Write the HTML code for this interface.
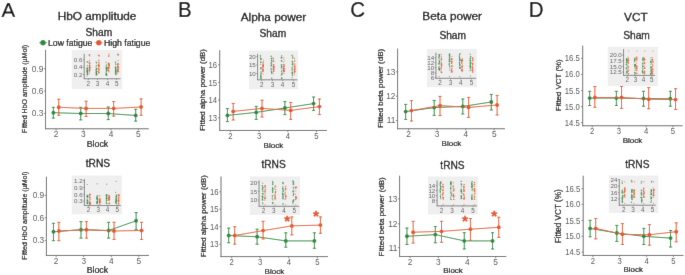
<!DOCTYPE html>
<html><head><meta charset="utf-8"><style>
html,body{margin:0;padding:0;background:#fff;}
svg{display:block;font-family:"Liberation Sans", sans-serif;will-change:transform;}
</style></head><body>
<svg width="685" height="275" viewBox="0 0 685 275">
<defs><filter id="bl" x="0" y="0" width="100%" height="100%" filterUnits="userSpaceOnUse"><feConvolveMatrix order="3" kernelMatrix="0.00524 0.06192 0.00524 0.06192 0.73137 0.06192 0.00524 0.06192 0.00524" edgeMode="duplicate"/></filter></defs>
<g filter="url(#bl)">
<rect width="685" height="275" fill="#fff"/>
<text x="1.50" y="17.20" font-size="20.5" text-anchor="start" fill="#000" stroke="#000" stroke-width="0.164" >A</text>
<text transform="translate(177.90,17.00) scale(1,1.08)" font-size="20.5" text-anchor="start" fill="#000" stroke="#000" stroke-width="0.164" >B</text>
<text transform="translate(350.20,17.10) scale(1,1.08)" font-size="20.5" text-anchor="start" fill="#000" stroke="#000" stroke-width="0.164" >C</text>
<text transform="translate(528.80,16.50) scale(1,1.08)" font-size="20.5" text-anchor="start" fill="#000" stroke="#000" stroke-width="0.164" >D</text>
<text x="97.00" y="20.30" font-size="11.8" text-anchor="middle" fill="#000" stroke="#000" stroke-width="0.295" >HbO amplitude</text>
<text x="273.50" y="21.00" font-size="11.8" text-anchor="middle" fill="#000" stroke="#000" stroke-width="0.295" >Alpha power</text>
<text x="452.20" y="19.80" font-size="11.8" text-anchor="middle" fill="#000" stroke="#000" stroke-width="0.295" >Beta power</text>
<text x="635.90" y="20.60" font-size="11.8" text-anchor="middle" fill="#000" stroke="#000" stroke-width="0.295" >VCT</text>
<text x="98.90" y="35.50" font-size="10.2" text-anchor="middle" fill="#000" stroke="#000" stroke-width="0.255" >Sham</text>
<text x="272.90" y="37.30" font-size="10.2" text-anchor="middle" fill="#000" stroke="#000" stroke-width="0.255" >Sham</text>
<text x="452.70" y="39.10" font-size="10.2" text-anchor="middle" fill="#000" stroke="#000" stroke-width="0.255" >Sham</text>
<text x="636.50" y="39.00" font-size="10.2" text-anchor="middle" fill="#000" stroke="#000" stroke-width="0.255" >Sham</text>
<text x="97.90" y="167.40" font-size="10.2" text-anchor="middle" fill="#000" stroke="#000" stroke-width="0.255" >tRNS</text>
<text x="273.60" y="168.10" font-size="10.2" text-anchor="middle" fill="#000" stroke="#000" stroke-width="0.255" >tRNS</text>
<text x="452.50" y="169.00" font-size="10.2" text-anchor="middle" fill="#000" stroke="#000" stroke-width="0.255" >tRNS</text>
<text x="637.30" y="168.20" font-size="10.2" text-anchor="middle" fill="#000" stroke="#000" stroke-width="0.255" >tRNS</text>
<line x1="39.10" y1="42.70" x2="46.90" y2="42.70" stroke="#2b8a3e" stroke-width="0.7" />
<circle cx="43.00" cy="42.70" r="2.7" fill="#2b8a3e" />
<text x="48.00" y="45.80" font-size="8.7" text-anchor="start" fill="#000" stroke="#000" stroke-width="0.217" >Low fatigue</text>
<line x1="94.90" y1="42.70" x2="102.70" y2="42.70" stroke="#e5592a" stroke-width="0.7" />
<circle cx="98.80" cy="42.70" r="2.7" fill="#e5592a" />
<text x="104.00" y="45.80" font-size="8.7" text-anchor="start" fill="#000" stroke="#000" stroke-width="0.217" >High fatigue</text>
<line x1="45.55" y1="49.80" x2="45.55" y2="129.27" stroke="#6a6a6a" stroke-width="1.0" />
<line x1="45.05" y1="128.77" x2="148.80" y2="128.77" stroke="#6a6a6a" stroke-width="1.0" />
<line x1="43.85" y1="68.60" x2="45.55" y2="68.60" stroke="#6a6a6a" stroke-width="0.8" />
<text x="43.35" y="71.55" font-size="8.3" text-anchor="end" fill="#4d4d4d"  >0.9</text>
<line x1="43.85" y1="91.00" x2="45.55" y2="91.00" stroke="#6a6a6a" stroke-width="0.8" />
<text x="43.35" y="93.95" font-size="8.3" text-anchor="end" fill="#4d4d4d"  >0.6</text>
<line x1="43.85" y1="113.40" x2="45.55" y2="113.40" stroke="#6a6a6a" stroke-width="0.8" />
<text x="43.35" y="116.35" font-size="8.3" text-anchor="end" fill="#4d4d4d"  >0.3</text>
<line x1="56.05" y1="128.77" x2="56.05" y2="130.47" stroke="#6a6a6a" stroke-width="0.8" />
<text x="56.05" y="137.32" font-size="8.3" text-anchor="middle" fill="#4d4d4d"  >2</text>
<line x1="83.40" y1="128.77" x2="83.40" y2="130.47" stroke="#6a6a6a" stroke-width="0.8" />
<text x="83.40" y="137.32" font-size="8.3" text-anchor="middle" fill="#4d4d4d"  >3</text>
<line x1="110.95" y1="128.77" x2="110.95" y2="130.47" stroke="#6a6a6a" stroke-width="0.8" />
<text x="110.95" y="137.32" font-size="8.3" text-anchor="middle" fill="#4d4d4d"  >4</text>
<line x1="138.40" y1="128.77" x2="138.40" y2="130.47" stroke="#6a6a6a" stroke-width="0.8" />
<text x="138.40" y="137.32" font-size="8.3" text-anchor="middle" fill="#4d4d4d"  >5</text>
<text x="97.50" y="147.00" font-size="8.8" text-anchor="middle" fill="#000" stroke="#000" stroke-width="0.220" >Block</text>
<text x="0.00" y="0.00" font-size="7.0" text-anchor="middle" fill="#000" stroke="#000" stroke-width="0.175" transform="translate(27.30,88.85) rotate(-90)">Fitted HbO amplitude (µMol)</text>
<polyline points="53.35,112.70 80.70,113.50 108.25,113.50 135.70,115.50" fill="none" stroke="#2b8a3e" stroke-width="0.95"/>
<line x1="53.35" y1="107.30" x2="53.35" y2="118.10" stroke="#2b8a3e" stroke-width="1.0" />
<line x1="51.80" y1="107.30" x2="54.90" y2="107.30" stroke="#2b8a3e" stroke-width="1.0" />
<line x1="51.80" y1="118.10" x2="54.90" y2="118.10" stroke="#2b8a3e" stroke-width="1.0" />
<circle cx="53.35" cy="112.70" r="1.95" fill="#2b8a3e" />
<line x1="80.70" y1="107.30" x2="80.70" y2="119.90" stroke="#2b8a3e" stroke-width="1.0" />
<line x1="79.15" y1="107.30" x2="82.25" y2="107.30" stroke="#2b8a3e" stroke-width="1.0" />
<line x1="79.15" y1="119.90" x2="82.25" y2="119.90" stroke="#2b8a3e" stroke-width="1.0" />
<circle cx="80.70" cy="113.50" r="1.95" fill="#2b8a3e" />
<line x1="108.25" y1="107.00" x2="108.25" y2="119.60" stroke="#2b8a3e" stroke-width="1.0" />
<line x1="106.70" y1="107.00" x2="109.80" y2="107.00" stroke="#2b8a3e" stroke-width="1.0" />
<line x1="106.70" y1="119.60" x2="109.80" y2="119.60" stroke="#2b8a3e" stroke-width="1.0" />
<circle cx="108.25" cy="113.50" r="1.95" fill="#2b8a3e" />
<line x1="135.70" y1="109.30" x2="135.70" y2="121.10" stroke="#2b8a3e" stroke-width="1.0" />
<line x1="134.15" y1="109.30" x2="137.25" y2="109.30" stroke="#2b8a3e" stroke-width="1.0" />
<line x1="134.15" y1="121.10" x2="137.25" y2="121.10" stroke="#2b8a3e" stroke-width="1.0" />
<circle cx="135.70" cy="115.50" r="1.95" fill="#2b8a3e" />
<polyline points="58.75,107.30 86.10,108.40 113.65,108.40 141.10,107.00" fill="none" stroke="#e5592a" stroke-width="0.95"/>
<line x1="58.75" y1="99.20" x2="58.75" y2="115.30" stroke="#e5592a" stroke-width="1.0" />
<line x1="57.20" y1="99.20" x2="60.30" y2="99.20" stroke="#e5592a" stroke-width="1.0" />
<line x1="57.20" y1="115.30" x2="60.30" y2="115.30" stroke="#e5592a" stroke-width="1.0" />
<circle cx="58.75" cy="107.30" r="1.95" fill="#e5592a" />
<line x1="86.10" y1="101.20" x2="86.10" y2="116.50" stroke="#e5592a" stroke-width="1.0" />
<line x1="84.55" y1="101.20" x2="87.65" y2="101.20" stroke="#e5592a" stroke-width="1.0" />
<line x1="84.55" y1="116.50" x2="87.65" y2="116.50" stroke="#e5592a" stroke-width="1.0" />
<circle cx="86.10" cy="108.40" r="1.95" fill="#e5592a" />
<line x1="113.65" y1="101.50" x2="113.65" y2="116.10" stroke="#e5592a" stroke-width="1.0" />
<line x1="112.10" y1="101.50" x2="115.20" y2="101.50" stroke="#e5592a" stroke-width="1.0" />
<line x1="112.10" y1="116.10" x2="115.20" y2="116.10" stroke="#e5592a" stroke-width="1.0" />
<circle cx="113.65" cy="108.40" r="1.95" fill="#e5592a" />
<line x1="141.10" y1="98.90" x2="141.10" y2="115.30" stroke="#e5592a" stroke-width="1.0" />
<line x1="139.55" y1="98.90" x2="142.65" y2="98.90" stroke="#e5592a" stroke-width="1.0" />
<line x1="139.55" y1="115.30" x2="142.65" y2="115.30" stroke="#e5592a" stroke-width="1.0" />
<circle cx="141.10" cy="107.00" r="1.95" fill="#e5592a" />
<line x1="219.70" y1="50.10" x2="219.70" y2="130.96" stroke="#6a6a6a" stroke-width="1.0" />
<line x1="219.20" y1="130.46" x2="327.00" y2="130.46" stroke="#6a6a6a" stroke-width="1.0" />
<line x1="218.00" y1="64.70" x2="219.70" y2="64.70" stroke="#6a6a6a" stroke-width="0.8" />
<text transform="translate(217.00,67.71) scale(1,1.1)" font-size="7.7" text-anchor="end" fill="#4d4d4d"  >16</text>
<line x1="218.00" y1="82.50" x2="219.70" y2="82.50" stroke="#6a6a6a" stroke-width="0.8" />
<text transform="translate(217.00,85.51) scale(1,1.1)" font-size="7.7" text-anchor="end" fill="#4d4d4d"  >15</text>
<line x1="218.00" y1="100.10" x2="219.70" y2="100.10" stroke="#6a6a6a" stroke-width="0.8" />
<text transform="translate(217.00,103.11) scale(1,1.1)" font-size="7.7" text-anchor="end" fill="#4d4d4d"  >14</text>
<line x1="218.00" y1="117.80" x2="219.70" y2="117.80" stroke="#6a6a6a" stroke-width="0.8" />
<text transform="translate(217.00,120.81) scale(1,1.1)" font-size="7.7" text-anchor="end" fill="#4d4d4d"  >13</text>
<line x1="230.30" y1="130.46" x2="230.30" y2="132.16" stroke="#6a6a6a" stroke-width="0.8" />
<text transform="translate(230.30,139.07) scale(1,1.1)" font-size="7.7" text-anchor="middle" fill="#4d4d4d"  >2</text>
<line x1="259.10" y1="130.46" x2="259.10" y2="132.16" stroke="#6a6a6a" stroke-width="0.8" />
<text transform="translate(259.10,139.07) scale(1,1.1)" font-size="7.7" text-anchor="middle" fill="#4d4d4d"  >3</text>
<line x1="287.80" y1="130.46" x2="287.80" y2="132.16" stroke="#6a6a6a" stroke-width="0.8" />
<text transform="translate(287.80,139.07) scale(1,1.1)" font-size="7.7" text-anchor="middle" fill="#4d4d4d"  >4</text>
<line x1="316.50" y1="130.46" x2="316.50" y2="132.16" stroke="#6a6a6a" stroke-width="0.8" />
<text transform="translate(316.50,139.07) scale(1,1.1)" font-size="7.7" text-anchor="middle" fill="#4d4d4d"  >5</text>
<text x="273.35" y="147.80" font-size="8.0" text-anchor="middle" fill="#000" stroke="#000" stroke-width="0.200" >Block</text>
<text x="0.00" y="0.00" font-size="7.9" text-anchor="middle" fill="#000" stroke="#000" stroke-width="0.198" transform="translate(205.30,90.00) rotate(-90)">Fitted alpha power (dB)</text>
<polyline points="227.40,115.40 256.20,112.40 284.90,108.00 313.60,103.60" fill="none" stroke="#2b8a3e" stroke-width="0.95"/>
<line x1="227.40" y1="108.60" x2="227.40" y2="121.60" stroke="#2b8a3e" stroke-width="1.0" />
<line x1="225.85" y1="108.60" x2="228.95" y2="108.60" stroke="#2b8a3e" stroke-width="1.0" />
<line x1="225.85" y1="121.60" x2="228.95" y2="121.60" stroke="#2b8a3e" stroke-width="1.0" />
<circle cx="227.40" cy="115.40" r="1.95" fill="#2b8a3e" />
<line x1="256.20" y1="106.40" x2="256.20" y2="119.40" stroke="#2b8a3e" stroke-width="1.0" />
<line x1="254.65" y1="106.40" x2="257.75" y2="106.40" stroke="#2b8a3e" stroke-width="1.0" />
<line x1="254.65" y1="119.40" x2="257.75" y2="119.40" stroke="#2b8a3e" stroke-width="1.0" />
<circle cx="256.20" cy="112.40" r="1.95" fill="#2b8a3e" />
<line x1="284.90" y1="101.60" x2="284.90" y2="114.60" stroke="#2b8a3e" stroke-width="1.0" />
<line x1="283.35" y1="101.60" x2="286.45" y2="101.60" stroke="#2b8a3e" stroke-width="1.0" />
<line x1="283.35" y1="114.60" x2="286.45" y2="114.60" stroke="#2b8a3e" stroke-width="1.0" />
<circle cx="284.90" cy="108.00" r="1.95" fill="#2b8a3e" />
<line x1="313.60" y1="97.00" x2="313.60" y2="110.40" stroke="#2b8a3e" stroke-width="1.0" />
<line x1="312.05" y1="97.00" x2="315.15" y2="97.00" stroke="#2b8a3e" stroke-width="1.0" />
<line x1="312.05" y1="110.40" x2="315.15" y2="110.40" stroke="#2b8a3e" stroke-width="1.0" />
<circle cx="313.60" cy="103.60" r="1.95" fill="#2b8a3e" />
<polyline points="233.20,111.40 262.00,108.40 290.70,110.40 319.40,106.60" fill="none" stroke="#e5592a" stroke-width="0.95"/>
<line x1="233.20" y1="103.40" x2="233.20" y2="120.00" stroke="#e5592a" stroke-width="1.0" />
<line x1="231.65" y1="103.40" x2="234.75" y2="103.40" stroke="#e5592a" stroke-width="1.0" />
<line x1="231.65" y1="120.00" x2="234.75" y2="120.00" stroke="#e5592a" stroke-width="1.0" />
<circle cx="233.20" cy="111.40" r="1.95" fill="#e5592a" />
<line x1="262.00" y1="100.20" x2="262.00" y2="117.00" stroke="#e5592a" stroke-width="1.0" />
<line x1="260.45" y1="100.20" x2="263.55" y2="100.20" stroke="#e5592a" stroke-width="1.0" />
<line x1="260.45" y1="117.00" x2="263.55" y2="117.00" stroke="#e5592a" stroke-width="1.0" />
<circle cx="262.00" cy="108.40" r="1.95" fill="#e5592a" />
<line x1="290.70" y1="102.40" x2="290.70" y2="119.40" stroke="#e5592a" stroke-width="1.0" />
<line x1="289.15" y1="102.40" x2="292.25" y2="102.40" stroke="#e5592a" stroke-width="1.0" />
<line x1="289.15" y1="119.40" x2="292.25" y2="119.40" stroke="#e5592a" stroke-width="1.0" />
<circle cx="290.70" cy="110.40" r="1.95" fill="#e5592a" />
<line x1="319.40" y1="99.00" x2="319.40" y2="114.60" stroke="#e5592a" stroke-width="1.0" />
<line x1="317.85" y1="99.00" x2="320.95" y2="99.00" stroke="#e5592a" stroke-width="1.0" />
<line x1="317.85" y1="114.60" x2="320.95" y2="114.60" stroke="#e5592a" stroke-width="1.0" />
<circle cx="319.40" cy="106.60" r="1.95" fill="#e5592a" />
<line x1="397.60" y1="48.50" x2="397.60" y2="129.25" stroke="#6a6a6a" stroke-width="1.0" />
<line x1="397.10" y1="128.75" x2="505.00" y2="128.75" stroke="#6a6a6a" stroke-width="1.0" />
<line x1="395.90" y1="71.80" x2="397.60" y2="71.80" stroke="#6a6a6a" stroke-width="0.8" />
<text x="395.40" y="74.75" font-size="8.3" text-anchor="end" fill="#4d4d4d"  >13</text>
<line x1="395.90" y1="96.20" x2="397.60" y2="96.20" stroke="#6a6a6a" stroke-width="0.8" />
<text x="395.40" y="99.15" font-size="8.3" text-anchor="end" fill="#4d4d4d"  >12</text>
<line x1="395.90" y1="120.50" x2="397.60" y2="120.50" stroke="#6a6a6a" stroke-width="0.8" />
<text x="395.40" y="123.45" font-size="8.3" text-anchor="end" fill="#4d4d4d"  >11</text>
<line x1="408.55" y1="128.75" x2="408.55" y2="130.45" stroke="#6a6a6a" stroke-width="0.8" />
<text x="408.55" y="137.30" font-size="8.3" text-anchor="middle" fill="#4d4d4d"  >2</text>
<line x1="437.10" y1="128.75" x2="437.10" y2="130.45" stroke="#6a6a6a" stroke-width="0.8" />
<text x="437.10" y="137.30" font-size="8.3" text-anchor="middle" fill="#4d4d4d"  >3</text>
<line x1="465.70" y1="128.75" x2="465.70" y2="130.45" stroke="#6a6a6a" stroke-width="0.8" />
<text x="465.70" y="137.30" font-size="8.3" text-anchor="middle" fill="#4d4d4d"  >4</text>
<line x1="494.20" y1="128.75" x2="494.20" y2="130.45" stroke="#6a6a6a" stroke-width="0.8" />
<text x="494.20" y="137.30" font-size="8.3" text-anchor="middle" fill="#4d4d4d"  >5</text>
<text x="451.40" y="146.00" font-size="8.0" text-anchor="middle" fill="#000" stroke="#000" stroke-width="0.200" >Block</text>
<text x="0.00" y="0.00" font-size="8.0" text-anchor="middle" fill="#000" stroke="#000" stroke-width="0.200" transform="translate(382.60,88.40) rotate(-90)">Fitted beta power (dB)</text>
<polyline points="405.65,111.60 434.20,107.60 462.80,106.40 491.30,102.00" fill="none" stroke="#2b8a3e" stroke-width="0.95"/>
<line x1="405.65" y1="104.40" x2="405.65" y2="119.40" stroke="#2b8a3e" stroke-width="1.0" />
<line x1="404.10" y1="104.40" x2="407.20" y2="104.40" stroke="#2b8a3e" stroke-width="1.0" />
<line x1="404.10" y1="119.40" x2="407.20" y2="119.40" stroke="#2b8a3e" stroke-width="1.0" />
<circle cx="405.65" cy="111.60" r="1.95" fill="#2b8a3e" />
<line x1="434.20" y1="100.40" x2="434.20" y2="115.40" stroke="#2b8a3e" stroke-width="1.0" />
<line x1="432.65" y1="100.40" x2="435.75" y2="100.40" stroke="#2b8a3e" stroke-width="1.0" />
<line x1="432.65" y1="115.40" x2="435.75" y2="115.40" stroke="#2b8a3e" stroke-width="1.0" />
<circle cx="434.20" cy="107.60" r="1.95" fill="#2b8a3e" />
<line x1="462.80" y1="99.00" x2="462.80" y2="114.00" stroke="#2b8a3e" stroke-width="1.0" />
<line x1="461.25" y1="99.00" x2="464.35" y2="99.00" stroke="#2b8a3e" stroke-width="1.0" />
<line x1="461.25" y1="114.00" x2="464.35" y2="114.00" stroke="#2b8a3e" stroke-width="1.0" />
<circle cx="462.80" cy="106.40" r="1.95" fill="#2b8a3e" />
<line x1="491.30" y1="94.40" x2="491.30" y2="110.00" stroke="#2b8a3e" stroke-width="1.0" />
<line x1="489.75" y1="94.40" x2="492.85" y2="94.40" stroke="#2b8a3e" stroke-width="1.0" />
<line x1="489.75" y1="110.00" x2="492.85" y2="110.00" stroke="#2b8a3e" stroke-width="1.0" />
<circle cx="491.30" cy="102.00" r="1.95" fill="#2b8a3e" />
<polyline points="411.45,110.60 440.00,105.60 468.60,107.40 497.10,105.00" fill="none" stroke="#e5592a" stroke-width="0.95"/>
<line x1="411.45" y1="100.60" x2="411.45" y2="121.00" stroke="#e5592a" stroke-width="1.0" />
<line x1="409.90" y1="100.60" x2="413.00" y2="100.60" stroke="#e5592a" stroke-width="1.0" />
<line x1="409.90" y1="121.00" x2="413.00" y2="121.00" stroke="#e5592a" stroke-width="1.0" />
<circle cx="411.45" cy="110.60" r="1.95" fill="#e5592a" />
<line x1="440.00" y1="96.40" x2="440.00" y2="115.60" stroke="#e5592a" stroke-width="1.0" />
<line x1="438.45" y1="96.40" x2="441.55" y2="96.40" stroke="#e5592a" stroke-width="1.0" />
<line x1="438.45" y1="115.60" x2="441.55" y2="115.60" stroke="#e5592a" stroke-width="1.0" />
<circle cx="440.00" cy="105.60" r="1.95" fill="#e5592a" />
<line x1="468.60" y1="97.40" x2="468.60" y2="117.40" stroke="#e5592a" stroke-width="1.0" />
<line x1="467.05" y1="97.40" x2="470.15" y2="97.40" stroke="#e5592a" stroke-width="1.0" />
<line x1="467.05" y1="117.40" x2="470.15" y2="117.40" stroke="#e5592a" stroke-width="1.0" />
<circle cx="468.60" cy="107.40" r="1.95" fill="#e5592a" />
<line x1="497.10" y1="95.40" x2="497.10" y2="115.00" stroke="#e5592a" stroke-width="1.0" />
<line x1="495.55" y1="95.40" x2="498.65" y2="95.40" stroke="#e5592a" stroke-width="1.0" />
<line x1="495.55" y1="115.00" x2="498.65" y2="115.00" stroke="#e5592a" stroke-width="1.0" />
<circle cx="497.10" cy="105.00" r="1.95" fill="#e5592a" />
<line x1="582.70" y1="45.60" x2="582.70" y2="126.25" stroke="#6a6a6a" stroke-width="1.0" />
<line x1="582.20" y1="125.75" x2="682.60" y2="125.75" stroke="#6a6a6a" stroke-width="1.0" />
<line x1="581.00" y1="58.30" x2="582.70" y2="58.30" stroke="#6a6a6a" stroke-width="0.8" />
<text transform="translate(579.70,61.31) scale(1,1.1)" font-size="7.7" text-anchor="end" fill="#4d4d4d"  >16.5</text>
<line x1="581.00" y1="74.40" x2="582.70" y2="74.40" stroke="#6a6a6a" stroke-width="0.8" />
<text transform="translate(579.70,77.41) scale(1,1.1)" font-size="7.7" text-anchor="end" fill="#4d4d4d"  >16.0</text>
<line x1="581.00" y1="90.50" x2="582.70" y2="90.50" stroke="#6a6a6a" stroke-width="0.8" />
<text transform="translate(579.70,93.51) scale(1,1.1)" font-size="7.7" text-anchor="end" fill="#4d4d4d"  >15.5</text>
<line x1="581.00" y1="106.60" x2="582.70" y2="106.60" stroke="#6a6a6a" stroke-width="0.8" />
<text transform="translate(579.70,109.61) scale(1,1.1)" font-size="7.7" text-anchor="end" fill="#4d4d4d"  >15.0</text>
<line x1="581.00" y1="122.50" x2="582.70" y2="122.50" stroke="#6a6a6a" stroke-width="0.8" />
<text transform="translate(579.70,125.51) scale(1,1.1)" font-size="7.7" text-anchor="end" fill="#4d4d4d"  >14.5</text>
<line x1="592.25" y1="125.75" x2="592.25" y2="127.45" stroke="#6a6a6a" stroke-width="0.8" />
<text transform="translate(592.25,134.36) scale(1,1.1)" font-size="7.7" text-anchor="middle" fill="#4d4d4d"  >2</text>
<line x1="618.95" y1="125.75" x2="618.95" y2="127.45" stroke="#6a6a6a" stroke-width="0.8" />
<text transform="translate(618.95,134.36) scale(1,1.1)" font-size="7.7" text-anchor="middle" fill="#4d4d4d"  >3</text>
<line x1="646.10" y1="125.75" x2="646.10" y2="127.45" stroke="#6a6a6a" stroke-width="0.8" />
<text transform="translate(646.10,134.36) scale(1,1.1)" font-size="7.7" text-anchor="middle" fill="#4d4d4d"  >4</text>
<line x1="672.95" y1="125.75" x2="672.95" y2="127.45" stroke="#6a6a6a" stroke-width="0.8" />
<text transform="translate(672.95,134.36) scale(1,1.1)" font-size="7.7" text-anchor="middle" fill="#4d4d4d"  >5</text>
<text x="632.50" y="142.90" font-size="8.0" text-anchor="middle" fill="#000" stroke="#000" stroke-width="0.200" >Block</text>
<text x="0.00" y="0.00" font-size="7.9" text-anchor="middle" fill="#000" stroke="#000" stroke-width="0.198" transform="translate(560.90,85.35) rotate(-90)">Fitted VCT (%)</text>
<polyline points="589.65,98.10 616.35,98.10 643.50,98.50 670.35,98.80" fill="none" stroke="#2b8a3e" stroke-width="0.95"/>
<line x1="589.65" y1="91.30" x2="589.65" y2="105.50" stroke="#2b8a3e" stroke-width="1.0" />
<line x1="588.10" y1="91.30" x2="591.20" y2="91.30" stroke="#2b8a3e" stroke-width="1.0" />
<line x1="588.10" y1="105.50" x2="591.20" y2="105.50" stroke="#2b8a3e" stroke-width="1.0" />
<circle cx="589.65" cy="98.10" r="1.95" fill="#2b8a3e" />
<line x1="616.35" y1="91.30" x2="616.35" y2="105.50" stroke="#2b8a3e" stroke-width="1.0" />
<line x1="614.80" y1="91.30" x2="617.90" y2="91.30" stroke="#2b8a3e" stroke-width="1.0" />
<line x1="614.80" y1="105.50" x2="617.90" y2="105.50" stroke="#2b8a3e" stroke-width="1.0" />
<circle cx="616.35" cy="98.10" r="1.95" fill="#2b8a3e" />
<line x1="643.50" y1="91.30" x2="643.50" y2="106.20" stroke="#2b8a3e" stroke-width="1.0" />
<line x1="641.95" y1="91.30" x2="645.05" y2="91.30" stroke="#2b8a3e" stroke-width="1.0" />
<line x1="641.95" y1="106.20" x2="645.05" y2="106.20" stroke="#2b8a3e" stroke-width="1.0" />
<circle cx="643.50" cy="98.50" r="1.95" fill="#2b8a3e" />
<line x1="670.35" y1="91.30" x2="670.35" y2="106.20" stroke="#2b8a3e" stroke-width="1.0" />
<line x1="668.80" y1="91.30" x2="671.90" y2="91.30" stroke="#2b8a3e" stroke-width="1.0" />
<line x1="668.80" y1="106.20" x2="671.90" y2="106.20" stroke="#2b8a3e" stroke-width="1.0" />
<circle cx="670.35" cy="98.80" r="1.95" fill="#2b8a3e" />
<polyline points="594.85,97.50 621.55,97.50 648.70,99.20 675.55,99.60" fill="none" stroke="#e5592a" stroke-width="0.95"/>
<line x1="594.85" y1="86.50" x2="594.85" y2="107.30" stroke="#e5592a" stroke-width="1.0" />
<line x1="593.30" y1="86.50" x2="596.40" y2="86.50" stroke="#e5592a" stroke-width="1.0" />
<line x1="593.30" y1="107.30" x2="596.40" y2="107.30" stroke="#e5592a" stroke-width="1.0" />
<circle cx="594.85" cy="97.50" r="1.95" fill="#e5592a" />
<line x1="621.55" y1="86.50" x2="621.55" y2="108.40" stroke="#e5592a" stroke-width="1.0" />
<line x1="620.00" y1="86.50" x2="623.10" y2="86.50" stroke="#e5592a" stroke-width="1.0" />
<line x1="620.00" y1="108.40" x2="623.10" y2="108.40" stroke="#e5592a" stroke-width="1.0" />
<circle cx="621.55" cy="97.50" r="1.95" fill="#e5592a" />
<line x1="648.70" y1="87.60" x2="648.70" y2="108.80" stroke="#e5592a" stroke-width="1.0" />
<line x1="647.15" y1="87.60" x2="650.25" y2="87.60" stroke="#e5592a" stroke-width="1.0" />
<line x1="647.15" y1="108.80" x2="650.25" y2="108.80" stroke="#e5592a" stroke-width="1.0" />
<circle cx="648.70" cy="99.20" r="1.95" fill="#e5592a" />
<line x1="675.55" y1="88.70" x2="675.55" y2="109.50" stroke="#e5592a" stroke-width="1.0" />
<line x1="674.00" y1="88.70" x2="677.10" y2="88.70" stroke="#e5592a" stroke-width="1.0" />
<line x1="674.00" y1="109.50" x2="677.10" y2="109.50" stroke="#e5592a" stroke-width="1.0" />
<circle cx="675.55" cy="99.60" r="1.95" fill="#e5592a" />
<line x1="46.40" y1="176.60" x2="46.40" y2="255.95" stroke="#6a6a6a" stroke-width="1.0" />
<line x1="45.90" y1="255.45" x2="149.00" y2="255.45" stroke="#6a6a6a" stroke-width="1.0" />
<line x1="44.70" y1="195.40" x2="46.40" y2="195.40" stroke="#6a6a6a" stroke-width="0.8" />
<text x="44.20" y="198.35" font-size="8.3" text-anchor="end" fill="#4d4d4d"  >0.9</text>
<line x1="44.70" y1="217.80" x2="46.40" y2="217.80" stroke="#6a6a6a" stroke-width="0.8" />
<text x="44.20" y="220.75" font-size="8.3" text-anchor="end" fill="#4d4d4d"  >0.6</text>
<line x1="44.70" y1="240.50" x2="46.40" y2="240.50" stroke="#6a6a6a" stroke-width="0.8" />
<text x="44.20" y="243.45" font-size="8.3" text-anchor="end" fill="#4d4d4d"  >0.3</text>
<line x1="56.15" y1="255.45" x2="56.15" y2="257.15" stroke="#6a6a6a" stroke-width="0.8" />
<text x="56.15" y="264.00" font-size="8.3" text-anchor="middle" fill="#4d4d4d"  >2</text>
<line x1="83.70" y1="255.45" x2="83.70" y2="257.15" stroke="#6a6a6a" stroke-width="0.8" />
<text x="83.70" y="264.00" font-size="8.3" text-anchor="middle" fill="#4d4d4d"  >3</text>
<line x1="111.30" y1="255.45" x2="111.30" y2="257.15" stroke="#6a6a6a" stroke-width="0.8" />
<text x="111.30" y="264.00" font-size="8.3" text-anchor="middle" fill="#4d4d4d"  >4</text>
<line x1="138.80" y1="255.45" x2="138.80" y2="257.15" stroke="#6a6a6a" stroke-width="0.8" />
<text x="138.80" y="264.00" font-size="8.3" text-anchor="middle" fill="#4d4d4d"  >5</text>
<text x="97.40" y="272.80" font-size="8.8" text-anchor="middle" fill="#000" stroke="#000" stroke-width="0.220" >Block</text>
<text x="0.00" y="0.00" font-size="7.0" text-anchor="middle" fill="#000" stroke="#000" stroke-width="0.175" transform="translate(27.20,215.70) rotate(-90)">Fitted HbO amplitude (µMol)</text>
<polyline points="53.45,231.80 81.00,229.70 108.60,230.50 136.10,220.80" fill="none" stroke="#2b8a3e" stroke-width="0.95"/>
<line x1="53.45" y1="223.30" x2="53.45" y2="240.70" stroke="#2b8a3e" stroke-width="1.0" />
<line x1="51.90" y1="223.30" x2="55.00" y2="223.30" stroke="#2b8a3e" stroke-width="1.0" />
<line x1="51.90" y1="240.70" x2="55.00" y2="240.70" stroke="#2b8a3e" stroke-width="1.0" />
<circle cx="53.45" cy="231.80" r="1.95" fill="#2b8a3e" />
<line x1="81.00" y1="221.60" x2="81.00" y2="238.10" stroke="#2b8a3e" stroke-width="1.0" />
<line x1="79.45" y1="221.60" x2="82.55" y2="221.60" stroke="#2b8a3e" stroke-width="1.0" />
<line x1="79.45" y1="238.10" x2="82.55" y2="238.10" stroke="#2b8a3e" stroke-width="1.0" />
<circle cx="81.00" cy="229.70" r="1.95" fill="#2b8a3e" />
<line x1="108.60" y1="222.30" x2="108.60" y2="238.10" stroke="#2b8a3e" stroke-width="1.0" />
<line x1="107.05" y1="222.30" x2="110.15" y2="222.30" stroke="#2b8a3e" stroke-width="1.0" />
<line x1="107.05" y1="238.10" x2="110.15" y2="238.10" stroke="#2b8a3e" stroke-width="1.0" />
<circle cx="108.60" cy="230.50" r="1.95" fill="#2b8a3e" />
<line x1="136.10" y1="212.60" x2="136.10" y2="229.70" stroke="#2b8a3e" stroke-width="1.0" />
<line x1="134.55" y1="212.60" x2="137.65" y2="212.60" stroke="#2b8a3e" stroke-width="1.0" />
<line x1="134.55" y1="229.70" x2="137.65" y2="229.70" stroke="#2b8a3e" stroke-width="1.0" />
<circle cx="136.10" cy="220.80" r="1.95" fill="#2b8a3e" />
<polyline points="58.85,231.00 86.40,229.70 114.00,231.00 141.50,230.50" fill="none" stroke="#e5592a" stroke-width="0.95"/>
<line x1="58.85" y1="222.30" x2="58.85" y2="240.70" stroke="#e5592a" stroke-width="1.0" />
<line x1="57.30" y1="222.30" x2="60.40" y2="222.30" stroke="#e5592a" stroke-width="1.0" />
<line x1="57.30" y1="240.70" x2="60.40" y2="240.70" stroke="#e5592a" stroke-width="1.0" />
<circle cx="58.85" cy="231.00" r="1.95" fill="#e5592a" />
<line x1="86.40" y1="221.60" x2="86.40" y2="238.10" stroke="#e5592a" stroke-width="1.0" />
<line x1="84.85" y1="221.60" x2="87.95" y2="221.60" stroke="#e5592a" stroke-width="1.0" />
<line x1="84.85" y1="238.10" x2="87.95" y2="238.10" stroke="#e5592a" stroke-width="1.0" />
<circle cx="86.40" cy="229.70" r="1.95" fill="#e5592a" />
<line x1="114.00" y1="222.30" x2="114.00" y2="239.40" stroke="#e5592a" stroke-width="1.0" />
<line x1="112.45" y1="222.30" x2="115.55" y2="222.30" stroke="#e5592a" stroke-width="1.0" />
<line x1="112.45" y1="239.40" x2="115.55" y2="239.40" stroke="#e5592a" stroke-width="1.0" />
<circle cx="114.00" cy="231.00" r="1.95" fill="#e5592a" />
<line x1="141.50" y1="222.30" x2="141.50" y2="239.40" stroke="#e5592a" stroke-width="1.0" />
<line x1="139.95" y1="222.30" x2="143.05" y2="222.30" stroke="#e5592a" stroke-width="1.0" />
<line x1="139.95" y1="239.40" x2="143.05" y2="239.40" stroke="#e5592a" stroke-width="1.0" />
<circle cx="141.50" cy="230.50" r="1.95" fill="#e5592a" />
<line x1="221.00" y1="176.50" x2="221.00" y2="257.10" stroke="#6a6a6a" stroke-width="1.0" />
<line x1="220.50" y1="256.60" x2="328.00" y2="256.60" stroke="#6a6a6a" stroke-width="1.0" />
<line x1="219.30" y1="191.80" x2="221.00" y2="191.80" stroke="#6a6a6a" stroke-width="0.8" />
<text transform="translate(218.50,194.81) scale(1,1.1)" font-size="7.7" text-anchor="end" fill="#4d4d4d"  >16</text>
<line x1="219.30" y1="209.20" x2="221.00" y2="209.20" stroke="#6a6a6a" stroke-width="0.8" />
<text transform="translate(218.50,212.21) scale(1,1.1)" font-size="7.7" text-anchor="end" fill="#4d4d4d"  >15</text>
<line x1="219.30" y1="226.60" x2="221.00" y2="226.60" stroke="#6a6a6a" stroke-width="0.8" />
<text transform="translate(218.50,229.61) scale(1,1.1)" font-size="7.7" text-anchor="end" fill="#4d4d4d"  >14</text>
<line x1="219.30" y1="244.20" x2="221.00" y2="244.20" stroke="#6a6a6a" stroke-width="0.8" />
<text transform="translate(218.50,247.21) scale(1,1.1)" font-size="7.7" text-anchor="end" fill="#4d4d4d"  >13</text>
<line x1="231.70" y1="256.60" x2="231.70" y2="258.30" stroke="#6a6a6a" stroke-width="0.8" />
<text transform="translate(231.70,265.21) scale(1,1.1)" font-size="7.7" text-anchor="middle" fill="#4d4d4d"  >2</text>
<line x1="260.10" y1="256.60" x2="260.10" y2="258.30" stroke="#6a6a6a" stroke-width="0.8" />
<text transform="translate(260.10,265.21) scale(1,1.1)" font-size="7.7" text-anchor="middle" fill="#4d4d4d"  >3</text>
<line x1="288.80" y1="256.60" x2="288.80" y2="258.30" stroke="#6a6a6a" stroke-width="0.8" />
<text transform="translate(288.80,265.21) scale(1,1.1)" font-size="7.7" text-anchor="middle" fill="#4d4d4d"  >4</text>
<line x1="317.40" y1="256.60" x2="317.40" y2="258.30" stroke="#6a6a6a" stroke-width="0.8" />
<text transform="translate(317.40,265.21) scale(1,1.1)" font-size="7.7" text-anchor="middle" fill="#4d4d4d"  >5</text>
<text x="274.40" y="273.60" font-size="8.0" text-anchor="middle" fill="#000" stroke="#000" stroke-width="0.200" >Block</text>
<text x="0.00" y="0.00" font-size="7.9" text-anchor="middle" fill="#000" stroke="#000" stroke-width="0.198" transform="translate(205.60,216.20) rotate(-90)">Fitted alpha power (dB)</text>
<polyline points="228.70,235.50 257.10,236.80 285.80,240.90 314.40,240.90" fill="none" stroke="#2b8a3e" stroke-width="0.95"/>
<line x1="228.70" y1="228.10" x2="228.70" y2="242.80" stroke="#2b8a3e" stroke-width="1.0" />
<line x1="227.15" y1="228.10" x2="230.25" y2="228.10" stroke="#2b8a3e" stroke-width="1.0" />
<line x1="227.15" y1="242.80" x2="230.25" y2="242.80" stroke="#2b8a3e" stroke-width="1.0" />
<circle cx="228.70" cy="235.50" r="1.95" fill="#2b8a3e" />
<line x1="257.10" y1="229.20" x2="257.10" y2="244.20" stroke="#2b8a3e" stroke-width="1.0" />
<line x1="255.55" y1="229.20" x2="258.65" y2="229.20" stroke="#2b8a3e" stroke-width="1.0" />
<line x1="255.55" y1="244.20" x2="258.65" y2="244.20" stroke="#2b8a3e" stroke-width="1.0" />
<circle cx="257.10" cy="236.80" r="1.95" fill="#2b8a3e" />
<line x1="285.80" y1="232.80" x2="285.80" y2="247.20" stroke="#2b8a3e" stroke-width="1.0" />
<line x1="284.25" y1="232.80" x2="287.35" y2="232.80" stroke="#2b8a3e" stroke-width="1.0" />
<line x1="284.25" y1="247.20" x2="287.35" y2="247.20" stroke="#2b8a3e" stroke-width="1.0" />
<circle cx="285.80" cy="240.90" r="1.95" fill="#2b8a3e" />
<line x1="314.40" y1="232.80" x2="314.40" y2="248.30" stroke="#2b8a3e" stroke-width="1.0" />
<line x1="312.85" y1="232.80" x2="315.95" y2="232.80" stroke="#2b8a3e" stroke-width="1.0" />
<line x1="312.85" y1="248.30" x2="315.95" y2="248.30" stroke="#2b8a3e" stroke-width="1.0" />
<circle cx="314.40" cy="240.90" r="1.95" fill="#2b8a3e" />
<polyline points="234.70,235.50 263.10,230.60 291.80,225.90 320.40,225.10" fill="none" stroke="#e5592a" stroke-width="0.95"/>
<line x1="234.70" y1="226.70" x2="234.70" y2="244.20" stroke="#e5592a" stroke-width="1.0" />
<line x1="233.15" y1="226.70" x2="236.25" y2="226.70" stroke="#e5592a" stroke-width="1.0" />
<line x1="233.15" y1="244.20" x2="236.25" y2="244.20" stroke="#e5592a" stroke-width="1.0" />
<circle cx="234.70" cy="235.50" r="1.95" fill="#e5592a" />
<line x1="263.10" y1="221.30" x2="263.10" y2="239.00" stroke="#e5592a" stroke-width="1.0" />
<line x1="261.55" y1="221.30" x2="264.65" y2="221.30" stroke="#e5592a" stroke-width="1.0" />
<line x1="261.55" y1="239.00" x2="264.65" y2="239.00" stroke="#e5592a" stroke-width="1.0" />
<circle cx="263.10" cy="230.60" r="1.95" fill="#e5592a" />
<line x1="291.80" y1="216.90" x2="291.80" y2="234.90" stroke="#e5592a" stroke-width="1.0" />
<line x1="290.25" y1="216.90" x2="293.35" y2="216.90" stroke="#e5592a" stroke-width="1.0" />
<line x1="290.25" y1="234.90" x2="293.35" y2="234.90" stroke="#e5592a" stroke-width="1.0" />
<circle cx="291.80" cy="225.90" r="1.95" fill="#e5592a" />
<line x1="320.40" y1="216.90" x2="320.40" y2="233.30" stroke="#e5592a" stroke-width="1.0" />
<line x1="318.85" y1="216.90" x2="321.95" y2="216.90" stroke="#e5592a" stroke-width="1.0" />
<line x1="318.85" y1="233.30" x2="321.95" y2="233.30" stroke="#e5592a" stroke-width="1.0" />
<circle cx="320.40" cy="225.10" r="1.95" fill="#e5592a" />
<text x="287.20" y="226.10" font-size="15.2" text-anchor="middle" fill="#e5592a" stroke="#e5592a" stroke-width="0.380" font-weight="bold">*</text>
<text x="315.90" y="221.40" font-size="15.2" text-anchor="middle" fill="#e5592a" stroke="#e5592a" stroke-width="0.380" font-weight="bold">*</text>
<line x1="399.60" y1="175.70" x2="399.60" y2="257.00" stroke="#6a6a6a" stroke-width="1.0" />
<line x1="399.10" y1="256.50" x2="506.30" y2="256.50" stroke="#6a6a6a" stroke-width="1.0" />
<line x1="397.90" y1="198.80" x2="399.60" y2="198.80" stroke="#6a6a6a" stroke-width="0.8" />
<text x="397.40" y="201.75" font-size="8.3" text-anchor="end" fill="#4d4d4d"  >13</text>
<line x1="397.90" y1="223.80" x2="399.60" y2="223.80" stroke="#6a6a6a" stroke-width="0.8" />
<text x="397.40" y="226.75" font-size="8.3" text-anchor="end" fill="#4d4d4d"  >12</text>
<line x1="397.90" y1="247.70" x2="399.60" y2="247.70" stroke="#6a6a6a" stroke-width="0.8" />
<text x="397.40" y="250.65" font-size="8.3" text-anchor="end" fill="#4d4d4d"  >11</text>
<line x1="410.05" y1="256.50" x2="410.05" y2="258.20" stroke="#6a6a6a" stroke-width="0.8" />
<text x="410.05" y="265.05" font-size="8.3" text-anchor="middle" fill="#4d4d4d"  >2</text>
<line x1="438.40" y1="256.50" x2="438.40" y2="258.20" stroke="#6a6a6a" stroke-width="0.8" />
<text x="438.40" y="265.05" font-size="8.3" text-anchor="middle" fill="#4d4d4d"  >3</text>
<line x1="467.35" y1="256.50" x2="467.35" y2="258.20" stroke="#6a6a6a" stroke-width="0.8" />
<text x="467.35" y="265.05" font-size="8.3" text-anchor="middle" fill="#4d4d4d"  >4</text>
<line x1="495.65" y1="256.50" x2="495.65" y2="258.20" stroke="#6a6a6a" stroke-width="0.8" />
<text x="495.65" y="265.05" font-size="8.3" text-anchor="middle" fill="#4d4d4d"  >5</text>
<text x="453.05" y="272.90" font-size="8.0" text-anchor="middle" fill="#000" stroke="#000" stroke-width="0.200" >Block</text>
<text x="0.00" y="0.00" font-size="8.0" text-anchor="middle" fill="#000" stroke="#000" stroke-width="0.200" transform="translate(384.00,216.80) rotate(-90)">Fitted beta power (dB)</text>
<polyline points="406.95,236.30 435.30,234.60 464.25,240.90 492.55,240.90" fill="none" stroke="#2b8a3e" stroke-width="0.95"/>
<line x1="406.95" y1="228.00" x2="406.95" y2="244.50" stroke="#2b8a3e" stroke-width="1.0" />
<line x1="405.40" y1="228.00" x2="408.50" y2="228.00" stroke="#2b8a3e" stroke-width="1.0" />
<line x1="405.40" y1="244.50" x2="408.50" y2="244.50" stroke="#2b8a3e" stroke-width="1.0" />
<circle cx="406.95" cy="236.30" r="1.95" fill="#2b8a3e" />
<line x1="435.30" y1="226.50" x2="435.30" y2="242.80" stroke="#2b8a3e" stroke-width="1.0" />
<line x1="433.75" y1="226.50" x2="436.85" y2="226.50" stroke="#2b8a3e" stroke-width="1.0" />
<line x1="433.75" y1="242.80" x2="436.85" y2="242.80" stroke="#2b8a3e" stroke-width="1.0" />
<circle cx="435.30" cy="234.60" r="1.95" fill="#2b8a3e" />
<line x1="464.25" y1="232.70" x2="464.25" y2="249.00" stroke="#2b8a3e" stroke-width="1.0" />
<line x1="462.70" y1="232.70" x2="465.80" y2="232.70" stroke="#2b8a3e" stroke-width="1.0" />
<line x1="462.70" y1="249.00" x2="465.80" y2="249.00" stroke="#2b8a3e" stroke-width="1.0" />
<circle cx="464.25" cy="240.90" r="1.95" fill="#2b8a3e" />
<line x1="492.55" y1="232.70" x2="492.55" y2="249.00" stroke="#2b8a3e" stroke-width="1.0" />
<line x1="491.00" y1="232.70" x2="494.10" y2="232.70" stroke="#2b8a3e" stroke-width="1.0" />
<line x1="491.00" y1="249.00" x2="494.10" y2="249.00" stroke="#2b8a3e" stroke-width="1.0" />
<circle cx="492.55" cy="240.90" r="1.95" fill="#2b8a3e" />
<polyline points="413.15,232.20 441.50,231.40 470.45,229.20 498.75,227.30" fill="none" stroke="#e5592a" stroke-width="0.95"/>
<line x1="413.15" y1="221.30" x2="413.15" y2="243.10" stroke="#e5592a" stroke-width="1.0" />
<line x1="411.60" y1="221.30" x2="414.70" y2="221.30" stroke="#e5592a" stroke-width="1.0" />
<line x1="411.60" y1="243.10" x2="414.70" y2="243.10" stroke="#e5592a" stroke-width="1.0" />
<circle cx="413.15" cy="232.20" r="1.95" fill="#e5592a" />
<line x1="441.50" y1="221.30" x2="441.50" y2="242.30" stroke="#e5592a" stroke-width="1.0" />
<line x1="439.95" y1="221.30" x2="443.05" y2="221.30" stroke="#e5592a" stroke-width="1.0" />
<line x1="439.95" y1="242.30" x2="443.05" y2="242.30" stroke="#e5592a" stroke-width="1.0" />
<circle cx="441.50" cy="231.40" r="1.95" fill="#e5592a" />
<line x1="470.45" y1="218.50" x2="470.45" y2="240.40" stroke="#e5592a" stroke-width="1.0" />
<line x1="468.90" y1="218.50" x2="472.00" y2="218.50" stroke="#e5592a" stroke-width="1.0" />
<line x1="468.90" y1="240.40" x2="472.00" y2="240.40" stroke="#e5592a" stroke-width="1.0" />
<circle cx="470.45" cy="229.20" r="1.95" fill="#e5592a" />
<line x1="498.75" y1="217.20" x2="498.75" y2="237.40" stroke="#e5592a" stroke-width="1.0" />
<line x1="497.20" y1="217.20" x2="500.30" y2="217.20" stroke="#e5592a" stroke-width="1.0" />
<line x1="497.20" y1="237.40" x2="500.30" y2="237.40" stroke="#e5592a" stroke-width="1.0" />
<circle cx="498.75" cy="227.30" r="1.95" fill="#e5592a" />
<text x="465.00" y="226.00" font-size="15.2" text-anchor="middle" fill="#e5592a" stroke="#e5592a" stroke-width="0.380" font-weight="bold">*</text>
<text x="494.20" y="221.40" font-size="15.2" text-anchor="middle" fill="#e5592a" stroke="#e5592a" stroke-width="0.380" font-weight="bold">*</text>
<line x1="583.20" y1="175.70" x2="583.20" y2="255.95" stroke="#6a6a6a" stroke-width="1.0" />
<line x1="582.70" y1="255.45" x2="683.50" y2="255.45" stroke="#6a6a6a" stroke-width="1.0" />
<line x1="581.50" y1="188.70" x2="583.20" y2="188.70" stroke="#6a6a6a" stroke-width="0.8" />
<text transform="translate(580.20,191.71) scale(1,1.1)" font-size="7.7" text-anchor="end" fill="#4d4d4d"  >16.5</text>
<line x1="581.50" y1="204.40" x2="583.20" y2="204.40" stroke="#6a6a6a" stroke-width="0.8" />
<text transform="translate(580.20,207.41) scale(1,1.1)" font-size="7.7" text-anchor="end" fill="#4d4d4d"  >16.0</text>
<line x1="581.50" y1="220.50" x2="583.20" y2="220.50" stroke="#6a6a6a" stroke-width="0.8" />
<text transform="translate(580.20,223.51) scale(1,1.1)" font-size="7.7" text-anchor="end" fill="#4d4d4d"  >15.5</text>
<line x1="581.50" y1="236.30" x2="583.20" y2="236.30" stroke="#6a6a6a" stroke-width="0.8" />
<text transform="translate(580.20,239.31) scale(1,1.1)" font-size="7.7" text-anchor="end" fill="#4d4d4d"  >15.0</text>
<line x1="581.50" y1="252.10" x2="583.20" y2="252.10" stroke="#6a6a6a" stroke-width="0.8" />
<text transform="translate(580.20,255.11) scale(1,1.1)" font-size="7.7" text-anchor="end" fill="#4d4d4d"  >14.5</text>
<line x1="592.90" y1="255.45" x2="592.90" y2="257.15" stroke="#6a6a6a" stroke-width="0.8" />
<text transform="translate(592.90,264.06) scale(1,1.1)" font-size="7.7" text-anchor="middle" fill="#4d4d4d"  >2</text>
<line x1="619.60" y1="255.45" x2="619.60" y2="257.15" stroke="#6a6a6a" stroke-width="0.8" />
<text transform="translate(619.60,264.06) scale(1,1.1)" font-size="7.7" text-anchor="middle" fill="#4d4d4d"  >3</text>
<line x1="646.60" y1="255.45" x2="646.60" y2="257.15" stroke="#6a6a6a" stroke-width="0.8" />
<text transform="translate(646.60,264.06) scale(1,1.1)" font-size="7.7" text-anchor="middle" fill="#4d4d4d"  >4</text>
<line x1="673.40" y1="255.45" x2="673.40" y2="257.15" stroke="#6a6a6a" stroke-width="0.8" />
<text transform="translate(673.40,264.06) scale(1,1.1)" font-size="7.7" text-anchor="middle" fill="#4d4d4d"  >5</text>
<text x="633.25" y="272.00" font-size="7.9" text-anchor="middle" fill="#000" stroke="#000" stroke-width="0.198" >Block</text>
<text x="0.00" y="0.00" font-size="8.2" text-anchor="middle" fill="#000" stroke="#000" stroke-width="0.205" transform="translate(561.30,216.20) rotate(-90)">Fitted VCT (%)</text>
<polyline points="590.10,228.40 616.80,233.00 643.80,236.30 670.60,238.10" fill="none" stroke="#2b8a3e" stroke-width="0.95"/>
<line x1="590.10" y1="220.30" x2="590.10" y2="236.80" stroke="#2b8a3e" stroke-width="1.0" />
<line x1="588.55" y1="220.30" x2="591.65" y2="220.30" stroke="#2b8a3e" stroke-width="1.0" />
<line x1="588.55" y1="236.80" x2="591.65" y2="236.80" stroke="#2b8a3e" stroke-width="1.0" />
<circle cx="590.10" cy="228.40" r="1.95" fill="#2b8a3e" />
<line x1="616.80" y1="225.40" x2="616.80" y2="241.40" stroke="#2b8a3e" stroke-width="1.0" />
<line x1="615.25" y1="225.40" x2="618.35" y2="225.40" stroke="#2b8a3e" stroke-width="1.0" />
<line x1="615.25" y1="241.40" x2="618.35" y2="241.40" stroke="#2b8a3e" stroke-width="1.0" />
<circle cx="616.80" cy="233.00" r="1.95" fill="#2b8a3e" />
<line x1="643.80" y1="228.40" x2="643.80" y2="244.50" stroke="#2b8a3e" stroke-width="1.0" />
<line x1="642.25" y1="228.40" x2="645.35" y2="228.40" stroke="#2b8a3e" stroke-width="1.0" />
<line x1="642.25" y1="244.50" x2="645.35" y2="244.50" stroke="#2b8a3e" stroke-width="1.0" />
<circle cx="643.80" cy="236.30" r="1.95" fill="#2b8a3e" />
<line x1="670.60" y1="230.50" x2="670.60" y2="247.00" stroke="#2b8a3e" stroke-width="1.0" />
<line x1="669.05" y1="230.50" x2="672.15" y2="230.50" stroke="#2b8a3e" stroke-width="1.0" />
<line x1="669.05" y1="247.00" x2="672.15" y2="247.00" stroke="#2b8a3e" stroke-width="1.0" />
<circle cx="670.60" cy="238.10" r="1.95" fill="#2b8a3e" />
<polyline points="595.70,228.40 622.40,234.30 649.40,234.80 676.20,231.70" fill="none" stroke="#e5592a" stroke-width="0.95"/>
<line x1="595.70" y1="218.50" x2="595.70" y2="238.90" stroke="#e5592a" stroke-width="1.0" />
<line x1="594.15" y1="218.50" x2="597.25" y2="218.50" stroke="#e5592a" stroke-width="1.0" />
<line x1="594.15" y1="238.90" x2="597.25" y2="238.90" stroke="#e5592a" stroke-width="1.0" />
<circle cx="595.70" cy="228.40" r="1.95" fill="#e5592a" />
<line x1="622.40" y1="223.60" x2="622.40" y2="244.50" stroke="#e5592a" stroke-width="1.0" />
<line x1="620.85" y1="223.60" x2="623.95" y2="223.60" stroke="#e5592a" stroke-width="1.0" />
<line x1="620.85" y1="244.50" x2="623.95" y2="244.50" stroke="#e5592a" stroke-width="1.0" />
<circle cx="622.40" cy="234.30" r="1.95" fill="#e5592a" />
<line x1="649.40" y1="224.60" x2="649.40" y2="245.20" stroke="#e5592a" stroke-width="1.0" />
<line x1="647.85" y1="224.60" x2="650.95" y2="224.60" stroke="#e5592a" stroke-width="1.0" />
<line x1="647.85" y1="245.20" x2="650.95" y2="245.20" stroke="#e5592a" stroke-width="1.0" />
<circle cx="649.40" cy="234.80" r="1.95" fill="#e5592a" />
<line x1="676.20" y1="222.80" x2="676.20" y2="241.90" stroke="#e5592a" stroke-width="1.0" />
<line x1="674.65" y1="222.80" x2="677.75" y2="222.80" stroke="#e5592a" stroke-width="1.0" />
<line x1="674.65" y1="241.90" x2="677.75" y2="241.90" stroke="#e5592a" stroke-width="1.0" />
<circle cx="676.20" cy="231.70" r="1.95" fill="#e5592a" />
<rect x="71.80" y="49.90" width="50.40" height="39.10" fill="#efefef"/>
<line x1="82.90" y1="59.80" x2="84.20" y2="59.80" stroke="#6a6a6a" stroke-width="0.6" />
<text x="82.40" y="62.00" font-size="6.2" text-anchor="end" fill="#5e5e5e"  >0.6</text>
<line x1="82.90" y1="67.20" x2="84.20" y2="67.20" stroke="#6a6a6a" stroke-width="0.6" />
<text x="82.40" y="69.40" font-size="6.2" text-anchor="end" fill="#5e5e5e"  >0.4</text>
<line x1="82.90" y1="74.60" x2="84.20" y2="74.60" stroke="#6a6a6a" stroke-width="0.6" />
<text x="82.40" y="76.80" font-size="6.2" text-anchor="end" fill="#5e5e5e"  >0.2</text>
<line x1="88.35" y1="78.75" x2="88.35" y2="80.05" stroke="#6a6a6a" stroke-width="0.6" />
<text x="88.35" y="85.89" font-size="6.3" text-anchor="middle" fill="#5e5e5e"  >2</text>
<line x1="97.55" y1="78.75" x2="97.55" y2="80.05" stroke="#6a6a6a" stroke-width="0.6" />
<text x="97.55" y="85.89" font-size="6.3" text-anchor="middle" fill="#5e5e5e"  >3</text>
<line x1="107.50" y1="78.75" x2="107.50" y2="80.05" stroke="#6a6a6a" stroke-width="0.6" />
<text x="107.50" y="85.89" font-size="6.3" text-anchor="middle" fill="#5e5e5e"  >4</text>
<line x1="116.70" y1="78.75" x2="116.70" y2="80.05" stroke="#6a6a6a" stroke-width="0.6" />
<text x="116.70" y="85.89" font-size="6.3" text-anchor="middle" fill="#5e5e5e"  >5</text>
<circle cx="87.02" cy="74.40" r="0.65" fill="#2b8a3e" fill-opacity="0.65"/>
<circle cx="87.59" cy="65.45" r="0.65" fill="#2b8a3e" fill-opacity="0.65"/>
<circle cx="87.35" cy="68.39" r="0.65" fill="#2b8a3e" fill-opacity="0.65"/>
<circle cx="87.49" cy="73.51" r="0.65" fill="#2b8a3e" fill-opacity="0.65"/>
<circle cx="86.98" cy="62.03" r="0.65" fill="#2b8a3e" fill-opacity="0.65"/>
<circle cx="87.65" cy="68.13" r="0.65" fill="#2b8a3e" fill-opacity="0.65"/>
<circle cx="87.59" cy="61.63" r="0.65" fill="#2b8a3e" fill-opacity="0.65"/>
<circle cx="87.30" cy="72.50" r="0.65" fill="#2b8a3e" fill-opacity="0.65"/>
<circle cx="87.11" cy="75.87" r="0.65" fill="#2b8a3e" fill-opacity="0.65"/>
<circle cx="87.71" cy="62.06" r="0.65" fill="#2b8a3e" fill-opacity="0.65"/>
<circle cx="86.92" cy="71.60" r="0.65" fill="#2b8a3e" fill-opacity="0.65"/>
<circle cx="87.75" cy="70.24" r="0.65" fill="#2b8a3e" fill-opacity="0.65"/>
<circle cx="87.09" cy="70.59" r="0.65" fill="#2b8a3e" fill-opacity="0.65"/>
<circle cx="86.93" cy="68.88" r="0.65" fill="#2b8a3e" fill-opacity="0.65"/>
<circle cx="87.29" cy="71.21" r="0.65" fill="#2b8a3e" fill-opacity="0.65"/>
<circle cx="87.11" cy="68.96" r="0.65" fill="#2b8a3e" fill-opacity="0.65"/>
<circle cx="87.10" cy="70.91" r="0.65" fill="#2b8a3e" fill-opacity="0.65"/>
<circle cx="87.16" cy="67.18" r="0.65" fill="#2b8a3e" fill-opacity="0.65"/>
<circle cx="87.65" cy="71.73" r="0.65" fill="#2b8a3e" fill-opacity="0.65"/>
<circle cx="87.48" cy="68.58" r="0.65" fill="#2b8a3e" fill-opacity="0.65"/>
<circle cx="87.79" cy="74.31" r="0.65" fill="#2b8a3e" fill-opacity="0.65"/>
<circle cx="87.01" cy="69.83" r="0.65" fill="#2b8a3e" fill-opacity="0.65"/>
<circle cx="87.55" cy="73.05" r="0.65" fill="#2b8a3e" fill-opacity="0.65"/>
<circle cx="87.74" cy="70.59" r="0.65" fill="#2b8a3e" fill-opacity="0.65"/>
<circle cx="87.65" cy="72.70" r="0.65" fill="#2b8a3e" fill-opacity="0.65"/>
<circle cx="87.17" cy="71.99" r="0.65" fill="#2b8a3e" fill-opacity="0.65"/>
<circle cx="87.69" cy="74.19" r="0.65" fill="#2b8a3e" fill-opacity="0.65"/>
<circle cx="87.35" cy="72.01" r="0.65" fill="#2b8a3e" fill-opacity="0.65"/>
<circle cx="89.13" cy="63.23" r="0.65" fill="#e5592a" fill-opacity="0.65"/>
<circle cx="89.82" cy="65.51" r="0.65" fill="#e5592a" fill-opacity="0.65"/>
<circle cx="89.26" cy="67.30" r="0.65" fill="#e5592a" fill-opacity="0.65"/>
<circle cx="89.73" cy="68.97" r="0.65" fill="#e5592a" fill-opacity="0.65"/>
<circle cx="89.44" cy="65.84" r="0.65" fill="#e5592a" fill-opacity="0.65"/>
<circle cx="89.56" cy="70.35" r="0.65" fill="#e5592a" fill-opacity="0.65"/>
<circle cx="89.57" cy="65.23" r="0.65" fill="#e5592a" fill-opacity="0.65"/>
<circle cx="89.54" cy="60.39" r="0.65" fill="#e5592a" fill-opacity="0.65"/>
<circle cx="89.14" cy="69.35" r="0.65" fill="#e5592a" fill-opacity="0.65"/>
<circle cx="89.98" cy="67.89" r="0.65" fill="#e5592a" fill-opacity="0.65"/>
<circle cx="89.45" cy="62.27" r="0.65" fill="#e5592a" fill-opacity="0.65"/>
<circle cx="89.55" cy="73.06" r="0.65" fill="#e5592a" fill-opacity="0.65"/>
<circle cx="89.79" cy="67.18" r="0.65" fill="#e5592a" fill-opacity="0.65"/>
<circle cx="89.87" cy="63.09" r="0.65" fill="#e5592a" fill-opacity="0.65"/>
<circle cx="89.56" cy="71.57" r="0.65" fill="#e5592a" fill-opacity="0.65"/>
<circle cx="89.62" cy="67.13" r="0.65" fill="#e5592a" fill-opacity="0.65"/>
<circle cx="89.34" cy="67.93" r="0.65" fill="#e5592a" fill-opacity="0.65"/>
<circle cx="89.96" cy="63.05" r="0.65" fill="#e5592a" fill-opacity="0.65"/>
<circle cx="89.81" cy="70.38" r="0.65" fill="#e5592a" fill-opacity="0.65"/>
<circle cx="89.90" cy="69.66" r="0.65" fill="#e5592a" fill-opacity="0.65"/>
<circle cx="89.83" cy="67.67" r="0.65" fill="#e5592a" fill-opacity="0.65"/>
<circle cx="89.61" cy="66.83" r="0.65" fill="#e5592a" fill-opacity="0.65"/>
<circle cx="89.15" cy="70.83" r="0.65" fill="#e5592a" fill-opacity="0.65"/>
<circle cx="89.61" cy="64.80" r="0.65" fill="#e5592a" fill-opacity="0.65"/>
<circle cx="89.55" cy="67.36" r="0.65" fill="#e5592a" fill-opacity="0.65"/>
<circle cx="89.42" cy="66.11" r="0.65" fill="#e5592a" fill-opacity="0.65"/>
<circle cx="89.58" cy="68.61" r="0.65" fill="#e5592a" fill-opacity="0.65"/>
<circle cx="89.65" cy="67.12" r="0.65" fill="#e5592a" fill-opacity="0.65"/>
<circle cx="89.13" cy="54.55" r="0.65" fill="#e5592a" fill-opacity="0.65"/>
<circle cx="89.26" cy="55.40" r="0.65" fill="#e5592a" fill-opacity="0.65"/>
<circle cx="89.87" cy="55.92" r="0.65" fill="#e5592a" fill-opacity="0.65"/>
<circle cx="89.65" cy="54.50" r="0.6" fill="#e5592a" fill-opacity="0.75"/>
<circle cx="96.82" cy="73.93" r="0.65" fill="#2b8a3e" fill-opacity="0.65"/>
<circle cx="96.33" cy="74.31" r="0.65" fill="#2b8a3e" fill-opacity="0.65"/>
<circle cx="96.71" cy="62.86" r="0.65" fill="#2b8a3e" fill-opacity="0.65"/>
<circle cx="96.12" cy="61.82" r="0.65" fill="#2b8a3e" fill-opacity="0.65"/>
<circle cx="96.78" cy="65.37" r="0.65" fill="#2b8a3e" fill-opacity="0.65"/>
<circle cx="96.20" cy="71.03" r="0.65" fill="#2b8a3e" fill-opacity="0.65"/>
<circle cx="96.41" cy="62.65" r="0.65" fill="#2b8a3e" fill-opacity="0.65"/>
<circle cx="96.24" cy="69.56" r="0.65" fill="#2b8a3e" fill-opacity="0.65"/>
<circle cx="96.25" cy="65.72" r="0.65" fill="#2b8a3e" fill-opacity="0.65"/>
<circle cx="96.74" cy="68.47" r="0.65" fill="#2b8a3e" fill-opacity="0.65"/>
<circle cx="96.39" cy="71.03" r="0.65" fill="#2b8a3e" fill-opacity="0.65"/>
<circle cx="96.12" cy="70.29" r="0.65" fill="#2b8a3e" fill-opacity="0.65"/>
<circle cx="96.48" cy="68.60" r="0.65" fill="#2b8a3e" fill-opacity="0.65"/>
<circle cx="96.20" cy="74.65" r="0.65" fill="#2b8a3e" fill-opacity="0.65"/>
<circle cx="96.56" cy="68.78" r="0.65" fill="#2b8a3e" fill-opacity="0.65"/>
<circle cx="96.65" cy="73.94" r="0.65" fill="#2b8a3e" fill-opacity="0.65"/>
<circle cx="96.12" cy="67.15" r="0.65" fill="#2b8a3e" fill-opacity="0.65"/>
<circle cx="96.23" cy="73.11" r="0.65" fill="#2b8a3e" fill-opacity="0.65"/>
<circle cx="96.24" cy="72.99" r="0.65" fill="#2b8a3e" fill-opacity="0.65"/>
<circle cx="96.71" cy="71.63" r="0.65" fill="#2b8a3e" fill-opacity="0.65"/>
<circle cx="96.30" cy="75.29" r="0.65" fill="#2b8a3e" fill-opacity="0.65"/>
<circle cx="96.82" cy="71.39" r="0.65" fill="#2b8a3e" fill-opacity="0.65"/>
<circle cx="96.30" cy="72.51" r="0.65" fill="#2b8a3e" fill-opacity="0.65"/>
<circle cx="96.46" cy="71.89" r="0.65" fill="#2b8a3e" fill-opacity="0.65"/>
<circle cx="96.39" cy="72.36" r="0.65" fill="#2b8a3e" fill-opacity="0.65"/>
<circle cx="96.15" cy="69.54" r="0.65" fill="#2b8a3e" fill-opacity="0.65"/>
<circle cx="96.97" cy="74.44" r="0.65" fill="#2b8a3e" fill-opacity="0.65"/>
<circle cx="96.38" cy="74.30" r="0.65" fill="#2b8a3e" fill-opacity="0.65"/>
<circle cx="98.58" cy="72.49" r="0.65" fill="#e5592a" fill-opacity="0.65"/>
<circle cx="98.97" cy="65.54" r="0.65" fill="#e5592a" fill-opacity="0.65"/>
<circle cx="98.53" cy="60.11" r="0.65" fill="#e5592a" fill-opacity="0.65"/>
<circle cx="99.09" cy="60.50" r="0.65" fill="#e5592a" fill-opacity="0.65"/>
<circle cx="99.04" cy="72.80" r="0.65" fill="#e5592a" fill-opacity="0.65"/>
<circle cx="98.81" cy="62.28" r="0.65" fill="#e5592a" fill-opacity="0.65"/>
<circle cx="99.08" cy="72.95" r="0.65" fill="#e5592a" fill-opacity="0.65"/>
<circle cx="98.93" cy="66.77" r="0.65" fill="#e5592a" fill-opacity="0.65"/>
<circle cx="98.64" cy="64.61" r="0.65" fill="#e5592a" fill-opacity="0.65"/>
<circle cx="98.49" cy="68.97" r="0.65" fill="#e5592a" fill-opacity="0.65"/>
<circle cx="98.69" cy="62.58" r="0.65" fill="#e5592a" fill-opacity="0.65"/>
<circle cx="98.39" cy="68.86" r="0.65" fill="#e5592a" fill-opacity="0.65"/>
<circle cx="98.57" cy="66.65" r="0.65" fill="#e5592a" fill-opacity="0.65"/>
<circle cx="98.59" cy="71.59" r="0.65" fill="#e5592a" fill-opacity="0.65"/>
<circle cx="99.11" cy="63.16" r="0.65" fill="#e5592a" fill-opacity="0.65"/>
<circle cx="98.48" cy="65.95" r="0.65" fill="#e5592a" fill-opacity="0.65"/>
<circle cx="99.19" cy="70.04" r="0.65" fill="#e5592a" fill-opacity="0.65"/>
<circle cx="98.61" cy="64.92" r="0.65" fill="#e5592a" fill-opacity="0.65"/>
<circle cx="98.91" cy="70.54" r="0.65" fill="#e5592a" fill-opacity="0.65"/>
<circle cx="99.14" cy="66.09" r="0.65" fill="#e5592a" fill-opacity="0.65"/>
<circle cx="99.09" cy="69.18" r="0.65" fill="#e5592a" fill-opacity="0.65"/>
<circle cx="98.74" cy="71.87" r="0.65" fill="#e5592a" fill-opacity="0.65"/>
<circle cx="98.51" cy="69.53" r="0.65" fill="#e5592a" fill-opacity="0.65"/>
<circle cx="98.38" cy="64.53" r="0.65" fill="#e5592a" fill-opacity="0.65"/>
<circle cx="99.12" cy="64.92" r="0.65" fill="#e5592a" fill-opacity="0.65"/>
<circle cx="98.98" cy="68.40" r="0.65" fill="#e5592a" fill-opacity="0.65"/>
<circle cx="99.06" cy="66.31" r="0.65" fill="#e5592a" fill-opacity="0.65"/>
<circle cx="98.61" cy="65.62" r="0.65" fill="#e5592a" fill-opacity="0.65"/>
<circle cx="99.08" cy="55.45" r="0.65" fill="#e5592a" fill-opacity="0.65"/>
<circle cx="99.16" cy="56.13" r="0.65" fill="#e5592a" fill-opacity="0.65"/>
<circle cx="98.42" cy="55.32" r="0.65" fill="#e5592a" fill-opacity="0.65"/>
<circle cx="98.85" cy="55.00" r="0.6" fill="#e5592a" fill-opacity="0.75"/>
<circle cx="106.14" cy="62.19" r="0.65" fill="#2b8a3e" fill-opacity="0.65"/>
<circle cx="106.12" cy="74.68" r="0.65" fill="#2b8a3e" fill-opacity="0.65"/>
<circle cx="106.76" cy="74.11" r="0.65" fill="#2b8a3e" fill-opacity="0.65"/>
<circle cx="106.36" cy="70.89" r="0.65" fill="#2b8a3e" fill-opacity="0.65"/>
<circle cx="106.75" cy="67.31" r="0.65" fill="#2b8a3e" fill-opacity="0.65"/>
<circle cx="106.56" cy="64.98" r="0.65" fill="#2b8a3e" fill-opacity="0.65"/>
<circle cx="106.12" cy="65.63" r="0.65" fill="#2b8a3e" fill-opacity="0.65"/>
<circle cx="106.85" cy="70.12" r="0.65" fill="#2b8a3e" fill-opacity="0.65"/>
<circle cx="106.88" cy="68.51" r="0.65" fill="#2b8a3e" fill-opacity="0.65"/>
<circle cx="106.30" cy="73.48" r="0.65" fill="#2b8a3e" fill-opacity="0.65"/>
<circle cx="106.79" cy="67.11" r="0.65" fill="#2b8a3e" fill-opacity="0.65"/>
<circle cx="106.65" cy="67.78" r="0.65" fill="#2b8a3e" fill-opacity="0.65"/>
<circle cx="106.15" cy="74.52" r="0.65" fill="#2b8a3e" fill-opacity="0.65"/>
<circle cx="106.09" cy="69.04" r="0.65" fill="#2b8a3e" fill-opacity="0.65"/>
<circle cx="106.94" cy="70.58" r="0.65" fill="#2b8a3e" fill-opacity="0.65"/>
<circle cx="106.15" cy="68.42" r="0.65" fill="#2b8a3e" fill-opacity="0.65"/>
<circle cx="106.27" cy="73.32" r="0.65" fill="#2b8a3e" fill-opacity="0.65"/>
<circle cx="106.14" cy="74.74" r="0.65" fill="#2b8a3e" fill-opacity="0.65"/>
<circle cx="106.39" cy="75.25" r="0.65" fill="#2b8a3e" fill-opacity="0.65"/>
<circle cx="106.87" cy="69.50" r="0.65" fill="#2b8a3e" fill-opacity="0.65"/>
<circle cx="106.28" cy="71.05" r="0.65" fill="#2b8a3e" fill-opacity="0.65"/>
<circle cx="106.14" cy="72.54" r="0.65" fill="#2b8a3e" fill-opacity="0.65"/>
<circle cx="106.09" cy="67.09" r="0.65" fill="#2b8a3e" fill-opacity="0.65"/>
<circle cx="106.93" cy="69.51" r="0.65" fill="#2b8a3e" fill-opacity="0.65"/>
<circle cx="106.59" cy="70.82" r="0.65" fill="#2b8a3e" fill-opacity="0.65"/>
<circle cx="106.33" cy="67.54" r="0.65" fill="#2b8a3e" fill-opacity="0.65"/>
<circle cx="106.87" cy="75.24" r="0.65" fill="#2b8a3e" fill-opacity="0.65"/>
<circle cx="106.92" cy="67.95" r="0.65" fill="#2b8a3e" fill-opacity="0.65"/>
<circle cx="108.44" cy="68.22" r="0.65" fill="#e5592a" fill-opacity="0.65"/>
<circle cx="109.13" cy="67.22" r="0.65" fill="#e5592a" fill-opacity="0.65"/>
<circle cx="108.87" cy="68.80" r="0.65" fill="#e5592a" fill-opacity="0.65"/>
<circle cx="108.48" cy="67.20" r="0.65" fill="#e5592a" fill-opacity="0.65"/>
<circle cx="108.53" cy="63.28" r="0.65" fill="#e5592a" fill-opacity="0.65"/>
<circle cx="108.32" cy="63.73" r="0.65" fill="#e5592a" fill-opacity="0.65"/>
<circle cx="109.14" cy="65.96" r="0.65" fill="#e5592a" fill-opacity="0.65"/>
<circle cx="108.84" cy="68.56" r="0.65" fill="#e5592a" fill-opacity="0.65"/>
<circle cx="109.10" cy="65.19" r="0.65" fill="#e5592a" fill-opacity="0.65"/>
<circle cx="108.53" cy="64.35" r="0.65" fill="#e5592a" fill-opacity="0.65"/>
<circle cx="108.54" cy="71.27" r="0.65" fill="#e5592a" fill-opacity="0.65"/>
<circle cx="109.05" cy="64.03" r="0.65" fill="#e5592a" fill-opacity="0.65"/>
<circle cx="108.55" cy="67.24" r="0.65" fill="#e5592a" fill-opacity="0.65"/>
<circle cx="108.77" cy="67.93" r="0.65" fill="#e5592a" fill-opacity="0.65"/>
<circle cx="108.47" cy="63.18" r="0.65" fill="#e5592a" fill-opacity="0.65"/>
<circle cx="108.47" cy="63.65" r="0.65" fill="#e5592a" fill-opacity="0.65"/>
<circle cx="108.75" cy="63.64" r="0.65" fill="#e5592a" fill-opacity="0.65"/>
<circle cx="108.32" cy="68.72" r="0.65" fill="#e5592a" fill-opacity="0.65"/>
<circle cx="108.51" cy="70.13" r="0.65" fill="#e5592a" fill-opacity="0.65"/>
<circle cx="108.69" cy="70.76" r="0.65" fill="#e5592a" fill-opacity="0.65"/>
<circle cx="108.39" cy="67.51" r="0.65" fill="#e5592a" fill-opacity="0.65"/>
<circle cx="108.97" cy="63.69" r="0.65" fill="#e5592a" fill-opacity="0.65"/>
<circle cx="109.10" cy="64.56" r="0.65" fill="#e5592a" fill-opacity="0.65"/>
<circle cx="108.95" cy="71.86" r="0.65" fill="#e5592a" fill-opacity="0.65"/>
<circle cx="108.99" cy="65.88" r="0.65" fill="#e5592a" fill-opacity="0.65"/>
<circle cx="108.35" cy="67.63" r="0.65" fill="#e5592a" fill-opacity="0.65"/>
<circle cx="109.08" cy="65.64" r="0.65" fill="#e5592a" fill-opacity="0.65"/>
<circle cx="109.05" cy="64.28" r="0.65" fill="#e5592a" fill-opacity="0.65"/>
<circle cx="109.07" cy="54.08" r="0.65" fill="#e5592a" fill-opacity="0.65"/>
<circle cx="108.53" cy="56.17" r="0.65" fill="#e5592a" fill-opacity="0.65"/>
<circle cx="108.97" cy="56.18" r="0.65" fill="#e5592a" fill-opacity="0.65"/>
<circle cx="108.80" cy="55.00" r="0.6" fill="#e5592a" fill-opacity="0.75"/>
<circle cx="116.01" cy="72.87" r="0.65" fill="#2b8a3e" fill-opacity="0.65"/>
<circle cx="115.87" cy="64.29" r="0.65" fill="#2b8a3e" fill-opacity="0.65"/>
<circle cx="115.64" cy="63.98" r="0.65" fill="#2b8a3e" fill-opacity="0.65"/>
<circle cx="115.89" cy="71.68" r="0.65" fill="#2b8a3e" fill-opacity="0.65"/>
<circle cx="115.48" cy="62.57" r="0.65" fill="#2b8a3e" fill-opacity="0.65"/>
<circle cx="116.12" cy="73.80" r="0.65" fill="#2b8a3e" fill-opacity="0.65"/>
<circle cx="115.74" cy="69.77" r="0.65" fill="#2b8a3e" fill-opacity="0.65"/>
<circle cx="116.02" cy="68.44" r="0.65" fill="#2b8a3e" fill-opacity="0.65"/>
<circle cx="115.61" cy="66.71" r="0.65" fill="#2b8a3e" fill-opacity="0.65"/>
<circle cx="115.48" cy="61.97" r="0.65" fill="#2b8a3e" fill-opacity="0.65"/>
<circle cx="115.83" cy="70.54" r="0.65" fill="#2b8a3e" fill-opacity="0.65"/>
<circle cx="115.76" cy="67.53" r="0.65" fill="#2b8a3e" fill-opacity="0.65"/>
<circle cx="115.57" cy="68.18" r="0.65" fill="#2b8a3e" fill-opacity="0.65"/>
<circle cx="115.36" cy="69.20" r="0.65" fill="#2b8a3e" fill-opacity="0.65"/>
<circle cx="116.00" cy="70.38" r="0.65" fill="#2b8a3e" fill-opacity="0.65"/>
<circle cx="115.61" cy="72.21" r="0.65" fill="#2b8a3e" fill-opacity="0.65"/>
<circle cx="115.46" cy="67.06" r="0.65" fill="#2b8a3e" fill-opacity="0.65"/>
<circle cx="115.73" cy="71.26" r="0.65" fill="#2b8a3e" fill-opacity="0.65"/>
<circle cx="115.83" cy="70.73" r="0.65" fill="#2b8a3e" fill-opacity="0.65"/>
<circle cx="115.87" cy="73.22" r="0.65" fill="#2b8a3e" fill-opacity="0.65"/>
<circle cx="115.46" cy="71.21" r="0.65" fill="#2b8a3e" fill-opacity="0.65"/>
<circle cx="115.68" cy="68.91" r="0.65" fill="#2b8a3e" fill-opacity="0.65"/>
<circle cx="115.62" cy="71.76" r="0.65" fill="#2b8a3e" fill-opacity="0.65"/>
<circle cx="116.07" cy="74.80" r="0.65" fill="#2b8a3e" fill-opacity="0.65"/>
<circle cx="115.50" cy="72.49" r="0.65" fill="#2b8a3e" fill-opacity="0.65"/>
<circle cx="115.29" cy="67.61" r="0.65" fill="#2b8a3e" fill-opacity="0.65"/>
<circle cx="115.71" cy="74.46" r="0.65" fill="#2b8a3e" fill-opacity="0.65"/>
<circle cx="115.39" cy="73.51" r="0.65" fill="#2b8a3e" fill-opacity="0.65"/>
<circle cx="118.24" cy="64.15" r="0.65" fill="#e5592a" fill-opacity="0.65"/>
<circle cx="118.07" cy="71.29" r="0.65" fill="#e5592a" fill-opacity="0.65"/>
<circle cx="117.78" cy="69.33" r="0.65" fill="#e5592a" fill-opacity="0.65"/>
<circle cx="118.11" cy="67.91" r="0.65" fill="#e5592a" fill-opacity="0.65"/>
<circle cx="118.22" cy="71.92" r="0.65" fill="#e5592a" fill-opacity="0.65"/>
<circle cx="118.31" cy="67.60" r="0.65" fill="#e5592a" fill-opacity="0.65"/>
<circle cx="117.61" cy="63.33" r="0.65" fill="#e5592a" fill-opacity="0.65"/>
<circle cx="117.65" cy="67.57" r="0.65" fill="#e5592a" fill-opacity="0.65"/>
<circle cx="118.13" cy="60.69" r="0.65" fill="#e5592a" fill-opacity="0.65"/>
<circle cx="118.06" cy="69.54" r="0.65" fill="#e5592a" fill-opacity="0.65"/>
<circle cx="117.76" cy="66.85" r="0.65" fill="#e5592a" fill-opacity="0.65"/>
<circle cx="117.60" cy="69.71" r="0.65" fill="#e5592a" fill-opacity="0.65"/>
<circle cx="117.49" cy="73.05" r="0.65" fill="#e5592a" fill-opacity="0.65"/>
<circle cx="118.18" cy="68.36" r="0.65" fill="#e5592a" fill-opacity="0.65"/>
<circle cx="117.69" cy="71.22" r="0.65" fill="#e5592a" fill-opacity="0.65"/>
<circle cx="118.31" cy="64.25" r="0.65" fill="#e5592a" fill-opacity="0.65"/>
<circle cx="118.15" cy="70.58" r="0.65" fill="#e5592a" fill-opacity="0.65"/>
<circle cx="118.04" cy="69.30" r="0.65" fill="#e5592a" fill-opacity="0.65"/>
<circle cx="117.85" cy="71.32" r="0.65" fill="#e5592a" fill-opacity="0.65"/>
<circle cx="118.32" cy="66.44" r="0.65" fill="#e5592a" fill-opacity="0.65"/>
<circle cx="118.17" cy="66.90" r="0.65" fill="#e5592a" fill-opacity="0.65"/>
<circle cx="117.60" cy="65.93" r="0.65" fill="#e5592a" fill-opacity="0.65"/>
<circle cx="117.56" cy="71.18" r="0.65" fill="#e5592a" fill-opacity="0.65"/>
<circle cx="118.31" cy="64.07" r="0.65" fill="#e5592a" fill-opacity="0.65"/>
<circle cx="117.99" cy="66.67" r="0.65" fill="#e5592a" fill-opacity="0.65"/>
<circle cx="117.56" cy="65.66" r="0.65" fill="#e5592a" fill-opacity="0.65"/>
<circle cx="117.67" cy="69.75" r="0.65" fill="#e5592a" fill-opacity="0.65"/>
<circle cx="117.45" cy="64.71" r="0.65" fill="#e5592a" fill-opacity="0.65"/>
<circle cx="117.84" cy="54.05" r="0.65" fill="#e5592a" fill-opacity="0.65"/>
<circle cx="118.01" cy="55.45" r="0.65" fill="#e5592a" fill-opacity="0.65"/>
<circle cx="118.20" cy="54.50" r="0.65" fill="#e5592a" fill-opacity="0.65"/>
<circle cx="118.00" cy="54.50" r="0.6" fill="#e5592a" fill-opacity="0.75"/>
<line x1="84.20" y1="53.80" x2="84.20" y2="79.05" stroke="#6a6a6a" stroke-width="0.8" />
<line x1="83.90" y1="78.75" x2="120.50" y2="78.75" stroke="#6a6a6a" stroke-width="0.8" />
<rect x="249.10" y="50.50" width="49.00" height="38.80" fill="#efefef"/>
<line x1="256.30" y1="56.55" x2="257.60" y2="56.55" stroke="#6a6a6a" stroke-width="0.6" />
<text x="255.80" y="58.75" font-size="6.2" text-anchor="end" fill="#5e5e5e"  >20</text>
<line x1="256.30" y1="65.00" x2="257.60" y2="65.00" stroke="#6a6a6a" stroke-width="0.6" />
<text x="255.80" y="67.20" font-size="6.2" text-anchor="end" fill="#5e5e5e"  >15</text>
<line x1="256.30" y1="73.45" x2="257.60" y2="73.45" stroke="#6a6a6a" stroke-width="0.6" />
<text x="255.80" y="75.65" font-size="6.2" text-anchor="end" fill="#5e5e5e"  >10</text>
<line x1="261.80" y1="79.80" x2="261.80" y2="81.10" stroke="#6a6a6a" stroke-width="0.6" />
<text x="261.80" y="86.74" font-size="6.3" text-anchor="middle" fill="#5e5e5e"  >2</text>
<line x1="272.50" y1="79.80" x2="272.50" y2="81.10" stroke="#6a6a6a" stroke-width="0.6" />
<text x="272.50" y="86.74" font-size="6.3" text-anchor="middle" fill="#5e5e5e"  >3</text>
<line x1="282.60" y1="79.80" x2="282.60" y2="81.10" stroke="#6a6a6a" stroke-width="0.6" />
<text x="282.60" y="86.74" font-size="6.3" text-anchor="middle" fill="#5e5e5e"  >4</text>
<line x1="293.40" y1="79.80" x2="293.40" y2="81.10" stroke="#6a6a6a" stroke-width="0.6" />
<text x="293.40" y="86.74" font-size="6.3" text-anchor="middle" fill="#5e5e5e"  >5</text>
<circle cx="261.21" cy="77.28" r="0.65" fill="#2b8a3e" fill-opacity="0.65"/>
<circle cx="260.40" cy="57.18" r="0.65" fill="#2b8a3e" fill-opacity="0.65"/>
<circle cx="261.10" cy="72.35" r="0.65" fill="#2b8a3e" fill-opacity="0.65"/>
<circle cx="260.95" cy="62.38" r="0.65" fill="#2b8a3e" fill-opacity="0.65"/>
<circle cx="260.90" cy="69.34" r="0.65" fill="#2b8a3e" fill-opacity="0.65"/>
<circle cx="260.87" cy="58.89" r="0.65" fill="#2b8a3e" fill-opacity="0.65"/>
<circle cx="260.74" cy="64.37" r="0.65" fill="#2b8a3e" fill-opacity="0.65"/>
<circle cx="261.00" cy="78.38" r="0.65" fill="#2b8a3e" fill-opacity="0.65"/>
<circle cx="261.20" cy="67.88" r="0.65" fill="#2b8a3e" fill-opacity="0.65"/>
<circle cx="260.75" cy="61.45" r="0.65" fill="#2b8a3e" fill-opacity="0.65"/>
<circle cx="260.38" cy="55.84" r="0.65" fill="#2b8a3e" fill-opacity="0.65"/>
<circle cx="260.77" cy="62.62" r="0.65" fill="#2b8a3e" fill-opacity="0.65"/>
<circle cx="260.69" cy="75.98" r="0.65" fill="#2b8a3e" fill-opacity="0.65"/>
<circle cx="260.82" cy="68.26" r="0.65" fill="#2b8a3e" fill-opacity="0.65"/>
<circle cx="260.56" cy="55.76" r="0.65" fill="#2b8a3e" fill-opacity="0.65"/>
<circle cx="260.64" cy="58.39" r="0.65" fill="#2b8a3e" fill-opacity="0.65"/>
<circle cx="260.81" cy="78.47" r="0.65" fill="#2b8a3e" fill-opacity="0.65"/>
<circle cx="260.96" cy="59.44" r="0.65" fill="#2b8a3e" fill-opacity="0.65"/>
<circle cx="261.15" cy="73.76" r="0.65" fill="#2b8a3e" fill-opacity="0.65"/>
<circle cx="261.01" cy="76.32" r="0.65" fill="#2b8a3e" fill-opacity="0.65"/>
<circle cx="261.04" cy="73.60" r="0.65" fill="#2b8a3e" fill-opacity="0.65"/>
<circle cx="260.67" cy="78.06" r="0.65" fill="#2b8a3e" fill-opacity="0.65"/>
<circle cx="261.22" cy="58.96" r="0.65" fill="#2b8a3e" fill-opacity="0.65"/>
<circle cx="261.03" cy="71.86" r="0.65" fill="#2b8a3e" fill-opacity="0.65"/>
<circle cx="260.77" cy="67.56" r="0.65" fill="#2b8a3e" fill-opacity="0.65"/>
<circle cx="260.79" cy="76.75" r="0.65" fill="#2b8a3e" fill-opacity="0.65"/>
<circle cx="260.80" cy="74.57" r="0.65" fill="#2b8a3e" fill-opacity="0.65"/>
<circle cx="260.67" cy="75.77" r="0.65" fill="#2b8a3e" fill-opacity="0.65"/>
<circle cx="263.36" cy="65.57" r="0.65" fill="#e5592a" fill-opacity="0.65"/>
<circle cx="263.06" cy="74.12" r="0.65" fill="#e5592a" fill-opacity="0.65"/>
<circle cx="263.20" cy="66.05" r="0.65" fill="#e5592a" fill-opacity="0.65"/>
<circle cx="262.75" cy="63.04" r="0.65" fill="#e5592a" fill-opacity="0.65"/>
<circle cx="263.18" cy="60.09" r="0.65" fill="#e5592a" fill-opacity="0.65"/>
<circle cx="263.37" cy="61.99" r="0.65" fill="#e5592a" fill-opacity="0.65"/>
<circle cx="263.37" cy="62.76" r="0.65" fill="#e5592a" fill-opacity="0.65"/>
<circle cx="263.41" cy="70.14" r="0.65" fill="#e5592a" fill-opacity="0.65"/>
<circle cx="263.00" cy="66.63" r="0.65" fill="#e5592a" fill-opacity="0.65"/>
<circle cx="263.14" cy="67.94" r="0.65" fill="#e5592a" fill-opacity="0.65"/>
<circle cx="262.83" cy="65.66" r="0.65" fill="#e5592a" fill-opacity="0.65"/>
<circle cx="263.01" cy="71.47" r="0.65" fill="#e5592a" fill-opacity="0.65"/>
<circle cx="263.11" cy="64.60" r="0.65" fill="#e5592a" fill-opacity="0.65"/>
<circle cx="263.29" cy="69.81" r="0.65" fill="#e5592a" fill-opacity="0.65"/>
<circle cx="263.37" cy="65.53" r="0.65" fill="#e5592a" fill-opacity="0.65"/>
<circle cx="263.22" cy="64.47" r="0.65" fill="#e5592a" fill-opacity="0.65"/>
<circle cx="263.14" cy="66.18" r="0.65" fill="#e5592a" fill-opacity="0.65"/>
<circle cx="262.75" cy="71.00" r="0.65" fill="#e5592a" fill-opacity="0.65"/>
<circle cx="262.65" cy="68.18" r="0.65" fill="#e5592a" fill-opacity="0.65"/>
<circle cx="263.32" cy="65.96" r="0.65" fill="#e5592a" fill-opacity="0.65"/>
<circle cx="262.74" cy="71.04" r="0.65" fill="#e5592a" fill-opacity="0.65"/>
<circle cx="262.93" cy="69.74" r="0.65" fill="#e5592a" fill-opacity="0.65"/>
<circle cx="262.58" cy="66.90" r="0.65" fill="#e5592a" fill-opacity="0.65"/>
<circle cx="262.70" cy="69.38" r="0.65" fill="#e5592a" fill-opacity="0.65"/>
<circle cx="262.62" cy="71.64" r="0.65" fill="#e5592a" fill-opacity="0.65"/>
<circle cx="262.57" cy="69.84" r="0.65" fill="#e5592a" fill-opacity="0.65"/>
<circle cx="262.57" cy="66.05" r="0.65" fill="#e5592a" fill-opacity="0.65"/>
<circle cx="263.28" cy="65.26" r="0.65" fill="#e5592a" fill-opacity="0.65"/>
<circle cx="271.22" cy="71.31" r="0.65" fill="#2b8a3e" fill-opacity="0.65"/>
<circle cx="271.40" cy="56.21" r="0.65" fill="#2b8a3e" fill-opacity="0.65"/>
<circle cx="271.94" cy="58.73" r="0.65" fill="#2b8a3e" fill-opacity="0.65"/>
<circle cx="271.08" cy="63.22" r="0.65" fill="#2b8a3e" fill-opacity="0.65"/>
<circle cx="271.60" cy="72.50" r="0.65" fill="#2b8a3e" fill-opacity="0.65"/>
<circle cx="271.15" cy="63.06" r="0.65" fill="#2b8a3e" fill-opacity="0.65"/>
<circle cx="271.08" cy="65.65" r="0.65" fill="#2b8a3e" fill-opacity="0.65"/>
<circle cx="271.74" cy="72.44" r="0.65" fill="#2b8a3e" fill-opacity="0.65"/>
<circle cx="271.86" cy="72.81" r="0.65" fill="#2b8a3e" fill-opacity="0.65"/>
<circle cx="271.83" cy="71.63" r="0.65" fill="#2b8a3e" fill-opacity="0.65"/>
<circle cx="271.48" cy="60.45" r="0.65" fill="#2b8a3e" fill-opacity="0.65"/>
<circle cx="271.64" cy="62.57" r="0.65" fill="#2b8a3e" fill-opacity="0.65"/>
<circle cx="271.14" cy="65.63" r="0.65" fill="#2b8a3e" fill-opacity="0.65"/>
<circle cx="271.84" cy="58.17" r="0.65" fill="#2b8a3e" fill-opacity="0.65"/>
<circle cx="271.58" cy="64.36" r="0.65" fill="#2b8a3e" fill-opacity="0.65"/>
<circle cx="271.51" cy="58.55" r="0.65" fill="#2b8a3e" fill-opacity="0.65"/>
<circle cx="271.91" cy="61.24" r="0.65" fill="#2b8a3e" fill-opacity="0.65"/>
<circle cx="271.60" cy="64.98" r="0.65" fill="#2b8a3e" fill-opacity="0.65"/>
<circle cx="271.07" cy="68.20" r="0.65" fill="#2b8a3e" fill-opacity="0.65"/>
<circle cx="271.18" cy="56.52" r="0.65" fill="#2b8a3e" fill-opacity="0.65"/>
<circle cx="271.08" cy="58.96" r="0.65" fill="#2b8a3e" fill-opacity="0.65"/>
<circle cx="271.14" cy="70.00" r="0.65" fill="#2b8a3e" fill-opacity="0.65"/>
<circle cx="271.51" cy="78.11" r="0.65" fill="#2b8a3e" fill-opacity="0.65"/>
<circle cx="271.89" cy="78.37" r="0.65" fill="#2b8a3e" fill-opacity="0.65"/>
<circle cx="271.26" cy="65.56" r="0.65" fill="#2b8a3e" fill-opacity="0.65"/>
<circle cx="271.28" cy="68.98" r="0.65" fill="#2b8a3e" fill-opacity="0.65"/>
<circle cx="271.61" cy="73.84" r="0.65" fill="#2b8a3e" fill-opacity="0.65"/>
<circle cx="271.69" cy="61.18" r="0.65" fill="#2b8a3e" fill-opacity="0.65"/>
<circle cx="273.63" cy="66.79" r="0.65" fill="#e5592a" fill-opacity="0.65"/>
<circle cx="273.25" cy="57.66" r="0.65" fill="#e5592a" fill-opacity="0.65"/>
<circle cx="273.62" cy="59.07" r="0.65" fill="#e5592a" fill-opacity="0.65"/>
<circle cx="273.90" cy="61.48" r="0.65" fill="#e5592a" fill-opacity="0.65"/>
<circle cx="273.34" cy="60.38" r="0.65" fill="#e5592a" fill-opacity="0.65"/>
<circle cx="273.46" cy="61.04" r="0.65" fill="#e5592a" fill-opacity="0.65"/>
<circle cx="273.72" cy="65.64" r="0.65" fill="#e5592a" fill-opacity="0.65"/>
<circle cx="273.53" cy="68.94" r="0.65" fill="#e5592a" fill-opacity="0.65"/>
<circle cx="273.44" cy="73.86" r="0.65" fill="#e5592a" fill-opacity="0.65"/>
<circle cx="274.12" cy="70.56" r="0.65" fill="#e5592a" fill-opacity="0.65"/>
<circle cx="273.64" cy="68.09" r="0.65" fill="#e5592a" fill-opacity="0.65"/>
<circle cx="273.77" cy="64.41" r="0.65" fill="#e5592a" fill-opacity="0.65"/>
<circle cx="273.63" cy="68.20" r="0.65" fill="#e5592a" fill-opacity="0.65"/>
<circle cx="273.41" cy="64.75" r="0.65" fill="#e5592a" fill-opacity="0.65"/>
<circle cx="273.97" cy="66.93" r="0.65" fill="#e5592a" fill-opacity="0.65"/>
<circle cx="273.72" cy="71.37" r="0.65" fill="#e5592a" fill-opacity="0.65"/>
<circle cx="273.80" cy="66.32" r="0.65" fill="#e5592a" fill-opacity="0.65"/>
<circle cx="274.14" cy="66.98" r="0.65" fill="#e5592a" fill-opacity="0.65"/>
<circle cx="273.27" cy="69.48" r="0.65" fill="#e5592a" fill-opacity="0.65"/>
<circle cx="273.34" cy="66.45" r="0.65" fill="#e5592a" fill-opacity="0.65"/>
<circle cx="274.01" cy="69.38" r="0.65" fill="#e5592a" fill-opacity="0.65"/>
<circle cx="273.26" cy="67.61" r="0.65" fill="#e5592a" fill-opacity="0.65"/>
<circle cx="273.62" cy="67.89" r="0.65" fill="#e5592a" fill-opacity="0.65"/>
<circle cx="273.44" cy="68.71" r="0.65" fill="#e5592a" fill-opacity="0.65"/>
<circle cx="273.32" cy="66.27" r="0.65" fill="#e5592a" fill-opacity="0.65"/>
<circle cx="273.59" cy="71.48" r="0.65" fill="#e5592a" fill-opacity="0.65"/>
<circle cx="273.32" cy="70.04" r="0.65" fill="#e5592a" fill-opacity="0.65"/>
<circle cx="273.42" cy="68.57" r="0.65" fill="#e5592a" fill-opacity="0.65"/>
<circle cx="281.50" cy="65.99" r="0.65" fill="#2b8a3e" fill-opacity="0.65"/>
<circle cx="281.83" cy="64.40" r="0.65" fill="#2b8a3e" fill-opacity="0.65"/>
<circle cx="281.26" cy="58.04" r="0.65" fill="#2b8a3e" fill-opacity="0.65"/>
<circle cx="281.22" cy="75.01" r="0.65" fill="#2b8a3e" fill-opacity="0.65"/>
<circle cx="281.73" cy="77.56" r="0.65" fill="#2b8a3e" fill-opacity="0.65"/>
<circle cx="281.77" cy="55.77" r="0.65" fill="#2b8a3e" fill-opacity="0.65"/>
<circle cx="281.74" cy="73.31" r="0.65" fill="#2b8a3e" fill-opacity="0.65"/>
<circle cx="281.80" cy="66.80" r="0.65" fill="#2b8a3e" fill-opacity="0.65"/>
<circle cx="281.47" cy="65.85" r="0.65" fill="#2b8a3e" fill-opacity="0.65"/>
<circle cx="281.87" cy="61.47" r="0.65" fill="#2b8a3e" fill-opacity="0.65"/>
<circle cx="281.62" cy="66.33" r="0.65" fill="#2b8a3e" fill-opacity="0.65"/>
<circle cx="282.01" cy="73.94" r="0.65" fill="#2b8a3e" fill-opacity="0.65"/>
<circle cx="281.99" cy="74.68" r="0.65" fill="#2b8a3e" fill-opacity="0.65"/>
<circle cx="281.42" cy="60.60" r="0.65" fill="#2b8a3e" fill-opacity="0.65"/>
<circle cx="281.59" cy="61.24" r="0.65" fill="#2b8a3e" fill-opacity="0.65"/>
<circle cx="281.53" cy="71.02" r="0.65" fill="#2b8a3e" fill-opacity="0.65"/>
<circle cx="281.98" cy="68.85" r="0.65" fill="#2b8a3e" fill-opacity="0.65"/>
<circle cx="281.89" cy="57.44" r="0.65" fill="#2b8a3e" fill-opacity="0.65"/>
<circle cx="281.47" cy="78.45" r="0.65" fill="#2b8a3e" fill-opacity="0.65"/>
<circle cx="281.28" cy="64.91" r="0.65" fill="#2b8a3e" fill-opacity="0.65"/>
<circle cx="281.21" cy="57.21" r="0.65" fill="#2b8a3e" fill-opacity="0.65"/>
<circle cx="281.96" cy="78.24" r="0.65" fill="#2b8a3e" fill-opacity="0.65"/>
<circle cx="281.73" cy="58.19" r="0.65" fill="#2b8a3e" fill-opacity="0.65"/>
<circle cx="281.42" cy="60.60" r="0.65" fill="#2b8a3e" fill-opacity="0.65"/>
<circle cx="281.75" cy="71.07" r="0.65" fill="#2b8a3e" fill-opacity="0.65"/>
<circle cx="281.54" cy="67.41" r="0.65" fill="#2b8a3e" fill-opacity="0.65"/>
<circle cx="281.25" cy="67.80" r="0.65" fill="#2b8a3e" fill-opacity="0.65"/>
<circle cx="282.00" cy="72.81" r="0.65" fill="#2b8a3e" fill-opacity="0.65"/>
<circle cx="283.44" cy="66.61" r="0.65" fill="#e5592a" fill-opacity="0.65"/>
<circle cx="283.99" cy="61.79" r="0.65" fill="#e5592a" fill-opacity="0.65"/>
<circle cx="284.16" cy="65.57" r="0.65" fill="#e5592a" fill-opacity="0.65"/>
<circle cx="283.98" cy="64.52" r="0.65" fill="#e5592a" fill-opacity="0.65"/>
<circle cx="284.25" cy="71.56" r="0.65" fill="#e5592a" fill-opacity="0.65"/>
<circle cx="283.87" cy="59.69" r="0.65" fill="#e5592a" fill-opacity="0.65"/>
<circle cx="283.75" cy="57.55" r="0.65" fill="#e5592a" fill-opacity="0.65"/>
<circle cx="283.89" cy="73.40" r="0.65" fill="#e5592a" fill-opacity="0.65"/>
<circle cx="283.51" cy="66.49" r="0.65" fill="#e5592a" fill-opacity="0.65"/>
<circle cx="283.78" cy="64.53" r="0.65" fill="#e5592a" fill-opacity="0.65"/>
<circle cx="283.99" cy="71.49" r="0.65" fill="#e5592a" fill-opacity="0.65"/>
<circle cx="283.98" cy="67.78" r="0.65" fill="#e5592a" fill-opacity="0.65"/>
<circle cx="284.22" cy="66.65" r="0.65" fill="#e5592a" fill-opacity="0.65"/>
<circle cx="284.02" cy="69.27" r="0.65" fill="#e5592a" fill-opacity="0.65"/>
<circle cx="284.04" cy="70.82" r="0.65" fill="#e5592a" fill-opacity="0.65"/>
<circle cx="283.55" cy="68.97" r="0.65" fill="#e5592a" fill-opacity="0.65"/>
<circle cx="283.71" cy="69.34" r="0.65" fill="#e5592a" fill-opacity="0.65"/>
<circle cx="284.23" cy="69.08" r="0.65" fill="#e5592a" fill-opacity="0.65"/>
<circle cx="283.36" cy="67.72" r="0.65" fill="#e5592a" fill-opacity="0.65"/>
<circle cx="283.99" cy="71.07" r="0.65" fill="#e5592a" fill-opacity="0.65"/>
<circle cx="283.94" cy="70.53" r="0.65" fill="#e5592a" fill-opacity="0.65"/>
<circle cx="283.37" cy="71.55" r="0.65" fill="#e5592a" fill-opacity="0.65"/>
<circle cx="284.01" cy="68.85" r="0.65" fill="#e5592a" fill-opacity="0.65"/>
<circle cx="284.16" cy="71.08" r="0.65" fill="#e5592a" fill-opacity="0.65"/>
<circle cx="283.44" cy="70.52" r="0.65" fill="#e5592a" fill-opacity="0.65"/>
<circle cx="284.04" cy="65.60" r="0.65" fill="#e5592a" fill-opacity="0.65"/>
<circle cx="284.02" cy="68.69" r="0.65" fill="#e5592a" fill-opacity="0.65"/>
<circle cx="283.52" cy="70.43" r="0.65" fill="#e5592a" fill-opacity="0.65"/>
<circle cx="292.07" cy="69.47" r="0.65" fill="#2b8a3e" fill-opacity="0.65"/>
<circle cx="292.34" cy="61.11" r="0.65" fill="#2b8a3e" fill-opacity="0.65"/>
<circle cx="292.46" cy="66.08" r="0.65" fill="#2b8a3e" fill-opacity="0.65"/>
<circle cx="292.13" cy="77.73" r="0.65" fill="#2b8a3e" fill-opacity="0.65"/>
<circle cx="292.02" cy="55.27" r="0.65" fill="#2b8a3e" fill-opacity="0.65"/>
<circle cx="292.39" cy="74.71" r="0.65" fill="#2b8a3e" fill-opacity="0.65"/>
<circle cx="292.54" cy="72.78" r="0.65" fill="#2b8a3e" fill-opacity="0.65"/>
<circle cx="292.39" cy="70.92" r="0.65" fill="#2b8a3e" fill-opacity="0.65"/>
<circle cx="292.25" cy="61.42" r="0.65" fill="#2b8a3e" fill-opacity="0.65"/>
<circle cx="292.40" cy="55.84" r="0.65" fill="#2b8a3e" fill-opacity="0.65"/>
<circle cx="292.02" cy="72.77" r="0.65" fill="#2b8a3e" fill-opacity="0.65"/>
<circle cx="292.11" cy="72.68" r="0.65" fill="#2b8a3e" fill-opacity="0.65"/>
<circle cx="292.66" cy="64.62" r="0.65" fill="#2b8a3e" fill-opacity="0.65"/>
<circle cx="292.56" cy="73.55" r="0.65" fill="#2b8a3e" fill-opacity="0.65"/>
<circle cx="292.73" cy="58.34" r="0.65" fill="#2b8a3e" fill-opacity="0.65"/>
<circle cx="292.10" cy="64.09" r="0.65" fill="#2b8a3e" fill-opacity="0.65"/>
<circle cx="292.37" cy="62.07" r="0.65" fill="#2b8a3e" fill-opacity="0.65"/>
<circle cx="291.96" cy="68.19" r="0.65" fill="#2b8a3e" fill-opacity="0.65"/>
<circle cx="292.82" cy="63.74" r="0.65" fill="#2b8a3e" fill-opacity="0.65"/>
<circle cx="292.43" cy="64.11" r="0.65" fill="#2b8a3e" fill-opacity="0.65"/>
<circle cx="292.35" cy="75.48" r="0.65" fill="#2b8a3e" fill-opacity="0.65"/>
<circle cx="292.23" cy="70.32" r="0.65" fill="#2b8a3e" fill-opacity="0.65"/>
<circle cx="292.39" cy="67.75" r="0.65" fill="#2b8a3e" fill-opacity="0.65"/>
<circle cx="292.77" cy="56.99" r="0.65" fill="#2b8a3e" fill-opacity="0.65"/>
<circle cx="292.69" cy="62.29" r="0.65" fill="#2b8a3e" fill-opacity="0.65"/>
<circle cx="292.53" cy="73.74" r="0.65" fill="#2b8a3e" fill-opacity="0.65"/>
<circle cx="292.54" cy="64.36" r="0.65" fill="#2b8a3e" fill-opacity="0.65"/>
<circle cx="292.71" cy="57.37" r="0.65" fill="#2b8a3e" fill-opacity="0.65"/>
<circle cx="294.72" cy="64.27" r="0.65" fill="#e5592a" fill-opacity="0.65"/>
<circle cx="294.63" cy="72.83" r="0.65" fill="#e5592a" fill-opacity="0.65"/>
<circle cx="294.87" cy="68.70" r="0.65" fill="#e5592a" fill-opacity="0.65"/>
<circle cx="294.43" cy="61.33" r="0.65" fill="#e5592a" fill-opacity="0.65"/>
<circle cx="294.56" cy="61.32" r="0.65" fill="#e5592a" fill-opacity="0.65"/>
<circle cx="294.40" cy="74.81" r="0.65" fill="#e5592a" fill-opacity="0.65"/>
<circle cx="294.25" cy="72.23" r="0.65" fill="#e5592a" fill-opacity="0.65"/>
<circle cx="294.49" cy="63.78" r="0.65" fill="#e5592a" fill-opacity="0.65"/>
<circle cx="294.44" cy="58.44" r="0.65" fill="#e5592a" fill-opacity="0.65"/>
<circle cx="294.56" cy="60.10" r="0.65" fill="#e5592a" fill-opacity="0.65"/>
<circle cx="294.55" cy="66.34" r="0.65" fill="#e5592a" fill-opacity="0.65"/>
<circle cx="294.96" cy="71.37" r="0.65" fill="#e5592a" fill-opacity="0.65"/>
<circle cx="294.55" cy="69.12" r="0.65" fill="#e5592a" fill-opacity="0.65"/>
<circle cx="294.99" cy="66.61" r="0.65" fill="#e5592a" fill-opacity="0.65"/>
<circle cx="294.24" cy="65.90" r="0.65" fill="#e5592a" fill-opacity="0.65"/>
<circle cx="294.32" cy="69.43" r="0.65" fill="#e5592a" fill-opacity="0.65"/>
<circle cx="294.49" cy="66.85" r="0.65" fill="#e5592a" fill-opacity="0.65"/>
<circle cx="294.87" cy="65.87" r="0.65" fill="#e5592a" fill-opacity="0.65"/>
<circle cx="294.88" cy="69.06" r="0.65" fill="#e5592a" fill-opacity="0.65"/>
<circle cx="294.51" cy="70.59" r="0.65" fill="#e5592a" fill-opacity="0.65"/>
<circle cx="294.46" cy="71.03" r="0.65" fill="#e5592a" fill-opacity="0.65"/>
<circle cx="294.98" cy="68.02" r="0.65" fill="#e5592a" fill-opacity="0.65"/>
<circle cx="294.77" cy="71.59" r="0.65" fill="#e5592a" fill-opacity="0.65"/>
<circle cx="294.82" cy="70.01" r="0.65" fill="#e5592a" fill-opacity="0.65"/>
<circle cx="294.93" cy="71.48" r="0.65" fill="#e5592a" fill-opacity="0.65"/>
<circle cx="294.83" cy="71.83" r="0.65" fill="#e5592a" fill-opacity="0.65"/>
<circle cx="294.41" cy="68.98" r="0.65" fill="#e5592a" fill-opacity="0.65"/>
<circle cx="294.75" cy="66.94" r="0.65" fill="#e5592a" fill-opacity="0.65"/>
<line x1="257.60" y1="53.80" x2="257.60" y2="80.10" stroke="#6a6a6a" stroke-width="0.8" />
<line x1="257.30" y1="79.80" x2="297.40" y2="79.80" stroke="#6a6a6a" stroke-width="0.8" />
<rect x="427.00" y="48.90" width="49.80" height="38.30" fill="#efefef"/>
<line x1="434.60" y1="57.64" x2="435.90" y2="57.64" stroke="#6a6a6a" stroke-width="0.6" />
<text x="434.10" y="59.84" font-size="6.2" text-anchor="end" fill="#5e5e5e"  >14</text>
<line x1="434.60" y1="62.66" x2="435.90" y2="62.66" stroke="#6a6a6a" stroke-width="0.6" />
<text x="434.10" y="64.86" font-size="6.2" text-anchor="end" fill="#5e5e5e"  >12</text>
<line x1="434.60" y1="67.68" x2="435.90" y2="67.68" stroke="#6a6a6a" stroke-width="0.6" />
<text x="434.10" y="69.88" font-size="6.2" text-anchor="end" fill="#5e5e5e"  >10</text>
<line x1="434.60" y1="72.70" x2="435.90" y2="72.70" stroke="#6a6a6a" stroke-width="0.6" />
<text x="434.10" y="74.90" font-size="6.2" text-anchor="end" fill="#5e5e5e"  >8</text>
<line x1="434.60" y1="77.70" x2="435.90" y2="77.70" stroke="#6a6a6a" stroke-width="0.6" />
<text x="434.10" y="79.90" font-size="6.2" text-anchor="end" fill="#5e5e5e"  >6</text>
<line x1="440.10" y1="78.30" x2="440.10" y2="79.60" stroke="#6a6a6a" stroke-width="0.6" />
<text x="440.10" y="85.19" font-size="6.3" text-anchor="middle" fill="#5e5e5e"  >2</text>
<line x1="450.50" y1="78.30" x2="450.50" y2="79.60" stroke="#6a6a6a" stroke-width="0.6" />
<text x="450.50" y="85.19" font-size="6.3" text-anchor="middle" fill="#5e5e5e"  >3</text>
<line x1="460.80" y1="78.30" x2="460.80" y2="79.60" stroke="#6a6a6a" stroke-width="0.6" />
<text x="460.80" y="85.19" font-size="6.3" text-anchor="middle" fill="#5e5e5e"  >4</text>
<line x1="471.40" y1="78.30" x2="471.40" y2="79.60" stroke="#6a6a6a" stroke-width="0.6" />
<text x="471.40" y="85.19" font-size="6.3" text-anchor="middle" fill="#5e5e5e"  >5</text>
<circle cx="438.86" cy="63.00" r="0.65" fill="#2b8a3e" fill-opacity="0.65"/>
<circle cx="438.98" cy="64.01" r="0.65" fill="#2b8a3e" fill-opacity="0.65"/>
<circle cx="439.21" cy="54.91" r="0.65" fill="#2b8a3e" fill-opacity="0.65"/>
<circle cx="438.66" cy="67.95" r="0.65" fill="#2b8a3e" fill-opacity="0.65"/>
<circle cx="438.88" cy="57.76" r="0.65" fill="#2b8a3e" fill-opacity="0.65"/>
<circle cx="439.55" cy="61.75" r="0.65" fill="#2b8a3e" fill-opacity="0.65"/>
<circle cx="439.40" cy="61.85" r="0.65" fill="#2b8a3e" fill-opacity="0.65"/>
<circle cx="439.23" cy="56.35" r="0.65" fill="#2b8a3e" fill-opacity="0.65"/>
<circle cx="439.22" cy="68.47" r="0.65" fill="#2b8a3e" fill-opacity="0.65"/>
<circle cx="439.12" cy="66.33" r="0.65" fill="#2b8a3e" fill-opacity="0.65"/>
<circle cx="439.25" cy="54.88" r="0.65" fill="#2b8a3e" fill-opacity="0.65"/>
<circle cx="439.33" cy="63.79" r="0.65" fill="#2b8a3e" fill-opacity="0.65"/>
<circle cx="438.92" cy="54.32" r="0.65" fill="#2b8a3e" fill-opacity="0.65"/>
<circle cx="439.43" cy="61.79" r="0.65" fill="#2b8a3e" fill-opacity="0.65"/>
<circle cx="439.30" cy="68.65" r="0.65" fill="#2b8a3e" fill-opacity="0.65"/>
<circle cx="439.29" cy="69.37" r="0.65" fill="#2b8a3e" fill-opacity="0.65"/>
<circle cx="439.01" cy="67.34" r="0.65" fill="#2b8a3e" fill-opacity="0.65"/>
<circle cx="439.05" cy="69.61" r="0.65" fill="#2b8a3e" fill-opacity="0.65"/>
<circle cx="439.44" cy="55.45" r="0.65" fill="#2b8a3e" fill-opacity="0.65"/>
<circle cx="438.77" cy="57.47" r="0.65" fill="#2b8a3e" fill-opacity="0.65"/>
<circle cx="439.52" cy="61.17" r="0.65" fill="#2b8a3e" fill-opacity="0.65"/>
<circle cx="439.21" cy="58.89" r="0.65" fill="#2b8a3e" fill-opacity="0.65"/>
<circle cx="439.11" cy="60.32" r="0.65" fill="#2b8a3e" fill-opacity="0.65"/>
<circle cx="438.97" cy="63.69" r="0.65" fill="#2b8a3e" fill-opacity="0.65"/>
<circle cx="439.18" cy="69.08" r="0.65" fill="#2b8a3e" fill-opacity="0.65"/>
<circle cx="439.26" cy="69.50" r="0.65" fill="#2b8a3e" fill-opacity="0.65"/>
<circle cx="439.42" cy="70.55" r="0.65" fill="#2b8a3e" fill-opacity="0.65"/>
<circle cx="439.25" cy="56.56" r="0.65" fill="#2b8a3e" fill-opacity="0.65"/>
<circle cx="441.62" cy="72.30" r="0.65" fill="#e5592a" fill-opacity="0.65"/>
<circle cx="441.66" cy="64.47" r="0.65" fill="#e5592a" fill-opacity="0.65"/>
<circle cx="441.49" cy="57.38" r="0.65" fill="#e5592a" fill-opacity="0.65"/>
<circle cx="441.60" cy="64.56" r="0.65" fill="#e5592a" fill-opacity="0.65"/>
<circle cx="441.11" cy="54.46" r="0.65" fill="#e5592a" fill-opacity="0.65"/>
<circle cx="441.62" cy="72.80" r="0.65" fill="#e5592a" fill-opacity="0.65"/>
<circle cx="440.93" cy="69.05" r="0.65" fill="#e5592a" fill-opacity="0.65"/>
<circle cx="441.22" cy="56.19" r="0.65" fill="#e5592a" fill-opacity="0.65"/>
<circle cx="441.11" cy="68.42" r="0.65" fill="#e5592a" fill-opacity="0.65"/>
<circle cx="441.64" cy="59.11" r="0.65" fill="#e5592a" fill-opacity="0.65"/>
<circle cx="441.40" cy="59.12" r="0.65" fill="#e5592a" fill-opacity="0.65"/>
<circle cx="441.50" cy="63.10" r="0.65" fill="#e5592a" fill-opacity="0.65"/>
<circle cx="441.64" cy="72.13" r="0.65" fill="#e5592a" fill-opacity="0.65"/>
<circle cx="441.30" cy="72.38" r="0.65" fill="#e5592a" fill-opacity="0.65"/>
<circle cx="441.13" cy="59.57" r="0.65" fill="#e5592a" fill-opacity="0.65"/>
<circle cx="441.39" cy="58.94" r="0.65" fill="#e5592a" fill-opacity="0.65"/>
<circle cx="441.03" cy="64.17" r="0.65" fill="#e5592a" fill-opacity="0.65"/>
<circle cx="441.40" cy="60.67" r="0.65" fill="#e5592a" fill-opacity="0.65"/>
<circle cx="440.89" cy="70.56" r="0.65" fill="#e5592a" fill-opacity="0.65"/>
<circle cx="441.13" cy="71.83" r="0.65" fill="#e5592a" fill-opacity="0.65"/>
<circle cx="441.66" cy="63.75" r="0.65" fill="#e5592a" fill-opacity="0.65"/>
<circle cx="441.26" cy="65.73" r="0.65" fill="#e5592a" fill-opacity="0.65"/>
<circle cx="441.43" cy="66.78" r="0.65" fill="#e5592a" fill-opacity="0.65"/>
<circle cx="441.35" cy="67.12" r="0.65" fill="#e5592a" fill-opacity="0.65"/>
<circle cx="441.70" cy="65.55" r="0.65" fill="#e5592a" fill-opacity="0.65"/>
<circle cx="441.24" cy="68.51" r="0.65" fill="#e5592a" fill-opacity="0.65"/>
<circle cx="441.06" cy="62.69" r="0.65" fill="#e5592a" fill-opacity="0.65"/>
<circle cx="441.73" cy="65.74" r="0.65" fill="#e5592a" fill-opacity="0.65"/>
<circle cx="439.10" cy="76.50" r="0.6" fill="#2b8a3e" fill-opacity="0.75"/>
<circle cx="449.54" cy="53.99" r="0.65" fill="#2b8a3e" fill-opacity="0.65"/>
<circle cx="449.42" cy="63.60" r="0.65" fill="#2b8a3e" fill-opacity="0.65"/>
<circle cx="449.07" cy="64.21" r="0.65" fill="#2b8a3e" fill-opacity="0.65"/>
<circle cx="449.62" cy="54.82" r="0.65" fill="#2b8a3e" fill-opacity="0.65"/>
<circle cx="449.61" cy="61.68" r="0.65" fill="#2b8a3e" fill-opacity="0.65"/>
<circle cx="449.66" cy="59.76" r="0.65" fill="#2b8a3e" fill-opacity="0.65"/>
<circle cx="449.69" cy="66.27" r="0.65" fill="#2b8a3e" fill-opacity="0.65"/>
<circle cx="449.07" cy="54.82" r="0.65" fill="#2b8a3e" fill-opacity="0.65"/>
<circle cx="449.66" cy="70.08" r="0.65" fill="#2b8a3e" fill-opacity="0.65"/>
<circle cx="449.28" cy="61.51" r="0.65" fill="#2b8a3e" fill-opacity="0.65"/>
<circle cx="449.58" cy="59.21" r="0.65" fill="#2b8a3e" fill-opacity="0.65"/>
<circle cx="449.38" cy="59.08" r="0.65" fill="#2b8a3e" fill-opacity="0.65"/>
<circle cx="449.38" cy="63.87" r="0.65" fill="#2b8a3e" fill-opacity="0.65"/>
<circle cx="449.32" cy="60.17" r="0.65" fill="#2b8a3e" fill-opacity="0.65"/>
<circle cx="449.75" cy="54.25" r="0.65" fill="#2b8a3e" fill-opacity="0.65"/>
<circle cx="449.56" cy="66.22" r="0.65" fill="#2b8a3e" fill-opacity="0.65"/>
<circle cx="449.33" cy="57.56" r="0.65" fill="#2b8a3e" fill-opacity="0.65"/>
<circle cx="449.77" cy="57.83" r="0.65" fill="#2b8a3e" fill-opacity="0.65"/>
<circle cx="449.22" cy="61.16" r="0.65" fill="#2b8a3e" fill-opacity="0.65"/>
<circle cx="449.68" cy="55.52" r="0.65" fill="#2b8a3e" fill-opacity="0.65"/>
<circle cx="449.34" cy="59.44" r="0.65" fill="#2b8a3e" fill-opacity="0.65"/>
<circle cx="449.80" cy="61.21" r="0.65" fill="#2b8a3e" fill-opacity="0.65"/>
<circle cx="449.82" cy="56.66" r="0.65" fill="#2b8a3e" fill-opacity="0.65"/>
<circle cx="449.35" cy="64.79" r="0.65" fill="#2b8a3e" fill-opacity="0.65"/>
<circle cx="449.85" cy="61.42" r="0.65" fill="#2b8a3e" fill-opacity="0.65"/>
<circle cx="449.25" cy="55.84" r="0.65" fill="#2b8a3e" fill-opacity="0.65"/>
<circle cx="449.53" cy="57.02" r="0.65" fill="#2b8a3e" fill-opacity="0.65"/>
<circle cx="449.78" cy="67.97" r="0.65" fill="#2b8a3e" fill-opacity="0.65"/>
<circle cx="451.42" cy="58.72" r="0.65" fill="#e5592a" fill-opacity="0.65"/>
<circle cx="451.98" cy="65.91" r="0.65" fill="#e5592a" fill-opacity="0.65"/>
<circle cx="451.98" cy="60.04" r="0.65" fill="#e5592a" fill-opacity="0.65"/>
<circle cx="451.37" cy="58.98" r="0.65" fill="#e5592a" fill-opacity="0.65"/>
<circle cx="451.96" cy="58.57" r="0.65" fill="#e5592a" fill-opacity="0.65"/>
<circle cx="451.56" cy="61.45" r="0.65" fill="#e5592a" fill-opacity="0.65"/>
<circle cx="451.63" cy="61.31" r="0.65" fill="#e5592a" fill-opacity="0.65"/>
<circle cx="452.08" cy="56.29" r="0.65" fill="#e5592a" fill-opacity="0.65"/>
<circle cx="451.25" cy="71.88" r="0.65" fill="#e5592a" fill-opacity="0.65"/>
<circle cx="452.04" cy="72.22" r="0.65" fill="#e5592a" fill-opacity="0.65"/>
<circle cx="451.64" cy="71.71" r="0.65" fill="#e5592a" fill-opacity="0.65"/>
<circle cx="452.08" cy="61.59" r="0.65" fill="#e5592a" fill-opacity="0.65"/>
<circle cx="451.92" cy="70.13" r="0.65" fill="#e5592a" fill-opacity="0.65"/>
<circle cx="451.85" cy="65.71" r="0.65" fill="#e5592a" fill-opacity="0.65"/>
<circle cx="451.51" cy="63.24" r="0.65" fill="#e5592a" fill-opacity="0.65"/>
<circle cx="451.45" cy="59.45" r="0.65" fill="#e5592a" fill-opacity="0.65"/>
<circle cx="451.78" cy="62.49" r="0.65" fill="#e5592a" fill-opacity="0.65"/>
<circle cx="451.98" cy="59.13" r="0.65" fill="#e5592a" fill-opacity="0.65"/>
<circle cx="452.06" cy="68.14" r="0.65" fill="#e5592a" fill-opacity="0.65"/>
<circle cx="452.08" cy="70.96" r="0.65" fill="#e5592a" fill-opacity="0.65"/>
<circle cx="452.06" cy="66.52" r="0.65" fill="#e5592a" fill-opacity="0.65"/>
<circle cx="451.26" cy="68.86" r="0.65" fill="#e5592a" fill-opacity="0.65"/>
<circle cx="451.40" cy="62.67" r="0.65" fill="#e5592a" fill-opacity="0.65"/>
<circle cx="451.85" cy="65.80" r="0.65" fill="#e5592a" fill-opacity="0.65"/>
<circle cx="451.62" cy="71.55" r="0.65" fill="#e5592a" fill-opacity="0.65"/>
<circle cx="451.80" cy="63.24" r="0.65" fill="#e5592a" fill-opacity="0.65"/>
<circle cx="451.48" cy="70.48" r="0.65" fill="#e5592a" fill-opacity="0.65"/>
<circle cx="451.68" cy="69.37" r="0.65" fill="#e5592a" fill-opacity="0.65"/>
<circle cx="449.50" cy="76.50" r="0.6" fill="#2b8a3e" fill-opacity="0.75"/>
<circle cx="459.67" cy="57.13" r="0.65" fill="#2b8a3e" fill-opacity="0.65"/>
<circle cx="459.83" cy="67.60" r="0.65" fill="#2b8a3e" fill-opacity="0.65"/>
<circle cx="459.50" cy="67.18" r="0.65" fill="#2b8a3e" fill-opacity="0.65"/>
<circle cx="460.18" cy="67.42" r="0.65" fill="#2b8a3e" fill-opacity="0.65"/>
<circle cx="460.09" cy="53.93" r="0.65" fill="#2b8a3e" fill-opacity="0.65"/>
<circle cx="459.92" cy="68.38" r="0.65" fill="#2b8a3e" fill-opacity="0.65"/>
<circle cx="459.39" cy="58.39" r="0.65" fill="#2b8a3e" fill-opacity="0.65"/>
<circle cx="459.59" cy="62.71" r="0.65" fill="#2b8a3e" fill-opacity="0.65"/>
<circle cx="459.73" cy="61.79" r="0.65" fill="#2b8a3e" fill-opacity="0.65"/>
<circle cx="460.05" cy="53.83" r="0.65" fill="#2b8a3e" fill-opacity="0.65"/>
<circle cx="459.40" cy="55.94" r="0.65" fill="#2b8a3e" fill-opacity="0.65"/>
<circle cx="459.46" cy="54.96" r="0.65" fill="#2b8a3e" fill-opacity="0.65"/>
<circle cx="460.23" cy="68.24" r="0.65" fill="#2b8a3e" fill-opacity="0.65"/>
<circle cx="459.43" cy="62.29" r="0.65" fill="#2b8a3e" fill-opacity="0.65"/>
<circle cx="459.63" cy="59.12" r="0.65" fill="#2b8a3e" fill-opacity="0.65"/>
<circle cx="459.67" cy="64.73" r="0.65" fill="#2b8a3e" fill-opacity="0.65"/>
<circle cx="459.88" cy="59.90" r="0.65" fill="#2b8a3e" fill-opacity="0.65"/>
<circle cx="459.52" cy="59.36" r="0.65" fill="#2b8a3e" fill-opacity="0.65"/>
<circle cx="459.46" cy="63.19" r="0.65" fill="#2b8a3e" fill-opacity="0.65"/>
<circle cx="459.99" cy="60.23" r="0.65" fill="#2b8a3e" fill-opacity="0.65"/>
<circle cx="459.42" cy="56.82" r="0.65" fill="#2b8a3e" fill-opacity="0.65"/>
<circle cx="459.69" cy="64.01" r="0.65" fill="#2b8a3e" fill-opacity="0.65"/>
<circle cx="460.05" cy="60.23" r="0.65" fill="#2b8a3e" fill-opacity="0.65"/>
<circle cx="460.07" cy="64.33" r="0.65" fill="#2b8a3e" fill-opacity="0.65"/>
<circle cx="459.74" cy="60.09" r="0.65" fill="#2b8a3e" fill-opacity="0.65"/>
<circle cx="459.80" cy="65.68" r="0.65" fill="#2b8a3e" fill-opacity="0.65"/>
<circle cx="459.73" cy="65.53" r="0.65" fill="#2b8a3e" fill-opacity="0.65"/>
<circle cx="459.76" cy="57.94" r="0.65" fill="#2b8a3e" fill-opacity="0.65"/>
<circle cx="462.03" cy="66.96" r="0.65" fill="#e5592a" fill-opacity="0.65"/>
<circle cx="461.61" cy="61.61" r="0.65" fill="#e5592a" fill-opacity="0.65"/>
<circle cx="461.93" cy="70.62" r="0.65" fill="#e5592a" fill-opacity="0.65"/>
<circle cx="462.39" cy="60.61" r="0.65" fill="#e5592a" fill-opacity="0.65"/>
<circle cx="462.36" cy="68.86" r="0.65" fill="#e5592a" fill-opacity="0.65"/>
<circle cx="461.79" cy="62.39" r="0.65" fill="#e5592a" fill-opacity="0.65"/>
<circle cx="461.66" cy="69.30" r="0.65" fill="#e5592a" fill-opacity="0.65"/>
<circle cx="462.15" cy="70.77" r="0.65" fill="#e5592a" fill-opacity="0.65"/>
<circle cx="462.26" cy="66.42" r="0.65" fill="#e5592a" fill-opacity="0.65"/>
<circle cx="462.21" cy="66.34" r="0.65" fill="#e5592a" fill-opacity="0.65"/>
<circle cx="461.64" cy="66.67" r="0.65" fill="#e5592a" fill-opacity="0.65"/>
<circle cx="461.55" cy="60.49" r="0.65" fill="#e5592a" fill-opacity="0.65"/>
<circle cx="462.25" cy="59.12" r="0.65" fill="#e5592a" fill-opacity="0.65"/>
<circle cx="461.63" cy="59.88" r="0.65" fill="#e5592a" fill-opacity="0.65"/>
<circle cx="462.34" cy="60.99" r="0.65" fill="#e5592a" fill-opacity="0.65"/>
<circle cx="461.57" cy="70.20" r="0.65" fill="#e5592a" fill-opacity="0.65"/>
<circle cx="461.66" cy="70.23" r="0.65" fill="#e5592a" fill-opacity="0.65"/>
<circle cx="462.16" cy="70.12" r="0.65" fill="#e5592a" fill-opacity="0.65"/>
<circle cx="462.41" cy="66.55" r="0.65" fill="#e5592a" fill-opacity="0.65"/>
<circle cx="462.27" cy="59.00" r="0.65" fill="#e5592a" fill-opacity="0.65"/>
<circle cx="462.24" cy="65.61" r="0.65" fill="#e5592a" fill-opacity="0.65"/>
<circle cx="462.19" cy="59.98" r="0.65" fill="#e5592a" fill-opacity="0.65"/>
<circle cx="462.22" cy="71.49" r="0.65" fill="#e5592a" fill-opacity="0.65"/>
<circle cx="461.61" cy="63.01" r="0.65" fill="#e5592a" fill-opacity="0.65"/>
<circle cx="462.06" cy="70.01" r="0.65" fill="#e5592a" fill-opacity="0.65"/>
<circle cx="461.77" cy="61.00" r="0.65" fill="#e5592a" fill-opacity="0.65"/>
<circle cx="461.77" cy="67.06" r="0.65" fill="#e5592a" fill-opacity="0.65"/>
<circle cx="462.23" cy="63.97" r="0.65" fill="#e5592a" fill-opacity="0.65"/>
<circle cx="459.80" cy="76.50" r="0.6" fill="#2b8a3e" fill-opacity="0.75"/>
<circle cx="470.28" cy="60.50" r="0.65" fill="#2b8a3e" fill-opacity="0.65"/>
<circle cx="470.27" cy="60.87" r="0.65" fill="#2b8a3e" fill-opacity="0.65"/>
<circle cx="470.02" cy="62.26" r="0.65" fill="#2b8a3e" fill-opacity="0.65"/>
<circle cx="470.83" cy="60.78" r="0.65" fill="#2b8a3e" fill-opacity="0.65"/>
<circle cx="470.62" cy="56.51" r="0.65" fill="#2b8a3e" fill-opacity="0.65"/>
<circle cx="470.57" cy="66.58" r="0.65" fill="#2b8a3e" fill-opacity="0.65"/>
<circle cx="470.56" cy="62.54" r="0.65" fill="#2b8a3e" fill-opacity="0.65"/>
<circle cx="470.39" cy="64.67" r="0.65" fill="#2b8a3e" fill-opacity="0.65"/>
<circle cx="470.76" cy="56.32" r="0.65" fill="#2b8a3e" fill-opacity="0.65"/>
<circle cx="470.04" cy="66.44" r="0.65" fill="#2b8a3e" fill-opacity="0.65"/>
<circle cx="470.77" cy="62.54" r="0.65" fill="#2b8a3e" fill-opacity="0.65"/>
<circle cx="470.35" cy="65.95" r="0.65" fill="#2b8a3e" fill-opacity="0.65"/>
<circle cx="470.12" cy="58.32" r="0.65" fill="#2b8a3e" fill-opacity="0.65"/>
<circle cx="470.13" cy="63.70" r="0.65" fill="#2b8a3e" fill-opacity="0.65"/>
<circle cx="470.23" cy="57.73" r="0.65" fill="#2b8a3e" fill-opacity="0.65"/>
<circle cx="470.57" cy="69.91" r="0.65" fill="#2b8a3e" fill-opacity="0.65"/>
<circle cx="470.22" cy="65.72" r="0.65" fill="#2b8a3e" fill-opacity="0.65"/>
<circle cx="470.32" cy="68.23" r="0.65" fill="#2b8a3e" fill-opacity="0.65"/>
<circle cx="470.48" cy="58.32" r="0.65" fill="#2b8a3e" fill-opacity="0.65"/>
<circle cx="470.15" cy="54.19" r="0.65" fill="#2b8a3e" fill-opacity="0.65"/>
<circle cx="470.38" cy="60.27" r="0.65" fill="#2b8a3e" fill-opacity="0.65"/>
<circle cx="470.11" cy="59.89" r="0.65" fill="#2b8a3e" fill-opacity="0.65"/>
<circle cx="470.24" cy="66.88" r="0.65" fill="#2b8a3e" fill-opacity="0.65"/>
<circle cx="470.08" cy="70.55" r="0.65" fill="#2b8a3e" fill-opacity="0.65"/>
<circle cx="470.38" cy="63.92" r="0.65" fill="#2b8a3e" fill-opacity="0.65"/>
<circle cx="470.37" cy="67.90" r="0.65" fill="#2b8a3e" fill-opacity="0.65"/>
<circle cx="470.69" cy="63.22" r="0.65" fill="#2b8a3e" fill-opacity="0.65"/>
<circle cx="470.38" cy="65.98" r="0.65" fill="#2b8a3e" fill-opacity="0.65"/>
<circle cx="472.92" cy="61.13" r="0.65" fill="#e5592a" fill-opacity="0.65"/>
<circle cx="472.81" cy="72.21" r="0.65" fill="#e5592a" fill-opacity="0.65"/>
<circle cx="472.57" cy="57.75" r="0.65" fill="#e5592a" fill-opacity="0.65"/>
<circle cx="472.36" cy="67.41" r="0.65" fill="#e5592a" fill-opacity="0.65"/>
<circle cx="472.76" cy="72.18" r="0.65" fill="#e5592a" fill-opacity="0.65"/>
<circle cx="472.92" cy="57.99" r="0.65" fill="#e5592a" fill-opacity="0.65"/>
<circle cx="472.32" cy="58.32" r="0.65" fill="#e5592a" fill-opacity="0.65"/>
<circle cx="472.32" cy="67.15" r="0.65" fill="#e5592a" fill-opacity="0.65"/>
<circle cx="472.92" cy="71.02" r="0.65" fill="#e5592a" fill-opacity="0.65"/>
<circle cx="472.38" cy="70.52" r="0.65" fill="#e5592a" fill-opacity="0.65"/>
<circle cx="472.43" cy="64.38" r="0.65" fill="#e5592a" fill-opacity="0.65"/>
<circle cx="472.81" cy="59.69" r="0.65" fill="#e5592a" fill-opacity="0.65"/>
<circle cx="472.23" cy="70.09" r="0.65" fill="#e5592a" fill-opacity="0.65"/>
<circle cx="472.41" cy="63.46" r="0.65" fill="#e5592a" fill-opacity="0.65"/>
<circle cx="472.67" cy="67.89" r="0.65" fill="#e5592a" fill-opacity="0.65"/>
<circle cx="472.16" cy="63.15" r="0.65" fill="#e5592a" fill-opacity="0.65"/>
<circle cx="472.54" cy="65.25" r="0.65" fill="#e5592a" fill-opacity="0.65"/>
<circle cx="472.34" cy="66.63" r="0.65" fill="#e5592a" fill-opacity="0.65"/>
<circle cx="473.01" cy="63.93" r="0.65" fill="#e5592a" fill-opacity="0.65"/>
<circle cx="472.64" cy="60.16" r="0.65" fill="#e5592a" fill-opacity="0.65"/>
<circle cx="472.40" cy="67.75" r="0.65" fill="#e5592a" fill-opacity="0.65"/>
<circle cx="472.25" cy="70.83" r="0.65" fill="#e5592a" fill-opacity="0.65"/>
<circle cx="472.97" cy="59.85" r="0.65" fill="#e5592a" fill-opacity="0.65"/>
<circle cx="473.00" cy="63.70" r="0.65" fill="#e5592a" fill-opacity="0.65"/>
<circle cx="472.85" cy="69.03" r="0.65" fill="#e5592a" fill-opacity="0.65"/>
<circle cx="472.42" cy="67.89" r="0.65" fill="#e5592a" fill-opacity="0.65"/>
<circle cx="472.74" cy="69.70" r="0.65" fill="#e5592a" fill-opacity="0.65"/>
<circle cx="472.39" cy="68.98" r="0.65" fill="#e5592a" fill-opacity="0.65"/>
<circle cx="470.40" cy="76.00" r="0.6" fill="#2b8a3e" fill-opacity="0.75"/>
<line x1="435.90" y1="52.70" x2="435.90" y2="78.60" stroke="#6a6a6a" stroke-width="0.8" />
<line x1="435.60" y1="78.30" x2="476.10" y2="78.30" stroke="#6a6a6a" stroke-width="0.8" />
<rect x="607.80" y="46.70" width="50.10" height="39.20" fill="#efefef"/>
<line x1="622.25" y1="55.10" x2="623.55" y2="55.10" stroke="#6a6a6a" stroke-width="0.6" />
<text x="621.75" y="57.30" font-size="6.2" text-anchor="end" fill="#5e5e5e"  >20.0</text>
<line x1="622.25" y1="60.73" x2="623.55" y2="60.73" stroke="#6a6a6a" stroke-width="0.6" />
<text x="621.75" y="62.93" font-size="6.2" text-anchor="end" fill="#5e5e5e"  >17.5</text>
<line x1="622.25" y1="66.37" x2="623.55" y2="66.37" stroke="#6a6a6a" stroke-width="0.6" />
<text x="621.75" y="68.57" font-size="6.2" text-anchor="end" fill="#5e5e5e"  >15.0</text>
<line x1="622.25" y1="72.00" x2="623.55" y2="72.00" stroke="#6a6a6a" stroke-width="0.6" />
<text x="621.75" y="74.20" font-size="6.2" text-anchor="end" fill="#5e5e5e"  >12.5</text>
<line x1="627.30" y1="75.40" x2="627.30" y2="76.70" stroke="#6a6a6a" stroke-width="0.6" />
<text x="627.30" y="82.04" font-size="6.3" text-anchor="middle" fill="#5e5e5e"  >2</text>
<line x1="635.60" y1="75.40" x2="635.60" y2="76.70" stroke="#6a6a6a" stroke-width="0.6" />
<text x="635.60" y="82.04" font-size="6.3" text-anchor="middle" fill="#5e5e5e"  >3</text>
<line x1="643.50" y1="75.40" x2="643.50" y2="76.70" stroke="#6a6a6a" stroke-width="0.6" />
<text x="643.50" y="82.04" font-size="6.3" text-anchor="middle" fill="#5e5e5e"  >4</text>
<line x1="651.70" y1="75.40" x2="651.70" y2="76.70" stroke="#6a6a6a" stroke-width="0.6" />
<text x="651.70" y="82.04" font-size="6.3" text-anchor="middle" fill="#5e5e5e"  >5</text>
<circle cx="626.36" cy="59.34" r="0.65" fill="#2b8a3e" fill-opacity="0.65"/>
<circle cx="626.51" cy="60.22" r="0.65" fill="#2b8a3e" fill-opacity="0.65"/>
<circle cx="626.21" cy="64.39" r="0.65" fill="#2b8a3e" fill-opacity="0.65"/>
<circle cx="626.98" cy="71.13" r="0.65" fill="#2b8a3e" fill-opacity="0.65"/>
<circle cx="626.84" cy="61.35" r="0.65" fill="#2b8a3e" fill-opacity="0.65"/>
<circle cx="626.63" cy="62.28" r="0.65" fill="#2b8a3e" fill-opacity="0.65"/>
<circle cx="626.31" cy="59.39" r="0.65" fill="#2b8a3e" fill-opacity="0.65"/>
<circle cx="626.34" cy="73.27" r="0.65" fill="#2b8a3e" fill-opacity="0.65"/>
<circle cx="626.90" cy="71.23" r="0.65" fill="#2b8a3e" fill-opacity="0.65"/>
<circle cx="626.87" cy="60.87" r="0.65" fill="#2b8a3e" fill-opacity="0.65"/>
<circle cx="626.43" cy="68.20" r="0.65" fill="#2b8a3e" fill-opacity="0.65"/>
<circle cx="626.81" cy="72.04" r="0.65" fill="#2b8a3e" fill-opacity="0.65"/>
<circle cx="626.94" cy="59.07" r="0.65" fill="#2b8a3e" fill-opacity="0.65"/>
<circle cx="626.70" cy="68.95" r="0.65" fill="#2b8a3e" fill-opacity="0.65"/>
<circle cx="626.61" cy="60.60" r="0.65" fill="#2b8a3e" fill-opacity="0.65"/>
<circle cx="626.58" cy="59.11" r="0.65" fill="#2b8a3e" fill-opacity="0.65"/>
<circle cx="626.99" cy="72.23" r="0.65" fill="#2b8a3e" fill-opacity="0.65"/>
<circle cx="626.64" cy="62.67" r="0.65" fill="#2b8a3e" fill-opacity="0.65"/>
<circle cx="626.97" cy="67.27" r="0.65" fill="#2b8a3e" fill-opacity="0.65"/>
<circle cx="626.94" cy="71.93" r="0.65" fill="#2b8a3e" fill-opacity="0.65"/>
<circle cx="626.61" cy="64.60" r="0.65" fill="#2b8a3e" fill-opacity="0.65"/>
<circle cx="626.69" cy="64.88" r="0.65" fill="#2b8a3e" fill-opacity="0.65"/>
<circle cx="626.30" cy="62.76" r="0.65" fill="#2b8a3e" fill-opacity="0.65"/>
<circle cx="626.88" cy="58.33" r="0.65" fill="#2b8a3e" fill-opacity="0.65"/>
<circle cx="626.19" cy="68.19" r="0.65" fill="#2b8a3e" fill-opacity="0.65"/>
<circle cx="628.00" cy="66.36" r="0.65" fill="#e5592a" fill-opacity="0.65"/>
<circle cx="628.17" cy="63.00" r="0.65" fill="#e5592a" fill-opacity="0.65"/>
<circle cx="628.65" cy="60.42" r="0.65" fill="#e5592a" fill-opacity="0.65"/>
<circle cx="628.12" cy="60.55" r="0.65" fill="#e5592a" fill-opacity="0.65"/>
<circle cx="628.32" cy="61.84" r="0.65" fill="#e5592a" fill-opacity="0.65"/>
<circle cx="628.07" cy="70.07" r="0.65" fill="#e5592a" fill-opacity="0.65"/>
<circle cx="628.04" cy="66.77" r="0.65" fill="#e5592a" fill-opacity="0.65"/>
<circle cx="628.56" cy="58.77" r="0.65" fill="#e5592a" fill-opacity="0.65"/>
<circle cx="627.81" cy="61.01" r="0.65" fill="#e5592a" fill-opacity="0.65"/>
<circle cx="628.44" cy="67.77" r="0.65" fill="#e5592a" fill-opacity="0.65"/>
<circle cx="627.96" cy="62.79" r="0.65" fill="#e5592a" fill-opacity="0.65"/>
<circle cx="627.91" cy="65.03" r="0.65" fill="#e5592a" fill-opacity="0.65"/>
<circle cx="627.79" cy="69.20" r="0.65" fill="#e5592a" fill-opacity="0.65"/>
<circle cx="628.56" cy="73.71" r="0.65" fill="#e5592a" fill-opacity="0.65"/>
<circle cx="628.41" cy="73.80" r="0.65" fill="#e5592a" fill-opacity="0.65"/>
<circle cx="627.77" cy="62.06" r="0.65" fill="#e5592a" fill-opacity="0.65"/>
<circle cx="628.62" cy="70.57" r="0.65" fill="#e5592a" fill-opacity="0.65"/>
<circle cx="628.12" cy="73.51" r="0.65" fill="#e5592a" fill-opacity="0.65"/>
<circle cx="628.31" cy="71.31" r="0.65" fill="#e5592a" fill-opacity="0.65"/>
<circle cx="628.01" cy="60.35" r="0.65" fill="#e5592a" fill-opacity="0.65"/>
<circle cx="628.15" cy="59.39" r="0.65" fill="#e5592a" fill-opacity="0.65"/>
<circle cx="628.09" cy="73.83" r="0.65" fill="#e5592a" fill-opacity="0.65"/>
<circle cx="628.05" cy="57.16" r="0.65" fill="#e5592a" fill-opacity="0.65"/>
<circle cx="627.79" cy="59.97" r="0.65" fill="#e5592a" fill-opacity="0.65"/>
<circle cx="628.46" cy="63.35" r="0.65" fill="#e5592a" fill-opacity="0.65"/>
<circle cx="628.60" cy="51.00" r="0.6" fill="#e5592a" fill-opacity="0.75"/>
<circle cx="634.71" cy="59.24" r="0.65" fill="#2b8a3e" fill-opacity="0.65"/>
<circle cx="635.33" cy="64.76" r="0.65" fill="#2b8a3e" fill-opacity="0.65"/>
<circle cx="634.64" cy="58.60" r="0.65" fill="#2b8a3e" fill-opacity="0.65"/>
<circle cx="634.50" cy="60.45" r="0.65" fill="#2b8a3e" fill-opacity="0.65"/>
<circle cx="635.06" cy="60.13" r="0.65" fill="#2b8a3e" fill-opacity="0.65"/>
<circle cx="634.49" cy="65.89" r="0.65" fill="#2b8a3e" fill-opacity="0.65"/>
<circle cx="634.67" cy="74.46" r="0.65" fill="#2b8a3e" fill-opacity="0.65"/>
<circle cx="634.56" cy="66.54" r="0.65" fill="#2b8a3e" fill-opacity="0.65"/>
<circle cx="635.15" cy="64.52" r="0.65" fill="#2b8a3e" fill-opacity="0.65"/>
<circle cx="635.34" cy="65.67" r="0.65" fill="#2b8a3e" fill-opacity="0.65"/>
<circle cx="634.67" cy="64.54" r="0.65" fill="#2b8a3e" fill-opacity="0.65"/>
<circle cx="634.48" cy="64.72" r="0.65" fill="#2b8a3e" fill-opacity="0.65"/>
<circle cx="634.67" cy="72.63" r="0.65" fill="#2b8a3e" fill-opacity="0.65"/>
<circle cx="635.20" cy="66.03" r="0.65" fill="#2b8a3e" fill-opacity="0.65"/>
<circle cx="634.48" cy="61.90" r="0.65" fill="#2b8a3e" fill-opacity="0.65"/>
<circle cx="634.67" cy="61.12" r="0.65" fill="#2b8a3e" fill-opacity="0.65"/>
<circle cx="634.66" cy="72.30" r="0.65" fill="#2b8a3e" fill-opacity="0.65"/>
<circle cx="634.58" cy="58.47" r="0.65" fill="#2b8a3e" fill-opacity="0.65"/>
<circle cx="635.29" cy="67.15" r="0.65" fill="#2b8a3e" fill-opacity="0.65"/>
<circle cx="635.34" cy="64.41" r="0.65" fill="#2b8a3e" fill-opacity="0.65"/>
<circle cx="635.26" cy="68.65" r="0.65" fill="#2b8a3e" fill-opacity="0.65"/>
<circle cx="635.16" cy="70.19" r="0.65" fill="#2b8a3e" fill-opacity="0.65"/>
<circle cx="634.89" cy="59.17" r="0.65" fill="#2b8a3e" fill-opacity="0.65"/>
<circle cx="634.64" cy="72.37" r="0.65" fill="#2b8a3e" fill-opacity="0.65"/>
<circle cx="635.26" cy="73.23" r="0.65" fill="#2b8a3e" fill-opacity="0.65"/>
<circle cx="636.35" cy="68.50" r="0.65" fill="#e5592a" fill-opacity="0.65"/>
<circle cx="636.77" cy="68.24" r="0.65" fill="#e5592a" fill-opacity="0.65"/>
<circle cx="636.78" cy="66.24" r="0.65" fill="#e5592a" fill-opacity="0.65"/>
<circle cx="636.64" cy="69.00" r="0.65" fill="#e5592a" fill-opacity="0.65"/>
<circle cx="636.29" cy="73.15" r="0.65" fill="#e5592a" fill-opacity="0.65"/>
<circle cx="636.91" cy="58.30" r="0.65" fill="#e5592a" fill-opacity="0.65"/>
<circle cx="636.92" cy="73.83" r="0.65" fill="#e5592a" fill-opacity="0.65"/>
<circle cx="636.65" cy="57.78" r="0.65" fill="#e5592a" fill-opacity="0.65"/>
<circle cx="636.86" cy="59.23" r="0.65" fill="#e5592a" fill-opacity="0.65"/>
<circle cx="636.92" cy="68.68" r="0.65" fill="#e5592a" fill-opacity="0.65"/>
<circle cx="636.10" cy="59.93" r="0.65" fill="#e5592a" fill-opacity="0.65"/>
<circle cx="636.62" cy="66.96" r="0.65" fill="#e5592a" fill-opacity="0.65"/>
<circle cx="636.72" cy="73.23" r="0.65" fill="#e5592a" fill-opacity="0.65"/>
<circle cx="636.25" cy="57.06" r="0.65" fill="#e5592a" fill-opacity="0.65"/>
<circle cx="636.88" cy="57.23" r="0.65" fill="#e5592a" fill-opacity="0.65"/>
<circle cx="636.84" cy="59.03" r="0.65" fill="#e5592a" fill-opacity="0.65"/>
<circle cx="636.78" cy="70.70" r="0.65" fill="#e5592a" fill-opacity="0.65"/>
<circle cx="636.84" cy="66.64" r="0.65" fill="#e5592a" fill-opacity="0.65"/>
<circle cx="636.84" cy="60.53" r="0.65" fill="#e5592a" fill-opacity="0.65"/>
<circle cx="636.65" cy="62.79" r="0.65" fill="#e5592a" fill-opacity="0.65"/>
<circle cx="636.85" cy="70.54" r="0.65" fill="#e5592a" fill-opacity="0.65"/>
<circle cx="636.47" cy="66.21" r="0.65" fill="#e5592a" fill-opacity="0.65"/>
<circle cx="636.07" cy="57.60" r="0.65" fill="#e5592a" fill-opacity="0.65"/>
<circle cx="636.59" cy="65.55" r="0.65" fill="#e5592a" fill-opacity="0.65"/>
<circle cx="636.83" cy="67.64" r="0.65" fill="#e5592a" fill-opacity="0.65"/>
<circle cx="636.90" cy="51.00" r="0.6" fill="#e5592a" fill-opacity="0.75"/>
<circle cx="642.47" cy="63.73" r="0.65" fill="#2b8a3e" fill-opacity="0.65"/>
<circle cx="643.04" cy="66.44" r="0.65" fill="#2b8a3e" fill-opacity="0.65"/>
<circle cx="642.36" cy="71.76" r="0.65" fill="#2b8a3e" fill-opacity="0.65"/>
<circle cx="643.09" cy="59.04" r="0.65" fill="#2b8a3e" fill-opacity="0.65"/>
<circle cx="642.84" cy="64.04" r="0.65" fill="#2b8a3e" fill-opacity="0.65"/>
<circle cx="643.06" cy="62.86" r="0.65" fill="#2b8a3e" fill-opacity="0.65"/>
<circle cx="642.56" cy="65.82" r="0.65" fill="#2b8a3e" fill-opacity="0.65"/>
<circle cx="643.22" cy="59.21" r="0.65" fill="#2b8a3e" fill-opacity="0.65"/>
<circle cx="642.45" cy="68.09" r="0.65" fill="#2b8a3e" fill-opacity="0.65"/>
<circle cx="643.15" cy="66.26" r="0.65" fill="#2b8a3e" fill-opacity="0.65"/>
<circle cx="642.74" cy="72.10" r="0.65" fill="#2b8a3e" fill-opacity="0.65"/>
<circle cx="643.05" cy="58.73" r="0.65" fill="#2b8a3e" fill-opacity="0.65"/>
<circle cx="643.14" cy="60.91" r="0.65" fill="#2b8a3e" fill-opacity="0.65"/>
<circle cx="642.62" cy="71.74" r="0.65" fill="#2b8a3e" fill-opacity="0.65"/>
<circle cx="642.73" cy="71.09" r="0.65" fill="#2b8a3e" fill-opacity="0.65"/>
<circle cx="642.50" cy="72.38" r="0.65" fill="#2b8a3e" fill-opacity="0.65"/>
<circle cx="642.51" cy="60.12" r="0.65" fill="#2b8a3e" fill-opacity="0.65"/>
<circle cx="642.79" cy="63.32" r="0.65" fill="#2b8a3e" fill-opacity="0.65"/>
<circle cx="642.84" cy="72.88" r="0.65" fill="#2b8a3e" fill-opacity="0.65"/>
<circle cx="642.99" cy="57.69" r="0.65" fill="#2b8a3e" fill-opacity="0.65"/>
<circle cx="642.63" cy="66.81" r="0.65" fill="#2b8a3e" fill-opacity="0.65"/>
<circle cx="642.79" cy="69.69" r="0.65" fill="#2b8a3e" fill-opacity="0.65"/>
<circle cx="642.79" cy="58.88" r="0.65" fill="#2b8a3e" fill-opacity="0.65"/>
<circle cx="642.57" cy="71.92" r="0.65" fill="#2b8a3e" fill-opacity="0.65"/>
<circle cx="642.67" cy="70.56" r="0.65" fill="#2b8a3e" fill-opacity="0.65"/>
<circle cx="644.84" cy="67.97" r="0.65" fill="#e5592a" fill-opacity="0.65"/>
<circle cx="644.56" cy="67.67" r="0.65" fill="#e5592a" fill-opacity="0.65"/>
<circle cx="644.23" cy="72.97" r="0.65" fill="#e5592a" fill-opacity="0.65"/>
<circle cx="644.37" cy="72.95" r="0.65" fill="#e5592a" fill-opacity="0.65"/>
<circle cx="644.23" cy="72.18" r="0.65" fill="#e5592a" fill-opacity="0.65"/>
<circle cx="644.66" cy="67.73" r="0.65" fill="#e5592a" fill-opacity="0.65"/>
<circle cx="644.35" cy="59.46" r="0.65" fill="#e5592a" fill-opacity="0.65"/>
<circle cx="644.64" cy="63.34" r="0.65" fill="#e5592a" fill-opacity="0.65"/>
<circle cx="644.55" cy="59.33" r="0.65" fill="#e5592a" fill-opacity="0.65"/>
<circle cx="644.02" cy="59.52" r="0.65" fill="#e5592a" fill-opacity="0.65"/>
<circle cx="644.68" cy="60.11" r="0.65" fill="#e5592a" fill-opacity="0.65"/>
<circle cx="644.76" cy="63.51" r="0.65" fill="#e5592a" fill-opacity="0.65"/>
<circle cx="644.47" cy="63.13" r="0.65" fill="#e5592a" fill-opacity="0.65"/>
<circle cx="644.51" cy="58.64" r="0.65" fill="#e5592a" fill-opacity="0.65"/>
<circle cx="644.31" cy="73.38" r="0.65" fill="#e5592a" fill-opacity="0.65"/>
<circle cx="644.11" cy="68.45" r="0.65" fill="#e5592a" fill-opacity="0.65"/>
<circle cx="644.24" cy="62.26" r="0.65" fill="#e5592a" fill-opacity="0.65"/>
<circle cx="643.97" cy="57.35" r="0.65" fill="#e5592a" fill-opacity="0.65"/>
<circle cx="644.80" cy="71.52" r="0.65" fill="#e5592a" fill-opacity="0.65"/>
<circle cx="644.67" cy="71.13" r="0.65" fill="#e5592a" fill-opacity="0.65"/>
<circle cx="644.81" cy="59.77" r="0.65" fill="#e5592a" fill-opacity="0.65"/>
<circle cx="644.48" cy="65.67" r="0.65" fill="#e5592a" fill-opacity="0.65"/>
<circle cx="644.47" cy="73.41" r="0.65" fill="#e5592a" fill-opacity="0.65"/>
<circle cx="644.63" cy="73.95" r="0.65" fill="#e5592a" fill-opacity="0.65"/>
<circle cx="644.06" cy="68.40" r="0.65" fill="#e5592a" fill-opacity="0.65"/>
<circle cx="644.80" cy="51.00" r="0.6" fill="#e5592a" fill-opacity="0.75"/>
<circle cx="651.16" cy="70.19" r="0.65" fill="#2b8a3e" fill-opacity="0.65"/>
<circle cx="651.11" cy="71.65" r="0.65" fill="#2b8a3e" fill-opacity="0.65"/>
<circle cx="650.82" cy="73.28" r="0.65" fill="#2b8a3e" fill-opacity="0.65"/>
<circle cx="650.92" cy="67.72" r="0.65" fill="#2b8a3e" fill-opacity="0.65"/>
<circle cx="651.36" cy="69.49" r="0.65" fill="#2b8a3e" fill-opacity="0.65"/>
<circle cx="650.83" cy="61.49" r="0.65" fill="#2b8a3e" fill-opacity="0.65"/>
<circle cx="650.84" cy="68.19" r="0.65" fill="#2b8a3e" fill-opacity="0.65"/>
<circle cx="651.45" cy="72.79" r="0.65" fill="#2b8a3e" fill-opacity="0.65"/>
<circle cx="650.91" cy="64.37" r="0.65" fill="#2b8a3e" fill-opacity="0.65"/>
<circle cx="651.29" cy="62.40" r="0.65" fill="#2b8a3e" fill-opacity="0.65"/>
<circle cx="650.92" cy="57.82" r="0.65" fill="#2b8a3e" fill-opacity="0.65"/>
<circle cx="650.72" cy="66.73" r="0.65" fill="#2b8a3e" fill-opacity="0.65"/>
<circle cx="651.17" cy="67.99" r="0.65" fill="#2b8a3e" fill-opacity="0.65"/>
<circle cx="650.88" cy="73.67" r="0.65" fill="#2b8a3e" fill-opacity="0.65"/>
<circle cx="651.11" cy="60.24" r="0.65" fill="#2b8a3e" fill-opacity="0.65"/>
<circle cx="650.61" cy="74.06" r="0.65" fill="#2b8a3e" fill-opacity="0.65"/>
<circle cx="651.44" cy="73.15" r="0.65" fill="#2b8a3e" fill-opacity="0.65"/>
<circle cx="651.09" cy="62.88" r="0.65" fill="#2b8a3e" fill-opacity="0.65"/>
<circle cx="650.63" cy="61.96" r="0.65" fill="#2b8a3e" fill-opacity="0.65"/>
<circle cx="650.75" cy="73.29" r="0.65" fill="#2b8a3e" fill-opacity="0.65"/>
<circle cx="651.35" cy="70.75" r="0.65" fill="#2b8a3e" fill-opacity="0.65"/>
<circle cx="650.68" cy="61.63" r="0.65" fill="#2b8a3e" fill-opacity="0.65"/>
<circle cx="650.82" cy="73.62" r="0.65" fill="#2b8a3e" fill-opacity="0.65"/>
<circle cx="650.70" cy="70.96" r="0.65" fill="#2b8a3e" fill-opacity="0.65"/>
<circle cx="651.16" cy="66.85" r="0.65" fill="#2b8a3e" fill-opacity="0.65"/>
<circle cx="653.01" cy="61.59" r="0.65" fill="#e5592a" fill-opacity="0.65"/>
<circle cx="652.62" cy="59.76" r="0.65" fill="#e5592a" fill-opacity="0.65"/>
<circle cx="652.24" cy="57.56" r="0.65" fill="#e5592a" fill-opacity="0.65"/>
<circle cx="652.43" cy="59.13" r="0.65" fill="#e5592a" fill-opacity="0.65"/>
<circle cx="652.21" cy="74.37" r="0.65" fill="#e5592a" fill-opacity="0.65"/>
<circle cx="652.41" cy="72.58" r="0.65" fill="#e5592a" fill-opacity="0.65"/>
<circle cx="652.78" cy="69.80" r="0.65" fill="#e5592a" fill-opacity="0.65"/>
<circle cx="652.74" cy="73.67" r="0.65" fill="#e5592a" fill-opacity="0.65"/>
<circle cx="652.94" cy="69.59" r="0.65" fill="#e5592a" fill-opacity="0.65"/>
<circle cx="652.65" cy="69.14" r="0.65" fill="#e5592a" fill-opacity="0.65"/>
<circle cx="652.80" cy="66.67" r="0.65" fill="#e5592a" fill-opacity="0.65"/>
<circle cx="652.60" cy="59.70" r="0.65" fill="#e5592a" fill-opacity="0.65"/>
<circle cx="652.91" cy="65.47" r="0.65" fill="#e5592a" fill-opacity="0.65"/>
<circle cx="652.21" cy="59.94" r="0.65" fill="#e5592a" fill-opacity="0.65"/>
<circle cx="652.94" cy="61.48" r="0.65" fill="#e5592a" fill-opacity="0.65"/>
<circle cx="652.50" cy="68.94" r="0.65" fill="#e5592a" fill-opacity="0.65"/>
<circle cx="652.93" cy="62.75" r="0.65" fill="#e5592a" fill-opacity="0.65"/>
<circle cx="652.50" cy="64.40" r="0.65" fill="#e5592a" fill-opacity="0.65"/>
<circle cx="652.18" cy="72.34" r="0.65" fill="#e5592a" fill-opacity="0.65"/>
<circle cx="652.17" cy="73.80" r="0.65" fill="#e5592a" fill-opacity="0.65"/>
<circle cx="652.29" cy="59.74" r="0.65" fill="#e5592a" fill-opacity="0.65"/>
<circle cx="652.91" cy="71.41" r="0.65" fill="#e5592a" fill-opacity="0.65"/>
<circle cx="652.36" cy="66.69" r="0.65" fill="#e5592a" fill-opacity="0.65"/>
<circle cx="652.58" cy="69.57" r="0.65" fill="#e5592a" fill-opacity="0.65"/>
<circle cx="652.32" cy="71.45" r="0.65" fill="#e5592a" fill-opacity="0.65"/>
<circle cx="653.00" cy="51.00" r="0.6" fill="#e5592a" fill-opacity="0.75"/>
<line x1="623.55" y1="49.00" x2="623.55" y2="75.70" stroke="#6a6a6a" stroke-width="0.8" />
<line x1="623.25" y1="75.40" x2="655.00" y2="75.40" stroke="#6a6a6a" stroke-width="0.8" />
<rect x="71.80" y="175.50" width="50.10" height="38.80" fill="#efefef"/>
<line x1="83.10" y1="180.70" x2="84.40" y2="180.70" stroke="#6a6a6a" stroke-width="0.6" />
<text x="82.60" y="182.90" font-size="6.2" text-anchor="end" fill="#5e5e5e"  >1.2</text>
<line x1="83.10" y1="187.50" x2="84.40" y2="187.50" stroke="#6a6a6a" stroke-width="0.6" />
<text x="82.60" y="189.70" font-size="6.2" text-anchor="end" fill="#5e5e5e"  >0.9</text>
<line x1="83.10" y1="194.30" x2="84.40" y2="194.30" stroke="#6a6a6a" stroke-width="0.6" />
<text x="82.60" y="196.50" font-size="6.2" text-anchor="end" fill="#5e5e5e"  >0.6</text>
<line x1="83.10" y1="201.10" x2="84.40" y2="201.10" stroke="#6a6a6a" stroke-width="0.6" />
<text x="82.60" y="203.30" font-size="6.2" text-anchor="end" fill="#5e5e5e"  >0.3</text>
<line x1="88.45" y1="205.55" x2="88.45" y2="206.85" stroke="#6a6a6a" stroke-width="0.6" />
<text x="88.45" y="212.34" font-size="6.3" text-anchor="middle" fill="#5e5e5e"  >2</text>
<line x1="98.20" y1="205.55" x2="98.20" y2="206.85" stroke="#6a6a6a" stroke-width="0.6" />
<text x="98.20" y="212.34" font-size="6.3" text-anchor="middle" fill="#5e5e5e"  >3</text>
<line x1="107.60" y1="205.55" x2="107.60" y2="206.85" stroke="#6a6a6a" stroke-width="0.6" />
<text x="107.60" y="212.34" font-size="6.3" text-anchor="middle" fill="#5e5e5e"  >4</text>
<line x1="117.20" y1="205.55" x2="117.20" y2="206.85" stroke="#6a6a6a" stroke-width="0.6" />
<text x="117.20" y="212.34" font-size="6.3" text-anchor="middle" fill="#5e5e5e"  >5</text>
<circle cx="87.56" cy="201.50" r="0.65" fill="#2b8a3e" fill-opacity="0.65"/>
<circle cx="87.72" cy="203.36" r="0.65" fill="#2b8a3e" fill-opacity="0.65"/>
<circle cx="87.67" cy="203.18" r="0.65" fill="#2b8a3e" fill-opacity="0.65"/>
<circle cx="87.03" cy="198.93" r="0.65" fill="#2b8a3e" fill-opacity="0.65"/>
<circle cx="87.85" cy="200.64" r="0.65" fill="#2b8a3e" fill-opacity="0.65"/>
<circle cx="87.81" cy="195.65" r="0.65" fill="#2b8a3e" fill-opacity="0.65"/>
<circle cx="87.42" cy="196.89" r="0.65" fill="#2b8a3e" fill-opacity="0.65"/>
<circle cx="87.49" cy="199.94" r="0.65" fill="#2b8a3e" fill-opacity="0.65"/>
<circle cx="87.01" cy="196.62" r="0.65" fill="#2b8a3e" fill-opacity="0.65"/>
<circle cx="87.25" cy="203.12" r="0.65" fill="#2b8a3e" fill-opacity="0.65"/>
<circle cx="87.69" cy="196.08" r="0.65" fill="#2b8a3e" fill-opacity="0.65"/>
<circle cx="87.72" cy="195.89" r="0.65" fill="#2b8a3e" fill-opacity="0.65"/>
<circle cx="87.56" cy="195.78" r="0.65" fill="#2b8a3e" fill-opacity="0.65"/>
<circle cx="87.00" cy="202.70" r="0.65" fill="#2b8a3e" fill-opacity="0.65"/>
<circle cx="87.19" cy="196.60" r="0.65" fill="#2b8a3e" fill-opacity="0.65"/>
<circle cx="87.88" cy="202.71" r="0.65" fill="#2b8a3e" fill-opacity="0.65"/>
<circle cx="87.26" cy="203.54" r="0.65" fill="#2b8a3e" fill-opacity="0.65"/>
<circle cx="87.49" cy="200.90" r="0.65" fill="#2b8a3e" fill-opacity="0.65"/>
<circle cx="87.18" cy="203.35" r="0.65" fill="#2b8a3e" fill-opacity="0.65"/>
<circle cx="87.62" cy="203.59" r="0.65" fill="#2b8a3e" fill-opacity="0.65"/>
<circle cx="87.80" cy="197.38" r="0.65" fill="#2b8a3e" fill-opacity="0.65"/>
<circle cx="87.33" cy="196.14" r="0.65" fill="#2b8a3e" fill-opacity="0.65"/>
<circle cx="87.13" cy="195.21" r="0.65" fill="#2b8a3e" fill-opacity="0.65"/>
<circle cx="87.27" cy="200.21" r="0.65" fill="#2b8a3e" fill-opacity="0.65"/>
<circle cx="87.00" cy="200.90" r="0.65" fill="#2b8a3e" fill-opacity="0.65"/>
<circle cx="89.80" cy="197.25" r="0.65" fill="#e5592a" fill-opacity="0.65"/>
<circle cx="90.24" cy="199.05" r="0.65" fill="#e5592a" fill-opacity="0.65"/>
<circle cx="89.78" cy="199.05" r="0.65" fill="#e5592a" fill-opacity="0.65"/>
<circle cx="90.13" cy="194.60" r="0.65" fill="#e5592a" fill-opacity="0.65"/>
<circle cx="90.38" cy="194.24" r="0.65" fill="#e5592a" fill-opacity="0.65"/>
<circle cx="90.17" cy="202.87" r="0.65" fill="#e5592a" fill-opacity="0.65"/>
<circle cx="89.52" cy="202.27" r="0.65" fill="#e5592a" fill-opacity="0.65"/>
<circle cx="89.83" cy="200.07" r="0.65" fill="#e5592a" fill-opacity="0.65"/>
<circle cx="89.51" cy="194.49" r="0.65" fill="#e5592a" fill-opacity="0.65"/>
<circle cx="89.66" cy="204.03" r="0.65" fill="#e5592a" fill-opacity="0.65"/>
<circle cx="89.68" cy="201.94" r="0.65" fill="#e5592a" fill-opacity="0.65"/>
<circle cx="90.34" cy="203.89" r="0.65" fill="#e5592a" fill-opacity="0.65"/>
<circle cx="89.81" cy="197.73" r="0.65" fill="#e5592a" fill-opacity="0.65"/>
<circle cx="89.97" cy="202.14" r="0.65" fill="#e5592a" fill-opacity="0.65"/>
<circle cx="89.60" cy="201.86" r="0.65" fill="#e5592a" fill-opacity="0.65"/>
<circle cx="90.22" cy="203.03" r="0.65" fill="#e5592a" fill-opacity="0.65"/>
<circle cx="89.53" cy="203.93" r="0.65" fill="#e5592a" fill-opacity="0.65"/>
<circle cx="89.58" cy="197.58" r="0.65" fill="#e5592a" fill-opacity="0.65"/>
<circle cx="90.05" cy="203.64" r="0.65" fill="#e5592a" fill-opacity="0.65"/>
<circle cx="89.81" cy="203.70" r="0.65" fill="#e5592a" fill-opacity="0.65"/>
<circle cx="89.99" cy="197.28" r="0.65" fill="#e5592a" fill-opacity="0.65"/>
<circle cx="89.79" cy="195.86" r="0.65" fill="#e5592a" fill-opacity="0.65"/>
<circle cx="89.57" cy="195.56" r="0.65" fill="#e5592a" fill-opacity="0.65"/>
<circle cx="90.12" cy="204.47" r="0.65" fill="#e5592a" fill-opacity="0.65"/>
<circle cx="89.65" cy="194.51" r="0.65" fill="#e5592a" fill-opacity="0.65"/>
<circle cx="87.45" cy="184.50" r="0.6" fill="#2b8a3e" fill-opacity="0.75"/>
<circle cx="97.64" cy="199.56" r="0.65" fill="#2b8a3e" fill-opacity="0.65"/>
<circle cx="97.12" cy="196.81" r="0.65" fill="#2b8a3e" fill-opacity="0.65"/>
<circle cx="97.28" cy="202.28" r="0.65" fill="#2b8a3e" fill-opacity="0.65"/>
<circle cx="97.16" cy="198.52" r="0.65" fill="#2b8a3e" fill-opacity="0.65"/>
<circle cx="96.80" cy="203.12" r="0.65" fill="#2b8a3e" fill-opacity="0.65"/>
<circle cx="96.78" cy="199.19" r="0.65" fill="#2b8a3e" fill-opacity="0.65"/>
<circle cx="97.50" cy="195.81" r="0.65" fill="#2b8a3e" fill-opacity="0.65"/>
<circle cx="97.41" cy="203.43" r="0.65" fill="#2b8a3e" fill-opacity="0.65"/>
<circle cx="97.32" cy="201.93" r="0.65" fill="#2b8a3e" fill-opacity="0.65"/>
<circle cx="96.85" cy="198.64" r="0.65" fill="#2b8a3e" fill-opacity="0.65"/>
<circle cx="96.88" cy="202.46" r="0.65" fill="#2b8a3e" fill-opacity="0.65"/>
<circle cx="97.02" cy="198.81" r="0.65" fill="#2b8a3e" fill-opacity="0.65"/>
<circle cx="97.65" cy="202.53" r="0.65" fill="#2b8a3e" fill-opacity="0.65"/>
<circle cx="97.63" cy="198.82" r="0.65" fill="#2b8a3e" fill-opacity="0.65"/>
<circle cx="97.19" cy="201.38" r="0.65" fill="#2b8a3e" fill-opacity="0.65"/>
<circle cx="97.18" cy="197.31" r="0.65" fill="#2b8a3e" fill-opacity="0.65"/>
<circle cx="97.11" cy="195.96" r="0.65" fill="#2b8a3e" fill-opacity="0.65"/>
<circle cx="97.09" cy="203.79" r="0.65" fill="#2b8a3e" fill-opacity="0.65"/>
<circle cx="97.61" cy="200.43" r="0.65" fill="#2b8a3e" fill-opacity="0.65"/>
<circle cx="97.20" cy="197.75" r="0.65" fill="#2b8a3e" fill-opacity="0.65"/>
<circle cx="96.83" cy="197.13" r="0.65" fill="#2b8a3e" fill-opacity="0.65"/>
<circle cx="97.45" cy="202.67" r="0.65" fill="#2b8a3e" fill-opacity="0.65"/>
<circle cx="97.08" cy="201.91" r="0.65" fill="#2b8a3e" fill-opacity="0.65"/>
<circle cx="97.45" cy="201.06" r="0.65" fill="#2b8a3e" fill-opacity="0.65"/>
<circle cx="97.35" cy="201.66" r="0.65" fill="#2b8a3e" fill-opacity="0.65"/>
<circle cx="99.58" cy="201.40" r="0.65" fill="#e5592a" fill-opacity="0.65"/>
<circle cx="99.50" cy="199.10" r="0.65" fill="#e5592a" fill-opacity="0.65"/>
<circle cx="99.94" cy="201.25" r="0.65" fill="#e5592a" fill-opacity="0.65"/>
<circle cx="99.51" cy="203.93" r="0.65" fill="#e5592a" fill-opacity="0.65"/>
<circle cx="99.83" cy="200.10" r="0.65" fill="#e5592a" fill-opacity="0.65"/>
<circle cx="99.26" cy="199.74" r="0.65" fill="#e5592a" fill-opacity="0.65"/>
<circle cx="99.48" cy="201.05" r="0.65" fill="#e5592a" fill-opacity="0.65"/>
<circle cx="99.67" cy="202.58" r="0.65" fill="#e5592a" fill-opacity="0.65"/>
<circle cx="99.83" cy="202.38" r="0.65" fill="#e5592a" fill-opacity="0.65"/>
<circle cx="99.56" cy="200.76" r="0.65" fill="#e5592a" fill-opacity="0.65"/>
<circle cx="99.91" cy="202.70" r="0.65" fill="#e5592a" fill-opacity="0.65"/>
<circle cx="99.57" cy="202.85" r="0.65" fill="#e5592a" fill-opacity="0.65"/>
<circle cx="100.03" cy="201.23" r="0.65" fill="#e5592a" fill-opacity="0.65"/>
<circle cx="100.13" cy="204.04" r="0.65" fill="#e5592a" fill-opacity="0.65"/>
<circle cx="99.72" cy="199.56" r="0.65" fill="#e5592a" fill-opacity="0.65"/>
<circle cx="99.40" cy="202.78" r="0.65" fill="#e5592a" fill-opacity="0.65"/>
<circle cx="100.09" cy="199.01" r="0.65" fill="#e5592a" fill-opacity="0.65"/>
<circle cx="99.87" cy="201.56" r="0.65" fill="#e5592a" fill-opacity="0.65"/>
<circle cx="99.91" cy="195.80" r="0.65" fill="#e5592a" fill-opacity="0.65"/>
<circle cx="99.95" cy="200.10" r="0.65" fill="#e5592a" fill-opacity="0.65"/>
<circle cx="99.85" cy="198.42" r="0.65" fill="#e5592a" fill-opacity="0.65"/>
<circle cx="99.81" cy="202.13" r="0.65" fill="#e5592a" fill-opacity="0.65"/>
<circle cx="99.82" cy="201.56" r="0.65" fill="#e5592a" fill-opacity="0.65"/>
<circle cx="99.27" cy="195.68" r="0.65" fill="#e5592a" fill-opacity="0.65"/>
<circle cx="99.65" cy="200.83" r="0.65" fill="#e5592a" fill-opacity="0.65"/>
<circle cx="97.20" cy="183.80" r="0.6" fill="#2b8a3e" fill-opacity="0.75"/>
<circle cx="106.35" cy="200.98" r="0.65" fill="#2b8a3e" fill-opacity="0.65"/>
<circle cx="106.72" cy="194.99" r="0.65" fill="#2b8a3e" fill-opacity="0.65"/>
<circle cx="106.57" cy="196.70" r="0.65" fill="#2b8a3e" fill-opacity="0.65"/>
<circle cx="106.20" cy="195.84" r="0.65" fill="#2b8a3e" fill-opacity="0.65"/>
<circle cx="106.44" cy="196.29" r="0.65" fill="#2b8a3e" fill-opacity="0.65"/>
<circle cx="106.32" cy="194.93" r="0.65" fill="#2b8a3e" fill-opacity="0.65"/>
<circle cx="106.57" cy="198.14" r="0.65" fill="#2b8a3e" fill-opacity="0.65"/>
<circle cx="106.70" cy="200.09" r="0.65" fill="#2b8a3e" fill-opacity="0.65"/>
<circle cx="106.36" cy="203.00" r="0.65" fill="#2b8a3e" fill-opacity="0.65"/>
<circle cx="106.15" cy="198.37" r="0.65" fill="#2b8a3e" fill-opacity="0.65"/>
<circle cx="106.40" cy="198.41" r="0.65" fill="#2b8a3e" fill-opacity="0.65"/>
<circle cx="106.25" cy="202.33" r="0.65" fill="#2b8a3e" fill-opacity="0.65"/>
<circle cx="106.49" cy="194.94" r="0.65" fill="#2b8a3e" fill-opacity="0.65"/>
<circle cx="106.70" cy="195.48" r="0.65" fill="#2b8a3e" fill-opacity="0.65"/>
<circle cx="106.64" cy="197.76" r="0.65" fill="#2b8a3e" fill-opacity="0.65"/>
<circle cx="106.67" cy="203.51" r="0.65" fill="#2b8a3e" fill-opacity="0.65"/>
<circle cx="106.89" cy="198.50" r="0.65" fill="#2b8a3e" fill-opacity="0.65"/>
<circle cx="106.88" cy="200.57" r="0.65" fill="#2b8a3e" fill-opacity="0.65"/>
<circle cx="106.48" cy="195.92" r="0.65" fill="#2b8a3e" fill-opacity="0.65"/>
<circle cx="106.69" cy="199.84" r="0.65" fill="#2b8a3e" fill-opacity="0.65"/>
<circle cx="107.01" cy="203.60" r="0.65" fill="#2b8a3e" fill-opacity="0.65"/>
<circle cx="106.70" cy="197.87" r="0.65" fill="#2b8a3e" fill-opacity="0.65"/>
<circle cx="106.95" cy="194.61" r="0.65" fill="#2b8a3e" fill-opacity="0.65"/>
<circle cx="106.25" cy="199.86" r="0.65" fill="#2b8a3e" fill-opacity="0.65"/>
<circle cx="106.70" cy="195.91" r="0.65" fill="#2b8a3e" fill-opacity="0.65"/>
<circle cx="109.22" cy="203.36" r="0.65" fill="#e5592a" fill-opacity="0.65"/>
<circle cx="108.99" cy="198.53" r="0.65" fill="#e5592a" fill-opacity="0.65"/>
<circle cx="108.85" cy="197.06" r="0.65" fill="#e5592a" fill-opacity="0.65"/>
<circle cx="109.53" cy="197.99" r="0.65" fill="#e5592a" fill-opacity="0.65"/>
<circle cx="109.52" cy="203.59" r="0.65" fill="#e5592a" fill-opacity="0.65"/>
<circle cx="109.19" cy="196.73" r="0.65" fill="#e5592a" fill-opacity="0.65"/>
<circle cx="109.53" cy="199.21" r="0.65" fill="#e5592a" fill-opacity="0.65"/>
<circle cx="109.02" cy="197.35" r="0.65" fill="#e5592a" fill-opacity="0.65"/>
<circle cx="109.54" cy="199.16" r="0.65" fill="#e5592a" fill-opacity="0.65"/>
<circle cx="108.91" cy="199.01" r="0.65" fill="#e5592a" fill-opacity="0.65"/>
<circle cx="108.76" cy="200.53" r="0.65" fill="#e5592a" fill-opacity="0.65"/>
<circle cx="109.05" cy="197.08" r="0.65" fill="#e5592a" fill-opacity="0.65"/>
<circle cx="109.35" cy="202.68" r="0.65" fill="#e5592a" fill-opacity="0.65"/>
<circle cx="108.66" cy="199.59" r="0.65" fill="#e5592a" fill-opacity="0.65"/>
<circle cx="108.90" cy="203.82" r="0.65" fill="#e5592a" fill-opacity="0.65"/>
<circle cx="109.35" cy="196.58" r="0.65" fill="#e5592a" fill-opacity="0.65"/>
<circle cx="108.89" cy="195.63" r="0.65" fill="#e5592a" fill-opacity="0.65"/>
<circle cx="109.54" cy="197.08" r="0.65" fill="#e5592a" fill-opacity="0.65"/>
<circle cx="109.20" cy="198.98" r="0.65" fill="#e5592a" fill-opacity="0.65"/>
<circle cx="109.23" cy="200.34" r="0.65" fill="#e5592a" fill-opacity="0.65"/>
<circle cx="109.32" cy="195.24" r="0.65" fill="#e5592a" fill-opacity="0.65"/>
<circle cx="109.33" cy="197.16" r="0.65" fill="#e5592a" fill-opacity="0.65"/>
<circle cx="109.13" cy="197.53" r="0.65" fill="#e5592a" fill-opacity="0.65"/>
<circle cx="108.92" cy="199.56" r="0.65" fill="#e5592a" fill-opacity="0.65"/>
<circle cx="109.07" cy="197.79" r="0.65" fill="#e5592a" fill-opacity="0.65"/>
<circle cx="106.60" cy="184.20" r="0.6" fill="#2b8a3e" fill-opacity="0.75"/>
<circle cx="116.42" cy="200.09" r="0.65" fill="#2b8a3e" fill-opacity="0.65"/>
<circle cx="115.78" cy="196.95" r="0.65" fill="#2b8a3e" fill-opacity="0.65"/>
<circle cx="116.16" cy="203.12" r="0.65" fill="#2b8a3e" fill-opacity="0.65"/>
<circle cx="116.55" cy="199.67" r="0.65" fill="#2b8a3e" fill-opacity="0.65"/>
<circle cx="115.76" cy="201.84" r="0.65" fill="#2b8a3e" fill-opacity="0.65"/>
<circle cx="116.13" cy="199.95" r="0.65" fill="#2b8a3e" fill-opacity="0.65"/>
<circle cx="116.39" cy="200.48" r="0.65" fill="#2b8a3e" fill-opacity="0.65"/>
<circle cx="116.18" cy="203.08" r="0.65" fill="#2b8a3e" fill-opacity="0.65"/>
<circle cx="116.10" cy="198.24" r="0.65" fill="#2b8a3e" fill-opacity="0.65"/>
<circle cx="116.52" cy="196.43" r="0.65" fill="#2b8a3e" fill-opacity="0.65"/>
<circle cx="116.02" cy="202.32" r="0.65" fill="#2b8a3e" fill-opacity="0.65"/>
<circle cx="115.81" cy="202.38" r="0.65" fill="#2b8a3e" fill-opacity="0.65"/>
<circle cx="116.38" cy="198.63" r="0.65" fill="#2b8a3e" fill-opacity="0.65"/>
<circle cx="116.01" cy="201.86" r="0.65" fill="#2b8a3e" fill-opacity="0.65"/>
<circle cx="116.57" cy="195.93" r="0.65" fill="#2b8a3e" fill-opacity="0.65"/>
<circle cx="116.18" cy="199.71" r="0.65" fill="#2b8a3e" fill-opacity="0.65"/>
<circle cx="116.20" cy="197.68" r="0.65" fill="#2b8a3e" fill-opacity="0.65"/>
<circle cx="115.89" cy="200.05" r="0.65" fill="#2b8a3e" fill-opacity="0.65"/>
<circle cx="116.48" cy="195.24" r="0.65" fill="#2b8a3e" fill-opacity="0.65"/>
<circle cx="115.96" cy="202.22" r="0.65" fill="#2b8a3e" fill-opacity="0.65"/>
<circle cx="116.46" cy="200.77" r="0.65" fill="#2b8a3e" fill-opacity="0.65"/>
<circle cx="115.77" cy="201.32" r="0.65" fill="#2b8a3e" fill-opacity="0.65"/>
<circle cx="116.63" cy="203.88" r="0.65" fill="#2b8a3e" fill-opacity="0.65"/>
<circle cx="116.38" cy="195.05" r="0.65" fill="#2b8a3e" fill-opacity="0.65"/>
<circle cx="116.51" cy="196.64" r="0.65" fill="#2b8a3e" fill-opacity="0.65"/>
<circle cx="118.83" cy="204.00" r="0.65" fill="#e5592a" fill-opacity="0.65"/>
<circle cx="118.89" cy="195.41" r="0.65" fill="#e5592a" fill-opacity="0.65"/>
<circle cx="118.51" cy="203.64" r="0.65" fill="#e5592a" fill-opacity="0.65"/>
<circle cx="118.38" cy="200.41" r="0.65" fill="#e5592a" fill-opacity="0.65"/>
<circle cx="118.62" cy="195.69" r="0.65" fill="#e5592a" fill-opacity="0.65"/>
<circle cx="118.81" cy="194.46" r="0.65" fill="#e5592a" fill-opacity="0.65"/>
<circle cx="118.35" cy="197.98" r="0.65" fill="#e5592a" fill-opacity="0.65"/>
<circle cx="118.31" cy="194.60" r="0.65" fill="#e5592a" fill-opacity="0.65"/>
<circle cx="118.77" cy="201.79" r="0.65" fill="#e5592a" fill-opacity="0.65"/>
<circle cx="119.04" cy="195.41" r="0.65" fill="#e5592a" fill-opacity="0.65"/>
<circle cx="118.64" cy="197.30" r="0.65" fill="#e5592a" fill-opacity="0.65"/>
<circle cx="118.79" cy="199.14" r="0.65" fill="#e5592a" fill-opacity="0.65"/>
<circle cx="119.09" cy="197.93" r="0.65" fill="#e5592a" fill-opacity="0.65"/>
<circle cx="118.30" cy="201.32" r="0.65" fill="#e5592a" fill-opacity="0.65"/>
<circle cx="118.39" cy="200.63" r="0.65" fill="#e5592a" fill-opacity="0.65"/>
<circle cx="118.71" cy="203.56" r="0.65" fill="#e5592a" fill-opacity="0.65"/>
<circle cx="118.75" cy="200.52" r="0.65" fill="#e5592a" fill-opacity="0.65"/>
<circle cx="118.49" cy="199.79" r="0.65" fill="#e5592a" fill-opacity="0.65"/>
<circle cx="118.48" cy="201.88" r="0.65" fill="#e5592a" fill-opacity="0.65"/>
<circle cx="118.72" cy="195.40" r="0.65" fill="#e5592a" fill-opacity="0.65"/>
<circle cx="118.46" cy="197.90" r="0.65" fill="#e5592a" fill-opacity="0.65"/>
<circle cx="118.91" cy="195.88" r="0.65" fill="#e5592a" fill-opacity="0.65"/>
<circle cx="118.89" cy="200.88" r="0.65" fill="#e5592a" fill-opacity="0.65"/>
<circle cx="118.33" cy="201.01" r="0.65" fill="#e5592a" fill-opacity="0.65"/>
<circle cx="118.33" cy="195.31" r="0.65" fill="#e5592a" fill-opacity="0.65"/>
<circle cx="116.20" cy="181.30" r="0.6" fill="#2b8a3e" fill-opacity="0.75"/>
<circle cx="115.60" cy="192.30" r="0.6" fill="#2b8a3e" fill-opacity="0.75"/>
<line x1="84.40" y1="179.00" x2="84.40" y2="205.85" stroke="#6a6a6a" stroke-width="0.8" />
<line x1="84.10" y1="205.55" x2="120.80" y2="205.55" stroke="#6a6a6a" stroke-width="0.8" />
<rect x="249.80" y="176.40" width="50.20" height="38.50" fill="#efefef"/>
<line x1="257.75" y1="182.55" x2="259.05" y2="182.55" stroke="#6a6a6a" stroke-width="0.6" />
<text x="257.25" y="184.75" font-size="6.2" text-anchor="end" fill="#5e5e5e"  >20</text>
<line x1="257.75" y1="191.30" x2="259.05" y2="191.30" stroke="#6a6a6a" stroke-width="0.6" />
<text x="257.25" y="193.50" font-size="6.2" text-anchor="end" fill="#5e5e5e"  >15</text>
<line x1="257.75" y1="200.00" x2="259.05" y2="200.00" stroke="#6a6a6a" stroke-width="0.6" />
<text x="257.25" y="202.20" font-size="6.2" text-anchor="end" fill="#5e5e5e"  >10</text>
<line x1="263.60" y1="206.30" x2="263.60" y2="207.60" stroke="#6a6a6a" stroke-width="0.6" />
<text x="263.60" y="212.99" font-size="6.3" text-anchor="middle" fill="#5e5e5e"  >2</text>
<line x1="273.70" y1="206.30" x2="273.70" y2="207.60" stroke="#6a6a6a" stroke-width="0.6" />
<text x="273.70" y="212.99" font-size="6.3" text-anchor="middle" fill="#5e5e5e"  >3</text>
<line x1="284.00" y1="206.30" x2="284.00" y2="207.60" stroke="#6a6a6a" stroke-width="0.6" />
<text x="284.00" y="212.99" font-size="6.3" text-anchor="middle" fill="#5e5e5e"  >4</text>
<line x1="294.30" y1="206.30" x2="294.30" y2="207.60" stroke="#6a6a6a" stroke-width="0.6" />
<text x="294.30" y="212.99" font-size="6.3" text-anchor="middle" fill="#5e5e5e"  >5</text>
<circle cx="262.86" cy="200.17" r="0.65" fill="#2b8a3e" fill-opacity="0.65"/>
<circle cx="262.59" cy="187.17" r="0.65" fill="#2b8a3e" fill-opacity="0.65"/>
<circle cx="262.15" cy="196.48" r="0.65" fill="#2b8a3e" fill-opacity="0.65"/>
<circle cx="262.57" cy="198.73" r="0.65" fill="#2b8a3e" fill-opacity="0.65"/>
<circle cx="262.49" cy="198.97" r="0.65" fill="#2b8a3e" fill-opacity="0.65"/>
<circle cx="262.40" cy="199.70" r="0.65" fill="#2b8a3e" fill-opacity="0.65"/>
<circle cx="262.81" cy="190.70" r="0.65" fill="#2b8a3e" fill-opacity="0.65"/>
<circle cx="262.63" cy="196.92" r="0.65" fill="#2b8a3e" fill-opacity="0.65"/>
<circle cx="262.32" cy="193.94" r="0.65" fill="#2b8a3e" fill-opacity="0.65"/>
<circle cx="262.87" cy="187.26" r="0.65" fill="#2b8a3e" fill-opacity="0.65"/>
<circle cx="262.87" cy="197.01" r="0.65" fill="#2b8a3e" fill-opacity="0.65"/>
<circle cx="262.91" cy="188.89" r="0.65" fill="#2b8a3e" fill-opacity="0.65"/>
<circle cx="262.23" cy="199.67" r="0.65" fill="#2b8a3e" fill-opacity="0.65"/>
<circle cx="262.87" cy="191.43" r="0.65" fill="#2b8a3e" fill-opacity="0.65"/>
<circle cx="262.23" cy="185.67" r="0.65" fill="#2b8a3e" fill-opacity="0.65"/>
<circle cx="262.72" cy="187.86" r="0.65" fill="#2b8a3e" fill-opacity="0.65"/>
<circle cx="263.01" cy="194.75" r="0.65" fill="#2b8a3e" fill-opacity="0.65"/>
<circle cx="262.33" cy="196.31" r="0.65" fill="#2b8a3e" fill-opacity="0.65"/>
<circle cx="262.47" cy="202.74" r="0.65" fill="#2b8a3e" fill-opacity="0.65"/>
<circle cx="262.97" cy="193.04" r="0.65" fill="#2b8a3e" fill-opacity="0.65"/>
<circle cx="262.73" cy="197.29" r="0.65" fill="#2b8a3e" fill-opacity="0.65"/>
<circle cx="262.87" cy="203.75" r="0.65" fill="#2b8a3e" fill-opacity="0.65"/>
<circle cx="262.18" cy="189.48" r="0.65" fill="#2b8a3e" fill-opacity="0.65"/>
<circle cx="262.69" cy="188.16" r="0.65" fill="#2b8a3e" fill-opacity="0.65"/>
<circle cx="262.68" cy="183.18" r="0.65" fill="#2b8a3e" fill-opacity="0.65"/>
<circle cx="262.94" cy="193.29" r="0.65" fill="#2b8a3e" fill-opacity="0.65"/>
<circle cx="262.26" cy="196.48" r="0.65" fill="#2b8a3e" fill-opacity="0.65"/>
<circle cx="262.43" cy="185.65" r="0.65" fill="#2b8a3e" fill-opacity="0.65"/>
<circle cx="265.09" cy="187.50" r="0.65" fill="#e5592a" fill-opacity="0.65"/>
<circle cx="264.84" cy="198.05" r="0.65" fill="#e5592a" fill-opacity="0.65"/>
<circle cx="265.28" cy="185.68" r="0.65" fill="#e5592a" fill-opacity="0.65"/>
<circle cx="265.35" cy="185.75" r="0.65" fill="#e5592a" fill-opacity="0.65"/>
<circle cx="264.95" cy="198.61" r="0.65" fill="#e5592a" fill-opacity="0.65"/>
<circle cx="265.21" cy="189.94" r="0.65" fill="#e5592a" fill-opacity="0.65"/>
<circle cx="264.99" cy="191.14" r="0.65" fill="#e5592a" fill-opacity="0.65"/>
<circle cx="264.76" cy="200.00" r="0.65" fill="#e5592a" fill-opacity="0.65"/>
<circle cx="264.70" cy="191.63" r="0.65" fill="#e5592a" fill-opacity="0.65"/>
<circle cx="265.32" cy="191.27" r="0.65" fill="#e5592a" fill-opacity="0.65"/>
<circle cx="265.53" cy="189.06" r="0.65" fill="#e5592a" fill-opacity="0.65"/>
<circle cx="265.53" cy="198.44" r="0.65" fill="#e5592a" fill-opacity="0.65"/>
<circle cx="265.25" cy="198.40" r="0.65" fill="#e5592a" fill-opacity="0.65"/>
<circle cx="265.05" cy="197.55" r="0.65" fill="#e5592a" fill-opacity="0.65"/>
<circle cx="265.37" cy="192.99" r="0.65" fill="#e5592a" fill-opacity="0.65"/>
<circle cx="265.07" cy="195.73" r="0.65" fill="#e5592a" fill-opacity="0.65"/>
<circle cx="265.02" cy="186.75" r="0.65" fill="#e5592a" fill-opacity="0.65"/>
<circle cx="265.32" cy="189.35" r="0.65" fill="#e5592a" fill-opacity="0.65"/>
<circle cx="265.09" cy="196.87" r="0.65" fill="#e5592a" fill-opacity="0.65"/>
<circle cx="264.80" cy="185.82" r="0.65" fill="#e5592a" fill-opacity="0.65"/>
<circle cx="264.76" cy="194.05" r="0.65" fill="#e5592a" fill-opacity="0.65"/>
<circle cx="265.10" cy="204.80" r="0.6" fill="#e5592a" fill-opacity="0.75"/>
<circle cx="272.57" cy="187.05" r="0.65" fill="#2b8a3e" fill-opacity="0.65"/>
<circle cx="272.66" cy="202.62" r="0.65" fill="#2b8a3e" fill-opacity="0.65"/>
<circle cx="272.48" cy="190.63" r="0.65" fill="#2b8a3e" fill-opacity="0.65"/>
<circle cx="273.04" cy="195.30" r="0.65" fill="#2b8a3e" fill-opacity="0.65"/>
<circle cx="272.49" cy="192.11" r="0.65" fill="#2b8a3e" fill-opacity="0.65"/>
<circle cx="272.68" cy="184.40" r="0.65" fill="#2b8a3e" fill-opacity="0.65"/>
<circle cx="272.59" cy="188.19" r="0.65" fill="#2b8a3e" fill-opacity="0.65"/>
<circle cx="272.97" cy="188.60" r="0.65" fill="#2b8a3e" fill-opacity="0.65"/>
<circle cx="272.84" cy="203.62" r="0.65" fill="#2b8a3e" fill-opacity="0.65"/>
<circle cx="273.08" cy="189.82" r="0.65" fill="#2b8a3e" fill-opacity="0.65"/>
<circle cx="272.79" cy="188.53" r="0.65" fill="#2b8a3e" fill-opacity="0.65"/>
<circle cx="272.61" cy="192.42" r="0.65" fill="#2b8a3e" fill-opacity="0.65"/>
<circle cx="272.96" cy="202.83" r="0.65" fill="#2b8a3e" fill-opacity="0.65"/>
<circle cx="272.51" cy="181.24" r="0.65" fill="#2b8a3e" fill-opacity="0.65"/>
<circle cx="272.65" cy="182.42" r="0.65" fill="#2b8a3e" fill-opacity="0.65"/>
<circle cx="272.28" cy="199.05" r="0.65" fill="#2b8a3e" fill-opacity="0.65"/>
<circle cx="272.35" cy="197.77" r="0.65" fill="#2b8a3e" fill-opacity="0.65"/>
<circle cx="272.58" cy="202.87" r="0.65" fill="#2b8a3e" fill-opacity="0.65"/>
<circle cx="273.02" cy="182.54" r="0.65" fill="#2b8a3e" fill-opacity="0.65"/>
<circle cx="272.42" cy="203.08" r="0.65" fill="#2b8a3e" fill-opacity="0.65"/>
<circle cx="272.80" cy="190.89" r="0.65" fill="#2b8a3e" fill-opacity="0.65"/>
<circle cx="272.95" cy="199.97" r="0.65" fill="#2b8a3e" fill-opacity="0.65"/>
<circle cx="272.69" cy="191.98" r="0.65" fill="#2b8a3e" fill-opacity="0.65"/>
<circle cx="272.34" cy="189.50" r="0.65" fill="#2b8a3e" fill-opacity="0.65"/>
<circle cx="272.38" cy="195.61" r="0.65" fill="#2b8a3e" fill-opacity="0.65"/>
<circle cx="272.80" cy="184.45" r="0.65" fill="#2b8a3e" fill-opacity="0.65"/>
<circle cx="272.82" cy="183.36" r="0.65" fill="#2b8a3e" fill-opacity="0.65"/>
<circle cx="272.34" cy="196.08" r="0.65" fill="#2b8a3e" fill-opacity="0.65"/>
<circle cx="275.17" cy="198.54" r="0.65" fill="#e5592a" fill-opacity="0.65"/>
<circle cx="275.32" cy="195.67" r="0.65" fill="#e5592a" fill-opacity="0.65"/>
<circle cx="274.86" cy="197.57" r="0.65" fill="#e5592a" fill-opacity="0.65"/>
<circle cx="274.83" cy="194.46" r="0.65" fill="#e5592a" fill-opacity="0.65"/>
<circle cx="275.57" cy="198.66" r="0.65" fill="#e5592a" fill-opacity="0.65"/>
<circle cx="275.55" cy="192.05" r="0.65" fill="#e5592a" fill-opacity="0.65"/>
<circle cx="275.37" cy="196.97" r="0.65" fill="#e5592a" fill-opacity="0.65"/>
<circle cx="274.87" cy="199.18" r="0.65" fill="#e5592a" fill-opacity="0.65"/>
<circle cx="275.57" cy="191.89" r="0.65" fill="#e5592a" fill-opacity="0.65"/>
<circle cx="275.45" cy="191.98" r="0.65" fill="#e5592a" fill-opacity="0.65"/>
<circle cx="275.00" cy="195.83" r="0.65" fill="#e5592a" fill-opacity="0.65"/>
<circle cx="274.81" cy="197.10" r="0.65" fill="#e5592a" fill-opacity="0.65"/>
<circle cx="275.63" cy="189.65" r="0.65" fill="#e5592a" fill-opacity="0.65"/>
<circle cx="275.60" cy="186.71" r="0.65" fill="#e5592a" fill-opacity="0.65"/>
<circle cx="275.52" cy="189.56" r="0.65" fill="#e5592a" fill-opacity="0.65"/>
<circle cx="275.62" cy="191.75" r="0.65" fill="#e5592a" fill-opacity="0.65"/>
<circle cx="275.58" cy="185.96" r="0.65" fill="#e5592a" fill-opacity="0.65"/>
<circle cx="274.83" cy="197.34" r="0.65" fill="#e5592a" fill-opacity="0.65"/>
<circle cx="275.32" cy="193.26" r="0.65" fill="#e5592a" fill-opacity="0.65"/>
<circle cx="274.78" cy="188.01" r="0.65" fill="#e5592a" fill-opacity="0.65"/>
<circle cx="275.08" cy="186.25" r="0.65" fill="#e5592a" fill-opacity="0.65"/>
<circle cx="275.20" cy="204.80" r="0.6" fill="#e5592a" fill-opacity="0.75"/>
<circle cx="283.44" cy="198.85" r="0.65" fill="#2b8a3e" fill-opacity="0.65"/>
<circle cx="283.40" cy="197.36" r="0.65" fill="#2b8a3e" fill-opacity="0.65"/>
<circle cx="282.86" cy="182.90" r="0.65" fill="#2b8a3e" fill-opacity="0.65"/>
<circle cx="283.21" cy="183.75" r="0.65" fill="#2b8a3e" fill-opacity="0.65"/>
<circle cx="283.04" cy="191.87" r="0.65" fill="#2b8a3e" fill-opacity="0.65"/>
<circle cx="283.00" cy="182.84" r="0.65" fill="#2b8a3e" fill-opacity="0.65"/>
<circle cx="282.62" cy="193.17" r="0.65" fill="#2b8a3e" fill-opacity="0.65"/>
<circle cx="282.58" cy="193.29" r="0.65" fill="#2b8a3e" fill-opacity="0.65"/>
<circle cx="282.69" cy="187.64" r="0.65" fill="#2b8a3e" fill-opacity="0.65"/>
<circle cx="282.69" cy="194.29" r="0.65" fill="#2b8a3e" fill-opacity="0.65"/>
<circle cx="282.90" cy="186.28" r="0.65" fill="#2b8a3e" fill-opacity="0.65"/>
<circle cx="282.75" cy="194.19" r="0.65" fill="#2b8a3e" fill-opacity="0.65"/>
<circle cx="283.37" cy="190.82" r="0.65" fill="#2b8a3e" fill-opacity="0.65"/>
<circle cx="282.70" cy="188.44" r="0.65" fill="#2b8a3e" fill-opacity="0.65"/>
<circle cx="282.77" cy="194.38" r="0.65" fill="#2b8a3e" fill-opacity="0.65"/>
<circle cx="283.26" cy="194.30" r="0.65" fill="#2b8a3e" fill-opacity="0.65"/>
<circle cx="282.72" cy="188.65" r="0.65" fill="#2b8a3e" fill-opacity="0.65"/>
<circle cx="282.89" cy="191.33" r="0.65" fill="#2b8a3e" fill-opacity="0.65"/>
<circle cx="282.91" cy="204.24" r="0.65" fill="#2b8a3e" fill-opacity="0.65"/>
<circle cx="283.05" cy="196.46" r="0.65" fill="#2b8a3e" fill-opacity="0.65"/>
<circle cx="283.19" cy="196.07" r="0.65" fill="#2b8a3e" fill-opacity="0.65"/>
<circle cx="283.27" cy="189.74" r="0.65" fill="#2b8a3e" fill-opacity="0.65"/>
<circle cx="283.15" cy="203.66" r="0.65" fill="#2b8a3e" fill-opacity="0.65"/>
<circle cx="282.70" cy="195.61" r="0.65" fill="#2b8a3e" fill-opacity="0.65"/>
<circle cx="282.90" cy="182.52" r="0.65" fill="#2b8a3e" fill-opacity="0.65"/>
<circle cx="282.59" cy="198.71" r="0.65" fill="#2b8a3e" fill-opacity="0.65"/>
<circle cx="282.65" cy="197.60" r="0.65" fill="#2b8a3e" fill-opacity="0.65"/>
<circle cx="282.64" cy="189.63" r="0.65" fill="#2b8a3e" fill-opacity="0.65"/>
<circle cx="285.08" cy="193.37" r="0.65" fill="#e5592a" fill-opacity="0.65"/>
<circle cx="285.76" cy="188.77" r="0.65" fill="#e5592a" fill-opacity="0.65"/>
<circle cx="285.56" cy="198.87" r="0.65" fill="#e5592a" fill-opacity="0.65"/>
<circle cx="285.31" cy="192.33" r="0.65" fill="#e5592a" fill-opacity="0.65"/>
<circle cx="285.70" cy="198.03" r="0.65" fill="#e5592a" fill-opacity="0.65"/>
<circle cx="285.20" cy="195.09" r="0.65" fill="#e5592a" fill-opacity="0.65"/>
<circle cx="285.16" cy="187.13" r="0.65" fill="#e5592a" fill-opacity="0.65"/>
<circle cx="285.93" cy="186.23" r="0.65" fill="#e5592a" fill-opacity="0.65"/>
<circle cx="285.88" cy="196.38" r="0.65" fill="#e5592a" fill-opacity="0.65"/>
<circle cx="285.66" cy="196.08" r="0.65" fill="#e5592a" fill-opacity="0.65"/>
<circle cx="285.64" cy="189.66" r="0.65" fill="#e5592a" fill-opacity="0.65"/>
<circle cx="285.45" cy="188.43" r="0.65" fill="#e5592a" fill-opacity="0.65"/>
<circle cx="285.82" cy="196.79" r="0.65" fill="#e5592a" fill-opacity="0.65"/>
<circle cx="285.76" cy="188.60" r="0.65" fill="#e5592a" fill-opacity="0.65"/>
<circle cx="285.58" cy="189.20" r="0.65" fill="#e5592a" fill-opacity="0.65"/>
<circle cx="285.76" cy="196.30" r="0.65" fill="#e5592a" fill-opacity="0.65"/>
<circle cx="285.95" cy="195.77" r="0.65" fill="#e5592a" fill-opacity="0.65"/>
<circle cx="285.67" cy="196.77" r="0.65" fill="#e5592a" fill-opacity="0.65"/>
<circle cx="285.13" cy="194.13" r="0.65" fill="#e5592a" fill-opacity="0.65"/>
<circle cx="285.08" cy="190.82" r="0.65" fill="#e5592a" fill-opacity="0.65"/>
<circle cx="285.16" cy="199.25" r="0.65" fill="#e5592a" fill-opacity="0.65"/>
<circle cx="285.50" cy="204.80" r="0.6" fill="#e5592a" fill-opacity="0.75"/>
<circle cx="292.88" cy="202.47" r="0.65" fill="#2b8a3e" fill-opacity="0.65"/>
<circle cx="293.70" cy="191.21" r="0.65" fill="#2b8a3e" fill-opacity="0.65"/>
<circle cx="293.60" cy="182.30" r="0.65" fill="#2b8a3e" fill-opacity="0.65"/>
<circle cx="292.98" cy="181.33" r="0.65" fill="#2b8a3e" fill-opacity="0.65"/>
<circle cx="292.91" cy="181.16" r="0.65" fill="#2b8a3e" fill-opacity="0.65"/>
<circle cx="293.60" cy="183.13" r="0.65" fill="#2b8a3e" fill-opacity="0.65"/>
<circle cx="293.38" cy="187.44" r="0.65" fill="#2b8a3e" fill-opacity="0.65"/>
<circle cx="292.97" cy="190.83" r="0.65" fill="#2b8a3e" fill-opacity="0.65"/>
<circle cx="293.01" cy="203.77" r="0.65" fill="#2b8a3e" fill-opacity="0.65"/>
<circle cx="293.20" cy="194.88" r="0.65" fill="#2b8a3e" fill-opacity="0.65"/>
<circle cx="293.36" cy="195.64" r="0.65" fill="#2b8a3e" fill-opacity="0.65"/>
<circle cx="293.28" cy="187.37" r="0.65" fill="#2b8a3e" fill-opacity="0.65"/>
<circle cx="292.97" cy="201.70" r="0.65" fill="#2b8a3e" fill-opacity="0.65"/>
<circle cx="293.02" cy="191.50" r="0.65" fill="#2b8a3e" fill-opacity="0.65"/>
<circle cx="293.58" cy="194.46" r="0.65" fill="#2b8a3e" fill-opacity="0.65"/>
<circle cx="293.70" cy="199.88" r="0.65" fill="#2b8a3e" fill-opacity="0.65"/>
<circle cx="293.31" cy="183.88" r="0.65" fill="#2b8a3e" fill-opacity="0.65"/>
<circle cx="293.38" cy="192.09" r="0.65" fill="#2b8a3e" fill-opacity="0.65"/>
<circle cx="293.63" cy="193.41" r="0.65" fill="#2b8a3e" fill-opacity="0.65"/>
<circle cx="293.47" cy="199.93" r="0.65" fill="#2b8a3e" fill-opacity="0.65"/>
<circle cx="293.27" cy="200.63" r="0.65" fill="#2b8a3e" fill-opacity="0.65"/>
<circle cx="293.66" cy="184.68" r="0.65" fill="#2b8a3e" fill-opacity="0.65"/>
<circle cx="293.68" cy="201.28" r="0.65" fill="#2b8a3e" fill-opacity="0.65"/>
<circle cx="293.62" cy="188.94" r="0.65" fill="#2b8a3e" fill-opacity="0.65"/>
<circle cx="293.08" cy="184.18" r="0.65" fill="#2b8a3e" fill-opacity="0.65"/>
<circle cx="293.18" cy="200.94" r="0.65" fill="#2b8a3e" fill-opacity="0.65"/>
<circle cx="293.18" cy="181.22" r="0.65" fill="#2b8a3e" fill-opacity="0.65"/>
<circle cx="293.12" cy="183.01" r="0.65" fill="#2b8a3e" fill-opacity="0.65"/>
<circle cx="295.91" cy="196.64" r="0.65" fill="#e5592a" fill-opacity="0.65"/>
<circle cx="296.18" cy="186.79" r="0.65" fill="#e5592a" fill-opacity="0.65"/>
<circle cx="295.69" cy="187.32" r="0.65" fill="#e5592a" fill-opacity="0.65"/>
<circle cx="296.17" cy="197.64" r="0.65" fill="#e5592a" fill-opacity="0.65"/>
<circle cx="295.82" cy="199.33" r="0.65" fill="#e5592a" fill-opacity="0.65"/>
<circle cx="295.82" cy="196.76" r="0.65" fill="#e5592a" fill-opacity="0.65"/>
<circle cx="295.79" cy="190.78" r="0.65" fill="#e5592a" fill-opacity="0.65"/>
<circle cx="296.24" cy="197.70" r="0.65" fill="#e5592a" fill-opacity="0.65"/>
<circle cx="295.88" cy="198.07" r="0.65" fill="#e5592a" fill-opacity="0.65"/>
<circle cx="295.93" cy="197.07" r="0.65" fill="#e5592a" fill-opacity="0.65"/>
<circle cx="295.41" cy="187.41" r="0.65" fill="#e5592a" fill-opacity="0.65"/>
<circle cx="295.45" cy="194.25" r="0.65" fill="#e5592a" fill-opacity="0.65"/>
<circle cx="296.00" cy="187.75" r="0.65" fill="#e5592a" fill-opacity="0.65"/>
<circle cx="295.80" cy="187.15" r="0.65" fill="#e5592a" fill-opacity="0.65"/>
<circle cx="295.97" cy="196.80" r="0.65" fill="#e5592a" fill-opacity="0.65"/>
<circle cx="295.43" cy="199.71" r="0.65" fill="#e5592a" fill-opacity="0.65"/>
<circle cx="295.95" cy="187.31" r="0.65" fill="#e5592a" fill-opacity="0.65"/>
<circle cx="295.67" cy="187.79" r="0.65" fill="#e5592a" fill-opacity="0.65"/>
<circle cx="296.01" cy="198.79" r="0.65" fill="#e5592a" fill-opacity="0.65"/>
<circle cx="295.51" cy="188.17" r="0.65" fill="#e5592a" fill-opacity="0.65"/>
<circle cx="295.92" cy="197.96" r="0.65" fill="#e5592a" fill-opacity="0.65"/>
<circle cx="295.80" cy="204.80" r="0.6" fill="#e5592a" fill-opacity="0.75"/>
<line x1="259.05" y1="180.40" x2="259.05" y2="206.60" stroke="#6a6a6a" stroke-width="0.8" />
<line x1="258.75" y1="206.30" x2="299.10" y2="206.30" stroke="#6a6a6a" stroke-width="0.8" />
<rect x="428.10" y="176.40" width="49.70" height="38.20" fill="#efefef"/>
<line x1="435.80" y1="185.30" x2="437.10" y2="185.30" stroke="#6a6a6a" stroke-width="0.6" />
<text x="435.30" y="187.50" font-size="6.2" text-anchor="end" fill="#5e5e5e"  >14</text>
<line x1="435.80" y1="190.40" x2="437.10" y2="190.40" stroke="#6a6a6a" stroke-width="0.6" />
<text x="435.30" y="192.60" font-size="6.2" text-anchor="end" fill="#5e5e5e"  >12</text>
<line x1="435.80" y1="195.55" x2="437.10" y2="195.55" stroke="#6a6a6a" stroke-width="0.6" />
<text x="435.30" y="197.75" font-size="6.2" text-anchor="end" fill="#5e5e5e"  >10</text>
<line x1="435.80" y1="200.70" x2="437.10" y2="200.70" stroke="#6a6a6a" stroke-width="0.6" />
<text x="435.30" y="202.90" font-size="6.2" text-anchor="end" fill="#5e5e5e"  >8</text>
<line x1="441.55" y1="205.90" x2="441.55" y2="207.20" stroke="#6a6a6a" stroke-width="0.6" />
<text x="441.55" y="212.64" font-size="6.3" text-anchor="middle" fill="#5e5e5e"  >2</text>
<line x1="452.00" y1="205.90" x2="452.00" y2="207.20" stroke="#6a6a6a" stroke-width="0.6" />
<text x="452.00" y="212.64" font-size="6.3" text-anchor="middle" fill="#5e5e5e"  >3</text>
<line x1="462.45" y1="205.90" x2="462.45" y2="207.20" stroke="#6a6a6a" stroke-width="0.6" />
<text x="462.45" y="212.64" font-size="6.3" text-anchor="middle" fill="#5e5e5e"  >4</text>
<line x1="473.05" y1="205.90" x2="473.05" y2="207.20" stroke="#6a6a6a" stroke-width="0.6" />
<text x="473.05" y="212.64" font-size="6.3" text-anchor="middle" fill="#5e5e5e"  >5</text>
<circle cx="440.39" cy="183.91" r="0.65" fill="#2b8a3e" fill-opacity="0.65"/>
<circle cx="440.69" cy="182.45" r="0.65" fill="#2b8a3e" fill-opacity="0.65"/>
<circle cx="440.58" cy="187.90" r="0.65" fill="#2b8a3e" fill-opacity="0.65"/>
<circle cx="440.15" cy="190.54" r="0.65" fill="#2b8a3e" fill-opacity="0.65"/>
<circle cx="440.13" cy="189.17" r="0.65" fill="#2b8a3e" fill-opacity="0.65"/>
<circle cx="440.16" cy="182.79" r="0.65" fill="#2b8a3e" fill-opacity="0.65"/>
<circle cx="440.48" cy="196.48" r="0.65" fill="#2b8a3e" fill-opacity="0.65"/>
<circle cx="440.21" cy="185.25" r="0.65" fill="#2b8a3e" fill-opacity="0.65"/>
<circle cx="440.66" cy="198.73" r="0.65" fill="#2b8a3e" fill-opacity="0.65"/>
<circle cx="440.62" cy="188.48" r="0.65" fill="#2b8a3e" fill-opacity="0.65"/>
<circle cx="440.98" cy="181.97" r="0.65" fill="#2b8a3e" fill-opacity="0.65"/>
<circle cx="440.87" cy="186.49" r="0.65" fill="#2b8a3e" fill-opacity="0.65"/>
<circle cx="440.23" cy="183.29" r="0.65" fill="#2b8a3e" fill-opacity="0.65"/>
<circle cx="440.38" cy="196.28" r="0.65" fill="#2b8a3e" fill-opacity="0.65"/>
<circle cx="440.26" cy="191.92" r="0.65" fill="#2b8a3e" fill-opacity="0.65"/>
<circle cx="440.68" cy="188.03" r="0.65" fill="#2b8a3e" fill-opacity="0.65"/>
<circle cx="440.59" cy="182.27" r="0.65" fill="#2b8a3e" fill-opacity="0.65"/>
<circle cx="440.15" cy="184.93" r="0.65" fill="#2b8a3e" fill-opacity="0.65"/>
<circle cx="440.71" cy="189.05" r="0.65" fill="#2b8a3e" fill-opacity="0.65"/>
<circle cx="440.38" cy="191.99" r="0.65" fill="#2b8a3e" fill-opacity="0.65"/>
<circle cx="440.51" cy="186.68" r="0.65" fill="#2b8a3e" fill-opacity="0.65"/>
<circle cx="440.81" cy="194.10" r="0.65" fill="#2b8a3e" fill-opacity="0.65"/>
<circle cx="440.32" cy="191.78" r="0.65" fill="#2b8a3e" fill-opacity="0.65"/>
<circle cx="440.57" cy="197.38" r="0.65" fill="#2b8a3e" fill-opacity="0.65"/>
<circle cx="440.76" cy="186.46" r="0.65" fill="#2b8a3e" fill-opacity="0.65"/>
<circle cx="440.98" cy="183.30" r="0.65" fill="#2b8a3e" fill-opacity="0.65"/>
<circle cx="440.48" cy="195.18" r="0.65" fill="#2b8a3e" fill-opacity="0.65"/>
<circle cx="440.24" cy="190.19" r="0.65" fill="#2b8a3e" fill-opacity="0.65"/>
<circle cx="442.64" cy="193.89" r="0.65" fill="#e5592a" fill-opacity="0.65"/>
<circle cx="443.29" cy="192.23" r="0.65" fill="#e5592a" fill-opacity="0.65"/>
<circle cx="443.39" cy="187.69" r="0.65" fill="#e5592a" fill-opacity="0.65"/>
<circle cx="443.23" cy="192.60" r="0.65" fill="#e5592a" fill-opacity="0.65"/>
<circle cx="443.12" cy="190.18" r="0.65" fill="#e5592a" fill-opacity="0.65"/>
<circle cx="443.36" cy="198.73" r="0.65" fill="#e5592a" fill-opacity="0.65"/>
<circle cx="443.03" cy="193.82" r="0.65" fill="#e5592a" fill-opacity="0.65"/>
<circle cx="442.65" cy="194.48" r="0.65" fill="#e5592a" fill-opacity="0.65"/>
<circle cx="443.18" cy="199.58" r="0.65" fill="#e5592a" fill-opacity="0.65"/>
<circle cx="443.34" cy="187.18" r="0.65" fill="#e5592a" fill-opacity="0.65"/>
<circle cx="442.95" cy="193.90" r="0.65" fill="#e5592a" fill-opacity="0.65"/>
<circle cx="442.62" cy="190.28" r="0.65" fill="#e5592a" fill-opacity="0.65"/>
<circle cx="442.75" cy="184.25" r="0.65" fill="#e5592a" fill-opacity="0.65"/>
<circle cx="442.65" cy="195.64" r="0.65" fill="#e5592a" fill-opacity="0.65"/>
<circle cx="442.72" cy="186.53" r="0.65" fill="#e5592a" fill-opacity="0.65"/>
<circle cx="442.95" cy="197.45" r="0.65" fill="#e5592a" fill-opacity="0.65"/>
<circle cx="442.67" cy="190.06" r="0.65" fill="#e5592a" fill-opacity="0.65"/>
<circle cx="443.09" cy="197.66" r="0.65" fill="#e5592a" fill-opacity="0.65"/>
<circle cx="443.34" cy="197.32" r="0.65" fill="#e5592a" fill-opacity="0.65"/>
<circle cx="442.85" cy="189.47" r="0.65" fill="#e5592a" fill-opacity="0.65"/>
<circle cx="442.92" cy="197.67" r="0.65" fill="#e5592a" fill-opacity="0.65"/>
<circle cx="443.46" cy="184.84" r="0.65" fill="#e5592a" fill-opacity="0.65"/>
<circle cx="442.76" cy="186.26" r="0.65" fill="#e5592a" fill-opacity="0.65"/>
<circle cx="442.81" cy="190.69" r="0.65" fill="#e5592a" fill-opacity="0.65"/>
<circle cx="443.13" cy="186.80" r="0.65" fill="#e5592a" fill-opacity="0.65"/>
<circle cx="443.15" cy="204.60" r="0.6" fill="#e5592a" fill-opacity="0.75"/>
<circle cx="450.55" cy="188.89" r="0.65" fill="#2b8a3e" fill-opacity="0.65"/>
<circle cx="450.88" cy="191.63" r="0.65" fill="#2b8a3e" fill-opacity="0.65"/>
<circle cx="451.41" cy="193.94" r="0.65" fill="#2b8a3e" fill-opacity="0.65"/>
<circle cx="451.01" cy="192.59" r="0.65" fill="#2b8a3e" fill-opacity="0.65"/>
<circle cx="451.16" cy="182.10" r="0.65" fill="#2b8a3e" fill-opacity="0.65"/>
<circle cx="451.36" cy="195.61" r="0.65" fill="#2b8a3e" fill-opacity="0.65"/>
<circle cx="451.34" cy="195.94" r="0.65" fill="#2b8a3e" fill-opacity="0.65"/>
<circle cx="450.90" cy="188.52" r="0.65" fill="#2b8a3e" fill-opacity="0.65"/>
<circle cx="450.64" cy="192.90" r="0.65" fill="#2b8a3e" fill-opacity="0.65"/>
<circle cx="450.61" cy="182.35" r="0.65" fill="#2b8a3e" fill-opacity="0.65"/>
<circle cx="450.74" cy="184.12" r="0.65" fill="#2b8a3e" fill-opacity="0.65"/>
<circle cx="450.86" cy="182.08" r="0.65" fill="#2b8a3e" fill-opacity="0.65"/>
<circle cx="450.55" cy="183.91" r="0.65" fill="#2b8a3e" fill-opacity="0.65"/>
<circle cx="450.64" cy="187.86" r="0.65" fill="#2b8a3e" fill-opacity="0.65"/>
<circle cx="450.57" cy="197.36" r="0.65" fill="#2b8a3e" fill-opacity="0.65"/>
<circle cx="451.10" cy="183.86" r="0.65" fill="#2b8a3e" fill-opacity="0.65"/>
<circle cx="450.78" cy="187.56" r="0.65" fill="#2b8a3e" fill-opacity="0.65"/>
<circle cx="450.88" cy="183.38" r="0.65" fill="#2b8a3e" fill-opacity="0.65"/>
<circle cx="451.31" cy="199.57" r="0.65" fill="#2b8a3e" fill-opacity="0.65"/>
<circle cx="450.97" cy="190.10" r="0.65" fill="#2b8a3e" fill-opacity="0.65"/>
<circle cx="450.63" cy="183.00" r="0.65" fill="#2b8a3e" fill-opacity="0.65"/>
<circle cx="450.86" cy="186.02" r="0.65" fill="#2b8a3e" fill-opacity="0.65"/>
<circle cx="451.30" cy="184.10" r="0.65" fill="#2b8a3e" fill-opacity="0.65"/>
<circle cx="450.57" cy="198.79" r="0.65" fill="#2b8a3e" fill-opacity="0.65"/>
<circle cx="451.03" cy="183.83" r="0.65" fill="#2b8a3e" fill-opacity="0.65"/>
<circle cx="451.04" cy="181.60" r="0.65" fill="#2b8a3e" fill-opacity="0.65"/>
<circle cx="451.03" cy="199.30" r="0.65" fill="#2b8a3e" fill-opacity="0.65"/>
<circle cx="451.33" cy="194.05" r="0.65" fill="#2b8a3e" fill-opacity="0.65"/>
<circle cx="453.29" cy="188.62" r="0.65" fill="#e5592a" fill-opacity="0.65"/>
<circle cx="453.20" cy="195.71" r="0.65" fill="#e5592a" fill-opacity="0.65"/>
<circle cx="453.53" cy="195.83" r="0.65" fill="#e5592a" fill-opacity="0.65"/>
<circle cx="453.35" cy="186.10" r="0.65" fill="#e5592a" fill-opacity="0.65"/>
<circle cx="453.78" cy="199.44" r="0.65" fill="#e5592a" fill-opacity="0.65"/>
<circle cx="453.82" cy="196.31" r="0.65" fill="#e5592a" fill-opacity="0.65"/>
<circle cx="453.79" cy="195.15" r="0.65" fill="#e5592a" fill-opacity="0.65"/>
<circle cx="453.25" cy="191.26" r="0.65" fill="#e5592a" fill-opacity="0.65"/>
<circle cx="453.37" cy="182.71" r="0.65" fill="#e5592a" fill-opacity="0.65"/>
<circle cx="453.08" cy="187.09" r="0.65" fill="#e5592a" fill-opacity="0.65"/>
<circle cx="453.28" cy="194.32" r="0.65" fill="#e5592a" fill-opacity="0.65"/>
<circle cx="453.91" cy="190.03" r="0.65" fill="#e5592a" fill-opacity="0.65"/>
<circle cx="453.89" cy="199.49" r="0.65" fill="#e5592a" fill-opacity="0.65"/>
<circle cx="453.91" cy="188.58" r="0.65" fill="#e5592a" fill-opacity="0.65"/>
<circle cx="453.25" cy="186.17" r="0.65" fill="#e5592a" fill-opacity="0.65"/>
<circle cx="453.23" cy="185.78" r="0.65" fill="#e5592a" fill-opacity="0.65"/>
<circle cx="453.61" cy="197.96" r="0.65" fill="#e5592a" fill-opacity="0.65"/>
<circle cx="453.81" cy="190.59" r="0.65" fill="#e5592a" fill-opacity="0.65"/>
<circle cx="453.64" cy="196.19" r="0.65" fill="#e5592a" fill-opacity="0.65"/>
<circle cx="453.13" cy="193.76" r="0.65" fill="#e5592a" fill-opacity="0.65"/>
<circle cx="453.87" cy="195.89" r="0.65" fill="#e5592a" fill-opacity="0.65"/>
<circle cx="453.73" cy="190.57" r="0.65" fill="#e5592a" fill-opacity="0.65"/>
<circle cx="453.21" cy="196.01" r="0.65" fill="#e5592a" fill-opacity="0.65"/>
<circle cx="453.35" cy="196.21" r="0.65" fill="#e5592a" fill-opacity="0.65"/>
<circle cx="453.92" cy="189.13" r="0.65" fill="#e5592a" fill-opacity="0.65"/>
<circle cx="453.60" cy="204.60" r="0.6" fill="#e5592a" fill-opacity="0.75"/>
<circle cx="461.36" cy="198.71" r="0.65" fill="#2b8a3e" fill-opacity="0.65"/>
<circle cx="461.65" cy="184.26" r="0.65" fill="#2b8a3e" fill-opacity="0.65"/>
<circle cx="461.11" cy="183.91" r="0.65" fill="#2b8a3e" fill-opacity="0.65"/>
<circle cx="461.81" cy="196.10" r="0.65" fill="#2b8a3e" fill-opacity="0.65"/>
<circle cx="461.13" cy="196.47" r="0.65" fill="#2b8a3e" fill-opacity="0.65"/>
<circle cx="461.88" cy="193.33" r="0.65" fill="#2b8a3e" fill-opacity="0.65"/>
<circle cx="461.32" cy="191.31" r="0.65" fill="#2b8a3e" fill-opacity="0.65"/>
<circle cx="461.12" cy="181.36" r="0.65" fill="#2b8a3e" fill-opacity="0.65"/>
<circle cx="461.87" cy="193.18" r="0.65" fill="#2b8a3e" fill-opacity="0.65"/>
<circle cx="461.47" cy="198.47" r="0.65" fill="#2b8a3e" fill-opacity="0.65"/>
<circle cx="461.39" cy="197.31" r="0.65" fill="#2b8a3e" fill-opacity="0.65"/>
<circle cx="461.74" cy="185.03" r="0.65" fill="#2b8a3e" fill-opacity="0.65"/>
<circle cx="461.23" cy="186.55" r="0.65" fill="#2b8a3e" fill-opacity="0.65"/>
<circle cx="461.22" cy="192.01" r="0.65" fill="#2b8a3e" fill-opacity="0.65"/>
<circle cx="461.23" cy="188.89" r="0.65" fill="#2b8a3e" fill-opacity="0.65"/>
<circle cx="461.12" cy="198.03" r="0.65" fill="#2b8a3e" fill-opacity="0.65"/>
<circle cx="461.32" cy="189.62" r="0.65" fill="#2b8a3e" fill-opacity="0.65"/>
<circle cx="461.53" cy="197.92" r="0.65" fill="#2b8a3e" fill-opacity="0.65"/>
<circle cx="461.38" cy="198.17" r="0.65" fill="#2b8a3e" fill-opacity="0.65"/>
<circle cx="461.45" cy="190.99" r="0.65" fill="#2b8a3e" fill-opacity="0.65"/>
<circle cx="461.47" cy="181.45" r="0.65" fill="#2b8a3e" fill-opacity="0.65"/>
<circle cx="461.40" cy="184.51" r="0.65" fill="#2b8a3e" fill-opacity="0.65"/>
<circle cx="461.00" cy="195.96" r="0.65" fill="#2b8a3e" fill-opacity="0.65"/>
<circle cx="461.16" cy="189.91" r="0.65" fill="#2b8a3e" fill-opacity="0.65"/>
<circle cx="461.65" cy="191.45" r="0.65" fill="#2b8a3e" fill-opacity="0.65"/>
<circle cx="461.29" cy="190.74" r="0.65" fill="#2b8a3e" fill-opacity="0.65"/>
<circle cx="461.50" cy="195.69" r="0.65" fill="#2b8a3e" fill-opacity="0.65"/>
<circle cx="461.10" cy="191.52" r="0.65" fill="#2b8a3e" fill-opacity="0.65"/>
<circle cx="463.72" cy="187.05" r="0.65" fill="#e5592a" fill-opacity="0.65"/>
<circle cx="464.20" cy="191.08" r="0.65" fill="#e5592a" fill-opacity="0.65"/>
<circle cx="464.01" cy="195.50" r="0.65" fill="#e5592a" fill-opacity="0.65"/>
<circle cx="464.32" cy="189.96" r="0.65" fill="#e5592a" fill-opacity="0.65"/>
<circle cx="464.05" cy="191.05" r="0.65" fill="#e5592a" fill-opacity="0.65"/>
<circle cx="463.96" cy="194.32" r="0.65" fill="#e5592a" fill-opacity="0.65"/>
<circle cx="463.91" cy="191.53" r="0.65" fill="#e5592a" fill-opacity="0.65"/>
<circle cx="463.93" cy="198.68" r="0.65" fill="#e5592a" fill-opacity="0.65"/>
<circle cx="464.13" cy="197.54" r="0.65" fill="#e5592a" fill-opacity="0.65"/>
<circle cx="464.35" cy="186.74" r="0.65" fill="#e5592a" fill-opacity="0.65"/>
<circle cx="464.00" cy="198.71" r="0.65" fill="#e5592a" fill-opacity="0.65"/>
<circle cx="464.26" cy="184.60" r="0.65" fill="#e5592a" fill-opacity="0.65"/>
<circle cx="463.61" cy="189.94" r="0.65" fill="#e5592a" fill-opacity="0.65"/>
<circle cx="463.57" cy="186.41" r="0.65" fill="#e5592a" fill-opacity="0.65"/>
<circle cx="463.57" cy="193.92" r="0.65" fill="#e5592a" fill-opacity="0.65"/>
<circle cx="464.21" cy="197.90" r="0.65" fill="#e5592a" fill-opacity="0.65"/>
<circle cx="463.64" cy="194.73" r="0.65" fill="#e5592a" fill-opacity="0.65"/>
<circle cx="464.09" cy="184.70" r="0.65" fill="#e5592a" fill-opacity="0.65"/>
<circle cx="464.29" cy="199.13" r="0.65" fill="#e5592a" fill-opacity="0.65"/>
<circle cx="463.70" cy="198.87" r="0.65" fill="#e5592a" fill-opacity="0.65"/>
<circle cx="463.86" cy="190.73" r="0.65" fill="#e5592a" fill-opacity="0.65"/>
<circle cx="464.39" cy="196.77" r="0.65" fill="#e5592a" fill-opacity="0.65"/>
<circle cx="463.65" cy="189.75" r="0.65" fill="#e5592a" fill-opacity="0.65"/>
<circle cx="463.96" cy="188.13" r="0.65" fill="#e5592a" fill-opacity="0.65"/>
<circle cx="463.68" cy="187.77" r="0.65" fill="#e5592a" fill-opacity="0.65"/>
<circle cx="464.05" cy="204.60" r="0.6" fill="#e5592a" fill-opacity="0.75"/>
<circle cx="472.25" cy="181.46" r="0.65" fill="#2b8a3e" fill-opacity="0.65"/>
<circle cx="472.10" cy="189.29" r="0.65" fill="#2b8a3e" fill-opacity="0.65"/>
<circle cx="471.62" cy="187.27" r="0.65" fill="#2b8a3e" fill-opacity="0.65"/>
<circle cx="472.16" cy="190.63" r="0.65" fill="#2b8a3e" fill-opacity="0.65"/>
<circle cx="471.66" cy="199.42" r="0.65" fill="#2b8a3e" fill-opacity="0.65"/>
<circle cx="472.31" cy="199.17" r="0.65" fill="#2b8a3e" fill-opacity="0.65"/>
<circle cx="471.69" cy="186.04" r="0.65" fill="#2b8a3e" fill-opacity="0.65"/>
<circle cx="471.64" cy="195.59" r="0.65" fill="#2b8a3e" fill-opacity="0.65"/>
<circle cx="471.84" cy="183.51" r="0.65" fill="#2b8a3e" fill-opacity="0.65"/>
<circle cx="471.98" cy="198.05" r="0.65" fill="#2b8a3e" fill-opacity="0.65"/>
<circle cx="472.34" cy="185.91" r="0.65" fill="#2b8a3e" fill-opacity="0.65"/>
<circle cx="471.73" cy="198.20" r="0.65" fill="#2b8a3e" fill-opacity="0.65"/>
<circle cx="472.11" cy="194.13" r="0.65" fill="#2b8a3e" fill-opacity="0.65"/>
<circle cx="471.68" cy="182.17" r="0.65" fill="#2b8a3e" fill-opacity="0.65"/>
<circle cx="472.22" cy="189.01" r="0.65" fill="#2b8a3e" fill-opacity="0.65"/>
<circle cx="471.67" cy="198.55" r="0.65" fill="#2b8a3e" fill-opacity="0.65"/>
<circle cx="472.17" cy="196.01" r="0.65" fill="#2b8a3e" fill-opacity="0.65"/>
<circle cx="471.68" cy="197.03" r="0.65" fill="#2b8a3e" fill-opacity="0.65"/>
<circle cx="471.66" cy="197.15" r="0.65" fill="#2b8a3e" fill-opacity="0.65"/>
<circle cx="472.01" cy="187.41" r="0.65" fill="#2b8a3e" fill-opacity="0.65"/>
<circle cx="472.10" cy="198.34" r="0.65" fill="#2b8a3e" fill-opacity="0.65"/>
<circle cx="471.84" cy="183.50" r="0.65" fill="#2b8a3e" fill-opacity="0.65"/>
<circle cx="472.07" cy="185.53" r="0.65" fill="#2b8a3e" fill-opacity="0.65"/>
<circle cx="471.70" cy="184.10" r="0.65" fill="#2b8a3e" fill-opacity="0.65"/>
<circle cx="471.65" cy="184.85" r="0.65" fill="#2b8a3e" fill-opacity="0.65"/>
<circle cx="471.88" cy="186.77" r="0.65" fill="#2b8a3e" fill-opacity="0.65"/>
<circle cx="472.28" cy="186.49" r="0.65" fill="#2b8a3e" fill-opacity="0.65"/>
<circle cx="472.05" cy="184.41" r="0.65" fill="#2b8a3e" fill-opacity="0.65"/>
<circle cx="474.41" cy="182.52" r="0.65" fill="#e5592a" fill-opacity="0.65"/>
<circle cx="474.33" cy="182.47" r="0.65" fill="#e5592a" fill-opacity="0.65"/>
<circle cx="474.76" cy="191.84" r="0.65" fill="#e5592a" fill-opacity="0.65"/>
<circle cx="474.27" cy="190.51" r="0.65" fill="#e5592a" fill-opacity="0.65"/>
<circle cx="474.94" cy="184.06" r="0.65" fill="#e5592a" fill-opacity="0.65"/>
<circle cx="474.84" cy="189.76" r="0.65" fill="#e5592a" fill-opacity="0.65"/>
<circle cx="474.55" cy="196.81" r="0.65" fill="#e5592a" fill-opacity="0.65"/>
<circle cx="474.45" cy="191.07" r="0.65" fill="#e5592a" fill-opacity="0.65"/>
<circle cx="474.72" cy="199.39" r="0.65" fill="#e5592a" fill-opacity="0.65"/>
<circle cx="474.41" cy="196.77" r="0.65" fill="#e5592a" fill-opacity="0.65"/>
<circle cx="474.74" cy="193.33" r="0.65" fill="#e5592a" fill-opacity="0.65"/>
<circle cx="474.46" cy="188.28" r="0.65" fill="#e5592a" fill-opacity="0.65"/>
<circle cx="474.15" cy="184.47" r="0.65" fill="#e5592a" fill-opacity="0.65"/>
<circle cx="474.16" cy="195.17" r="0.65" fill="#e5592a" fill-opacity="0.65"/>
<circle cx="474.33" cy="185.06" r="0.65" fill="#e5592a" fill-opacity="0.65"/>
<circle cx="474.18" cy="196.92" r="0.65" fill="#e5592a" fill-opacity="0.65"/>
<circle cx="474.88" cy="193.93" r="0.65" fill="#e5592a" fill-opacity="0.65"/>
<circle cx="474.35" cy="186.44" r="0.65" fill="#e5592a" fill-opacity="0.65"/>
<circle cx="474.36" cy="190.24" r="0.65" fill="#e5592a" fill-opacity="0.65"/>
<circle cx="474.24" cy="190.00" r="0.65" fill="#e5592a" fill-opacity="0.65"/>
<circle cx="474.34" cy="199.03" r="0.65" fill="#e5592a" fill-opacity="0.65"/>
<circle cx="474.98" cy="191.77" r="0.65" fill="#e5592a" fill-opacity="0.65"/>
<circle cx="474.32" cy="199.10" r="0.65" fill="#e5592a" fill-opacity="0.65"/>
<circle cx="474.38" cy="188.44" r="0.65" fill="#e5592a" fill-opacity="0.65"/>
<circle cx="474.10" cy="188.88" r="0.65" fill="#e5592a" fill-opacity="0.65"/>
<circle cx="474.65" cy="204.60" r="0.6" fill="#e5592a" fill-opacity="0.75"/>
<line x1="437.10" y1="180.40" x2="437.10" y2="206.20" stroke="#6a6a6a" stroke-width="0.8" />
<line x1="436.80" y1="205.90" x2="477.10" y2="205.90" stroke="#6a6a6a" stroke-width="0.8" />
<rect x="608.80" y="175.50" width="49.40" height="37.40" fill="#efefef"/>
<line x1="617.95" y1="179.50" x2="619.25" y2="179.50" stroke="#6a6a6a" stroke-width="0.6" />
<text x="617.45" y="181.70" font-size="6.2" text-anchor="end" fill="#5e5e5e"  >24</text>
<line x1="617.95" y1="186.20" x2="619.25" y2="186.20" stroke="#6a6a6a" stroke-width="0.6" />
<text x="617.45" y="188.40" font-size="6.2" text-anchor="end" fill="#5e5e5e"  >20</text>
<line x1="617.95" y1="192.60" x2="619.25" y2="192.60" stroke="#6a6a6a" stroke-width="0.6" />
<text x="617.45" y="194.80" font-size="6.2" text-anchor="end" fill="#5e5e5e"  >16</text>
<line x1="617.95" y1="198.90" x2="619.25" y2="198.90" stroke="#6a6a6a" stroke-width="0.6" />
<text x="617.45" y="201.10" font-size="6.2" text-anchor="end" fill="#5e5e5e"  >12</text>
<line x1="623.70" y1="205.20" x2="623.70" y2="206.50" stroke="#6a6a6a" stroke-width="0.6" />
<text x="623.70" y="211.64" font-size="6.3" text-anchor="middle" fill="#5e5e5e"  >2</text>
<line x1="633.00" y1="205.20" x2="633.00" y2="206.50" stroke="#6a6a6a" stroke-width="0.6" />
<text x="633.00" y="211.64" font-size="6.3" text-anchor="middle" fill="#5e5e5e"  >3</text>
<line x1="642.65" y1="205.20" x2="642.65" y2="206.50" stroke="#6a6a6a" stroke-width="0.6" />
<text x="642.65" y="211.64" font-size="6.3" text-anchor="middle" fill="#5e5e5e"  >4</text>
<line x1="652.45" y1="205.20" x2="652.45" y2="206.50" stroke="#6a6a6a" stroke-width="0.6" />
<text x="652.45" y="211.64" font-size="6.3" text-anchor="middle" fill="#5e5e5e"  >5</text>
<circle cx="622.25" cy="183.46" r="0.65" fill="#2b8a3e" fill-opacity="0.65"/>
<circle cx="622.16" cy="182.54" r="0.65" fill="#2b8a3e" fill-opacity="0.65"/>
<circle cx="622.13" cy="180.89" r="0.65" fill="#2b8a3e" fill-opacity="0.65"/>
<circle cx="622.95" cy="192.18" r="0.65" fill="#2b8a3e" fill-opacity="0.65"/>
<circle cx="622.63" cy="195.51" r="0.65" fill="#2b8a3e" fill-opacity="0.65"/>
<circle cx="622.46" cy="195.98" r="0.65" fill="#2b8a3e" fill-opacity="0.65"/>
<circle cx="622.22" cy="200.45" r="0.65" fill="#2b8a3e" fill-opacity="0.65"/>
<circle cx="622.13" cy="192.51" r="0.65" fill="#2b8a3e" fill-opacity="0.65"/>
<circle cx="622.07" cy="192.95" r="0.65" fill="#2b8a3e" fill-opacity="0.65"/>
<circle cx="622.42" cy="201.40" r="0.65" fill="#2b8a3e" fill-opacity="0.65"/>
<circle cx="622.39" cy="190.91" r="0.65" fill="#2b8a3e" fill-opacity="0.65"/>
<circle cx="622.28" cy="202.59" r="0.65" fill="#2b8a3e" fill-opacity="0.65"/>
<circle cx="622.11" cy="197.65" r="0.65" fill="#2b8a3e" fill-opacity="0.65"/>
<circle cx="622.39" cy="198.19" r="0.65" fill="#2b8a3e" fill-opacity="0.65"/>
<circle cx="622.35" cy="198.59" r="0.65" fill="#2b8a3e" fill-opacity="0.65"/>
<circle cx="622.50" cy="198.04" r="0.65" fill="#2b8a3e" fill-opacity="0.65"/>
<circle cx="622.86" cy="197.13" r="0.65" fill="#2b8a3e" fill-opacity="0.65"/>
<circle cx="622.18" cy="190.26" r="0.65" fill="#2b8a3e" fill-opacity="0.65"/>
<circle cx="622.90" cy="195.90" r="0.65" fill="#2b8a3e" fill-opacity="0.65"/>
<circle cx="622.22" cy="201.98" r="0.65" fill="#2b8a3e" fill-opacity="0.65"/>
<circle cx="622.57" cy="199.09" r="0.65" fill="#2b8a3e" fill-opacity="0.65"/>
<circle cx="622.84" cy="193.20" r="0.65" fill="#2b8a3e" fill-opacity="0.65"/>
<circle cx="622.37" cy="201.08" r="0.65" fill="#2b8a3e" fill-opacity="0.65"/>
<circle cx="622.17" cy="199.57" r="0.65" fill="#2b8a3e" fill-opacity="0.65"/>
<circle cx="622.14" cy="198.58" r="0.65" fill="#2b8a3e" fill-opacity="0.65"/>
<circle cx="622.68" cy="202.03" r="0.65" fill="#2b8a3e" fill-opacity="0.65"/>
<circle cx="622.81" cy="196.10" r="0.65" fill="#2b8a3e" fill-opacity="0.65"/>
<circle cx="622.23" cy="191.40" r="0.65" fill="#2b8a3e" fill-opacity="0.65"/>
<circle cx="624.83" cy="181.80" r="0.65" fill="#e5592a" fill-opacity="0.65"/>
<circle cx="624.41" cy="196.54" r="0.65" fill="#e5592a" fill-opacity="0.65"/>
<circle cx="624.81" cy="194.54" r="0.65" fill="#e5592a" fill-opacity="0.65"/>
<circle cx="624.55" cy="190.01" r="0.65" fill="#e5592a" fill-opacity="0.65"/>
<circle cx="624.36" cy="191.00" r="0.65" fill="#e5592a" fill-opacity="0.65"/>
<circle cx="624.59" cy="191.79" r="0.65" fill="#e5592a" fill-opacity="0.65"/>
<circle cx="624.69" cy="195.86" r="0.65" fill="#e5592a" fill-opacity="0.65"/>
<circle cx="625.15" cy="189.33" r="0.65" fill="#e5592a" fill-opacity="0.65"/>
<circle cx="624.71" cy="189.25" r="0.65" fill="#e5592a" fill-opacity="0.65"/>
<circle cx="624.95" cy="197.25" r="0.65" fill="#e5592a" fill-opacity="0.65"/>
<circle cx="624.53" cy="195.19" r="0.65" fill="#e5592a" fill-opacity="0.65"/>
<circle cx="624.62" cy="187.73" r="0.65" fill="#e5592a" fill-opacity="0.65"/>
<circle cx="625.04" cy="190.98" r="0.65" fill="#e5592a" fill-opacity="0.65"/>
<circle cx="624.50" cy="191.91" r="0.65" fill="#e5592a" fill-opacity="0.65"/>
<circle cx="624.56" cy="191.66" r="0.65" fill="#e5592a" fill-opacity="0.65"/>
<circle cx="624.75" cy="191.74" r="0.65" fill="#e5592a" fill-opacity="0.65"/>
<circle cx="624.88" cy="190.46" r="0.65" fill="#e5592a" fill-opacity="0.65"/>
<circle cx="624.44" cy="188.44" r="0.65" fill="#e5592a" fill-opacity="0.65"/>
<circle cx="624.45" cy="192.76" r="0.65" fill="#e5592a" fill-opacity="0.65"/>
<circle cx="624.67" cy="195.60" r="0.65" fill="#e5592a" fill-opacity="0.65"/>
<circle cx="624.80" cy="194.61" r="0.65" fill="#e5592a" fill-opacity="0.65"/>
<circle cx="625.23" cy="188.22" r="0.65" fill="#e5592a" fill-opacity="0.65"/>
<circle cx="624.80" cy="203.30" r="0.6" fill="#e5592a" fill-opacity="0.75"/>
<circle cx="631.37" cy="180.51" r="0.65" fill="#2b8a3e" fill-opacity="0.65"/>
<circle cx="631.70" cy="182.07" r="0.65" fill="#2b8a3e" fill-opacity="0.65"/>
<circle cx="632.02" cy="181.27" r="0.65" fill="#2b8a3e" fill-opacity="0.65"/>
<circle cx="632.22" cy="189.44" r="0.65" fill="#2b8a3e" fill-opacity="0.65"/>
<circle cx="632.10" cy="192.19" r="0.65" fill="#2b8a3e" fill-opacity="0.65"/>
<circle cx="632.14" cy="189.84" r="0.65" fill="#2b8a3e" fill-opacity="0.65"/>
<circle cx="632.22" cy="199.50" r="0.65" fill="#2b8a3e" fill-opacity="0.65"/>
<circle cx="632.24" cy="197.11" r="0.65" fill="#2b8a3e" fill-opacity="0.65"/>
<circle cx="631.51" cy="202.30" r="0.65" fill="#2b8a3e" fill-opacity="0.65"/>
<circle cx="631.75" cy="190.51" r="0.65" fill="#2b8a3e" fill-opacity="0.65"/>
<circle cx="631.89" cy="196.01" r="0.65" fill="#2b8a3e" fill-opacity="0.65"/>
<circle cx="631.78" cy="191.46" r="0.65" fill="#2b8a3e" fill-opacity="0.65"/>
<circle cx="631.46" cy="197.12" r="0.65" fill="#2b8a3e" fill-opacity="0.65"/>
<circle cx="631.76" cy="191.08" r="0.65" fill="#2b8a3e" fill-opacity="0.65"/>
<circle cx="631.75" cy="199.05" r="0.65" fill="#2b8a3e" fill-opacity="0.65"/>
<circle cx="631.99" cy="195.67" r="0.65" fill="#2b8a3e" fill-opacity="0.65"/>
<circle cx="631.70" cy="194.20" r="0.65" fill="#2b8a3e" fill-opacity="0.65"/>
<circle cx="631.55" cy="192.03" r="0.65" fill="#2b8a3e" fill-opacity="0.65"/>
<circle cx="631.75" cy="190.84" r="0.65" fill="#2b8a3e" fill-opacity="0.65"/>
<circle cx="632.00" cy="198.82" r="0.65" fill="#2b8a3e" fill-opacity="0.65"/>
<circle cx="631.90" cy="189.70" r="0.65" fill="#2b8a3e" fill-opacity="0.65"/>
<circle cx="631.68" cy="195.15" r="0.65" fill="#2b8a3e" fill-opacity="0.65"/>
<circle cx="631.43" cy="202.27" r="0.65" fill="#2b8a3e" fill-opacity="0.65"/>
<circle cx="632.03" cy="196.08" r="0.65" fill="#2b8a3e" fill-opacity="0.65"/>
<circle cx="631.98" cy="192.07" r="0.65" fill="#2b8a3e" fill-opacity="0.65"/>
<circle cx="631.56" cy="196.39" r="0.65" fill="#2b8a3e" fill-opacity="0.65"/>
<circle cx="632.02" cy="198.01" r="0.65" fill="#2b8a3e" fill-opacity="0.65"/>
<circle cx="631.36" cy="197.56" r="0.65" fill="#2b8a3e" fill-opacity="0.65"/>
<circle cx="634.47" cy="181.80" r="0.65" fill="#e5592a" fill-opacity="0.65"/>
<circle cx="634.48" cy="197.32" r="0.65" fill="#e5592a" fill-opacity="0.65"/>
<circle cx="633.85" cy="190.53" r="0.65" fill="#e5592a" fill-opacity="0.65"/>
<circle cx="634.14" cy="197.27" r="0.65" fill="#e5592a" fill-opacity="0.65"/>
<circle cx="633.98" cy="196.92" r="0.65" fill="#e5592a" fill-opacity="0.65"/>
<circle cx="634.42" cy="192.71" r="0.65" fill="#e5592a" fill-opacity="0.65"/>
<circle cx="634.21" cy="197.07" r="0.65" fill="#e5592a" fill-opacity="0.65"/>
<circle cx="634.35" cy="190.53" r="0.65" fill="#e5592a" fill-opacity="0.65"/>
<circle cx="634.41" cy="189.54" r="0.65" fill="#e5592a" fill-opacity="0.65"/>
<circle cx="633.98" cy="197.09" r="0.65" fill="#e5592a" fill-opacity="0.65"/>
<circle cx="634.41" cy="190.69" r="0.65" fill="#e5592a" fill-opacity="0.65"/>
<circle cx="633.91" cy="193.67" r="0.65" fill="#e5592a" fill-opacity="0.65"/>
<circle cx="634.41" cy="194.37" r="0.65" fill="#e5592a" fill-opacity="0.65"/>
<circle cx="634.49" cy="194.81" r="0.65" fill="#e5592a" fill-opacity="0.65"/>
<circle cx="634.39" cy="193.59" r="0.65" fill="#e5592a" fill-opacity="0.65"/>
<circle cx="633.98" cy="191.83" r="0.65" fill="#e5592a" fill-opacity="0.65"/>
<circle cx="634.09" cy="192.84" r="0.65" fill="#e5592a" fill-opacity="0.65"/>
<circle cx="634.40" cy="190.26" r="0.65" fill="#e5592a" fill-opacity="0.65"/>
<circle cx="633.71" cy="194.86" r="0.65" fill="#e5592a" fill-opacity="0.65"/>
<circle cx="633.89" cy="191.76" r="0.65" fill="#e5592a" fill-opacity="0.65"/>
<circle cx="633.76" cy="195.81" r="0.65" fill="#e5592a" fill-opacity="0.65"/>
<circle cx="633.90" cy="190.49" r="0.65" fill="#e5592a" fill-opacity="0.65"/>
<circle cx="634.10" cy="203.30" r="0.6" fill="#e5592a" fill-opacity="0.75"/>
<circle cx="641.72" cy="181.82" r="0.65" fill="#2b8a3e" fill-opacity="0.65"/>
<circle cx="641.25" cy="183.20" r="0.65" fill="#2b8a3e" fill-opacity="0.65"/>
<circle cx="641.37" cy="181.30" r="0.65" fill="#2b8a3e" fill-opacity="0.65"/>
<circle cx="641.87" cy="199.91" r="0.65" fill="#2b8a3e" fill-opacity="0.65"/>
<circle cx="641.67" cy="192.72" r="0.65" fill="#2b8a3e" fill-opacity="0.65"/>
<circle cx="641.73" cy="197.33" r="0.65" fill="#2b8a3e" fill-opacity="0.65"/>
<circle cx="641.75" cy="194.29" r="0.65" fill="#2b8a3e" fill-opacity="0.65"/>
<circle cx="641.70" cy="199.95" r="0.65" fill="#2b8a3e" fill-opacity="0.65"/>
<circle cx="641.35" cy="198.11" r="0.65" fill="#2b8a3e" fill-opacity="0.65"/>
<circle cx="641.70" cy="202.61" r="0.65" fill="#2b8a3e" fill-opacity="0.65"/>
<circle cx="641.83" cy="199.86" r="0.65" fill="#2b8a3e" fill-opacity="0.65"/>
<circle cx="641.12" cy="197.52" r="0.65" fill="#2b8a3e" fill-opacity="0.65"/>
<circle cx="641.62" cy="190.56" r="0.65" fill="#2b8a3e" fill-opacity="0.65"/>
<circle cx="641.42" cy="200.95" r="0.65" fill="#2b8a3e" fill-opacity="0.65"/>
<circle cx="641.81" cy="201.71" r="0.65" fill="#2b8a3e" fill-opacity="0.65"/>
<circle cx="641.08" cy="197.47" r="0.65" fill="#2b8a3e" fill-opacity="0.65"/>
<circle cx="641.78" cy="198.08" r="0.65" fill="#2b8a3e" fill-opacity="0.65"/>
<circle cx="641.29" cy="189.91" r="0.65" fill="#2b8a3e" fill-opacity="0.65"/>
<circle cx="641.83" cy="200.83" r="0.65" fill="#2b8a3e" fill-opacity="0.65"/>
<circle cx="641.59" cy="194.27" r="0.65" fill="#2b8a3e" fill-opacity="0.65"/>
<circle cx="641.75" cy="200.24" r="0.65" fill="#2b8a3e" fill-opacity="0.65"/>
<circle cx="641.65" cy="197.38" r="0.65" fill="#2b8a3e" fill-opacity="0.65"/>
<circle cx="641.29" cy="193.34" r="0.65" fill="#2b8a3e" fill-opacity="0.65"/>
<circle cx="641.32" cy="193.75" r="0.65" fill="#2b8a3e" fill-opacity="0.65"/>
<circle cx="641.47" cy="190.92" r="0.65" fill="#2b8a3e" fill-opacity="0.65"/>
<circle cx="641.65" cy="194.03" r="0.65" fill="#2b8a3e" fill-opacity="0.65"/>
<circle cx="641.14" cy="192.79" r="0.65" fill="#2b8a3e" fill-opacity="0.65"/>
<circle cx="641.35" cy="195.14" r="0.65" fill="#2b8a3e" fill-opacity="0.65"/>
<circle cx="644.00" cy="181.80" r="0.65" fill="#e5592a" fill-opacity="0.65"/>
<circle cx="643.50" cy="190.50" r="0.65" fill="#e5592a" fill-opacity="0.65"/>
<circle cx="643.46" cy="195.02" r="0.65" fill="#e5592a" fill-opacity="0.65"/>
<circle cx="643.40" cy="188.10" r="0.65" fill="#e5592a" fill-opacity="0.65"/>
<circle cx="643.80" cy="194.89" r="0.65" fill="#e5592a" fill-opacity="0.65"/>
<circle cx="644.04" cy="193.14" r="0.65" fill="#e5592a" fill-opacity="0.65"/>
<circle cx="643.59" cy="196.33" r="0.65" fill="#e5592a" fill-opacity="0.65"/>
<circle cx="643.96" cy="192.34" r="0.65" fill="#e5592a" fill-opacity="0.65"/>
<circle cx="643.81" cy="196.87" r="0.65" fill="#e5592a" fill-opacity="0.65"/>
<circle cx="644.20" cy="196.82" r="0.65" fill="#e5592a" fill-opacity="0.65"/>
<circle cx="643.42" cy="190.84" r="0.65" fill="#e5592a" fill-opacity="0.65"/>
<circle cx="643.67" cy="189.27" r="0.65" fill="#e5592a" fill-opacity="0.65"/>
<circle cx="643.99" cy="188.20" r="0.65" fill="#e5592a" fill-opacity="0.65"/>
<circle cx="644.10" cy="193.40" r="0.65" fill="#e5592a" fill-opacity="0.65"/>
<circle cx="643.85" cy="191.71" r="0.65" fill="#e5592a" fill-opacity="0.65"/>
<circle cx="644.14" cy="193.33" r="0.65" fill="#e5592a" fill-opacity="0.65"/>
<circle cx="644.11" cy="196.73" r="0.65" fill="#e5592a" fill-opacity="0.65"/>
<circle cx="643.92" cy="197.34" r="0.65" fill="#e5592a" fill-opacity="0.65"/>
<circle cx="643.74" cy="191.23" r="0.65" fill="#e5592a" fill-opacity="0.65"/>
<circle cx="644.06" cy="192.83" r="0.65" fill="#e5592a" fill-opacity="0.65"/>
<circle cx="643.58" cy="194.33" r="0.65" fill="#e5592a" fill-opacity="0.65"/>
<circle cx="643.73" cy="188.87" r="0.65" fill="#e5592a" fill-opacity="0.65"/>
<circle cx="643.75" cy="203.30" r="0.6" fill="#e5592a" fill-opacity="0.75"/>
<circle cx="651.55" cy="181.80" r="0.65" fill="#2b8a3e" fill-opacity="0.65"/>
<circle cx="651.67" cy="181.92" r="0.65" fill="#2b8a3e" fill-opacity="0.65"/>
<circle cx="651.64" cy="181.04" r="0.65" fill="#2b8a3e" fill-opacity="0.65"/>
<circle cx="651.00" cy="196.40" r="0.65" fill="#2b8a3e" fill-opacity="0.65"/>
<circle cx="651.49" cy="200.37" r="0.65" fill="#2b8a3e" fill-opacity="0.65"/>
<circle cx="651.38" cy="191.05" r="0.65" fill="#2b8a3e" fill-opacity="0.65"/>
<circle cx="651.15" cy="189.86" r="0.65" fill="#2b8a3e" fill-opacity="0.65"/>
<circle cx="651.13" cy="201.97" r="0.65" fill="#2b8a3e" fill-opacity="0.65"/>
<circle cx="651.11" cy="198.70" r="0.65" fill="#2b8a3e" fill-opacity="0.65"/>
<circle cx="651.36" cy="191.30" r="0.65" fill="#2b8a3e" fill-opacity="0.65"/>
<circle cx="651.42" cy="190.46" r="0.65" fill="#2b8a3e" fill-opacity="0.65"/>
<circle cx="650.97" cy="197.11" r="0.65" fill="#2b8a3e" fill-opacity="0.65"/>
<circle cx="650.91" cy="202.23" r="0.65" fill="#2b8a3e" fill-opacity="0.65"/>
<circle cx="651.18" cy="197.78" r="0.65" fill="#2b8a3e" fill-opacity="0.65"/>
<circle cx="651.67" cy="190.84" r="0.65" fill="#2b8a3e" fill-opacity="0.65"/>
<circle cx="651.70" cy="189.93" r="0.65" fill="#2b8a3e" fill-opacity="0.65"/>
<circle cx="651.34" cy="198.12" r="0.65" fill="#2b8a3e" fill-opacity="0.65"/>
<circle cx="651.69" cy="194.16" r="0.65" fill="#2b8a3e" fill-opacity="0.65"/>
<circle cx="651.65" cy="198.05" r="0.65" fill="#2b8a3e" fill-opacity="0.65"/>
<circle cx="651.23" cy="191.66" r="0.65" fill="#2b8a3e" fill-opacity="0.65"/>
<circle cx="651.01" cy="194.26" r="0.65" fill="#2b8a3e" fill-opacity="0.65"/>
<circle cx="651.11" cy="194.34" r="0.65" fill="#2b8a3e" fill-opacity="0.65"/>
<circle cx="651.53" cy="194.39" r="0.65" fill="#2b8a3e" fill-opacity="0.65"/>
<circle cx="651.37" cy="189.91" r="0.65" fill="#2b8a3e" fill-opacity="0.65"/>
<circle cx="650.93" cy="198.84" r="0.65" fill="#2b8a3e" fill-opacity="0.65"/>
<circle cx="651.60" cy="193.56" r="0.65" fill="#2b8a3e" fill-opacity="0.65"/>
<circle cx="650.83" cy="192.49" r="0.65" fill="#2b8a3e" fill-opacity="0.65"/>
<circle cx="651.12" cy="194.27" r="0.65" fill="#2b8a3e" fill-opacity="0.65"/>
<circle cx="653.61" cy="181.80" r="0.65" fill="#e5592a" fill-opacity="0.65"/>
<circle cx="653.68" cy="195.38" r="0.65" fill="#e5592a" fill-opacity="0.65"/>
<circle cx="653.80" cy="194.94" r="0.65" fill="#e5592a" fill-opacity="0.65"/>
<circle cx="653.63" cy="190.18" r="0.65" fill="#e5592a" fill-opacity="0.65"/>
<circle cx="653.86" cy="190.47" r="0.65" fill="#e5592a" fill-opacity="0.65"/>
<circle cx="653.87" cy="192.03" r="0.65" fill="#e5592a" fill-opacity="0.65"/>
<circle cx="653.67" cy="192.54" r="0.65" fill="#e5592a" fill-opacity="0.65"/>
<circle cx="653.69" cy="190.98" r="0.65" fill="#e5592a" fill-opacity="0.65"/>
<circle cx="653.62" cy="194.89" r="0.65" fill="#e5592a" fill-opacity="0.65"/>
<circle cx="653.43" cy="193.54" r="0.65" fill="#e5592a" fill-opacity="0.65"/>
<circle cx="653.51" cy="192.25" r="0.65" fill="#e5592a" fill-opacity="0.65"/>
<circle cx="653.45" cy="193.01" r="0.65" fill="#e5592a" fill-opacity="0.65"/>
<circle cx="653.74" cy="189.32" r="0.65" fill="#e5592a" fill-opacity="0.65"/>
<circle cx="653.23" cy="195.75" r="0.65" fill="#e5592a" fill-opacity="0.65"/>
<circle cx="653.18" cy="195.45" r="0.65" fill="#e5592a" fill-opacity="0.65"/>
<circle cx="653.78" cy="189.75" r="0.65" fill="#e5592a" fill-opacity="0.65"/>
<circle cx="653.67" cy="190.11" r="0.65" fill="#e5592a" fill-opacity="0.65"/>
<circle cx="653.89" cy="189.55" r="0.65" fill="#e5592a" fill-opacity="0.65"/>
<circle cx="653.20" cy="187.96" r="0.65" fill="#e5592a" fill-opacity="0.65"/>
<circle cx="653.75" cy="189.70" r="0.65" fill="#e5592a" fill-opacity="0.65"/>
<circle cx="653.38" cy="197.27" r="0.65" fill="#e5592a" fill-opacity="0.65"/>
<circle cx="653.76" cy="194.90" r="0.65" fill="#e5592a" fill-opacity="0.65"/>
<circle cx="653.55" cy="203.30" r="0.6" fill="#e5592a" fill-opacity="0.75"/>
<line x1="619.25" y1="179.00" x2="619.25" y2="205.50" stroke="#6a6a6a" stroke-width="0.8" />
<line x1="618.95" y1="205.20" x2="655.80" y2="205.20" stroke="#6a6a6a" stroke-width="0.8" />
</g>
</svg>
</body></html>
